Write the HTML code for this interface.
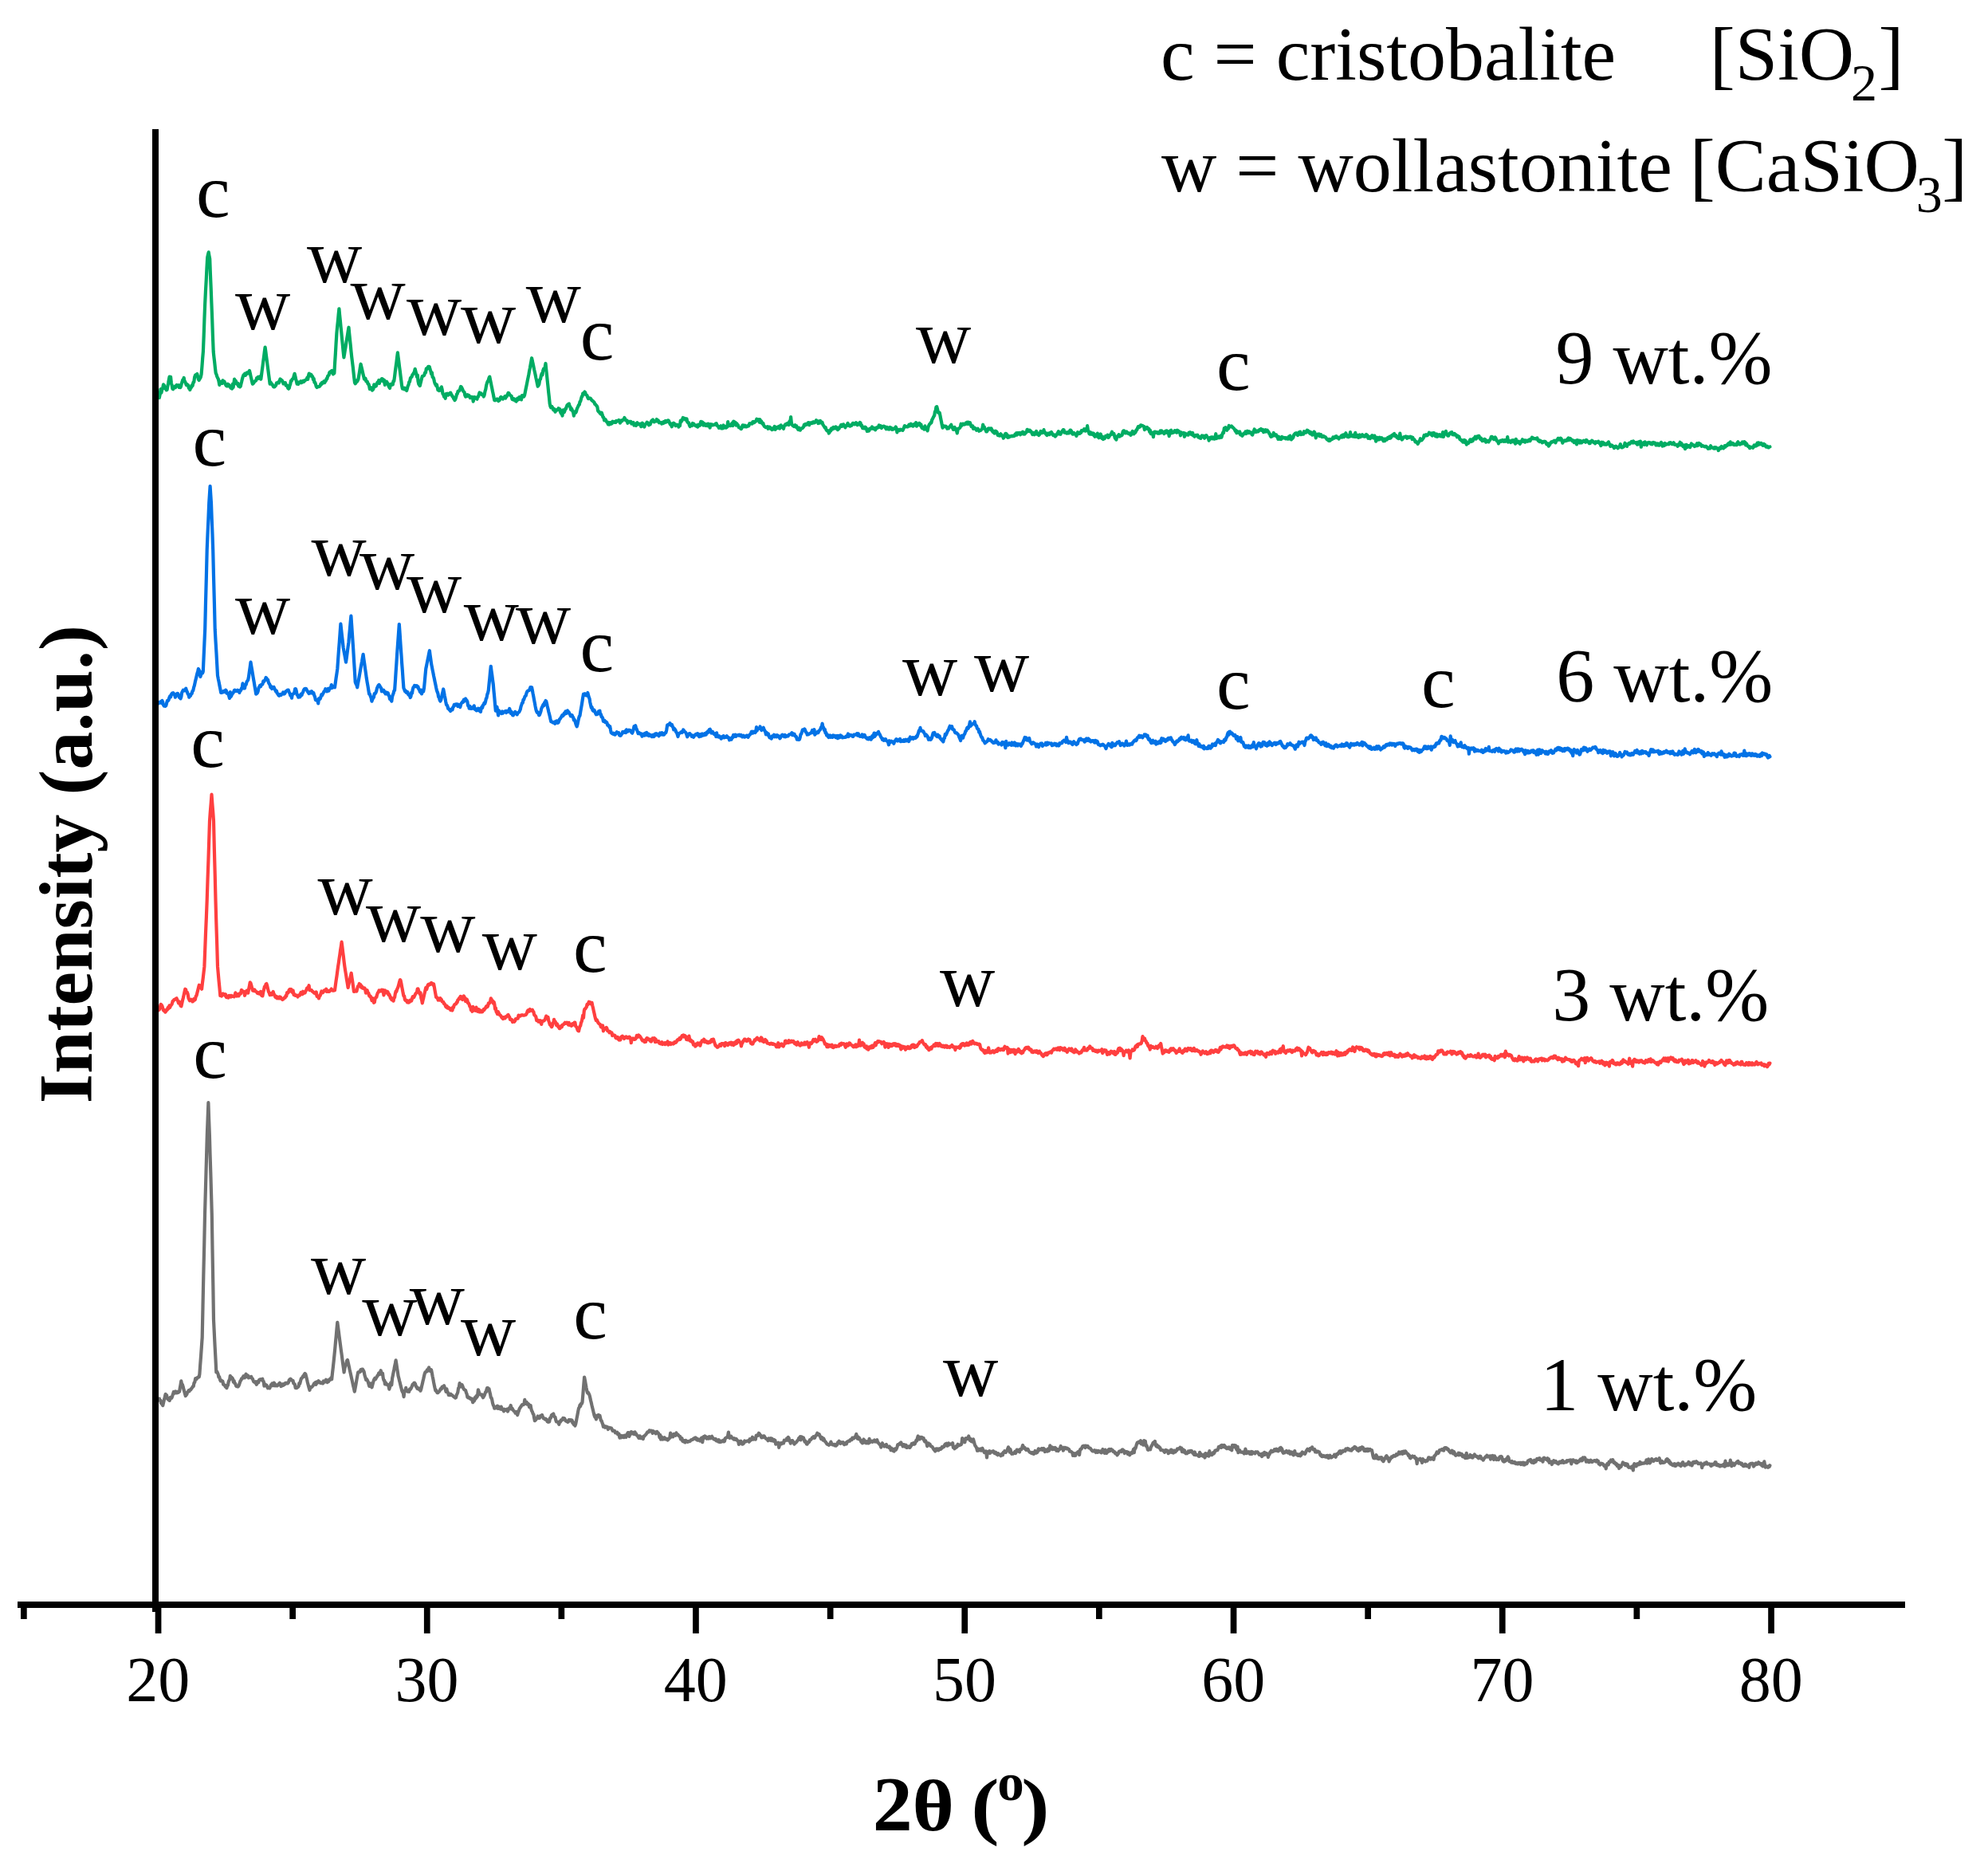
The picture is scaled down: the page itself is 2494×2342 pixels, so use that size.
<!DOCTYPE html>
<html><head><meta charset="utf-8"><title>XRD</title>
<style>html,body{margin:0;padding:0;background:#fff;}svg{display:block;}</style>
</head><body>
<svg width="2494" height="2342" viewBox="0 0 2494 2342">
<rect width="2494" height="2342" fill="#fff"/>
<path d="M199.9 1754.4 L200.6 1756.8 L201.4 1756.7 L202.1 1760.4 L202.8 1759.6 L203.6 1761.9 L204.3 1763.1 L205.1 1759.5 L205.9 1756.0 L206.8 1752.5 L207.6 1748.9 L208.3 1750.1 L209.1 1750.2 L209.8 1753.6 L210.5 1755.1 L211.3 1754.1 L212.0 1756.5 L212.8 1756.9 L213.7 1753.0 L214.5 1753.8 L215.3 1753.9 L216.1 1751.7 L216.9 1749.2 L217.8 1746.0 L218.6 1747.8 L219.4 1747.6 L220.2 1745.5 L221.0 1745.8 L221.8 1747.4 L222.7 1745.9 L223.5 1746.8 L224.3 1746.2 L225.1 1745.6 L225.8 1741.2 L226.6 1736.8 L227.3 1732.4 L228.1 1736.7 L228.9 1736.9 L229.7 1739.5 L230.4 1742.7 L231.2 1745.4 L232.0 1748.4 L232.8 1751.1 L233.6 1750.0 L234.4 1749.0 L235.2 1746.2 L235.9 1745.8 L236.7 1744.3 L237.5 1745.2 L238.3 1743.4 L239.2 1743.5 L240.1 1741.9 L240.9 1741.2 L241.8 1739.3 L242.7 1739.0 L243.5 1734.7 L244.3 1733.9 L245.2 1729.1 L246.0 1730.2 L246.7 1729.9 L247.5 1728.1 L248.2 1728.1 L248.9 1727.2 L249.7 1727.3 L250.4 1723.6 L251.2 1712.1 L252.1 1700.5 L252.9 1689.0 L253.7 1677.5 L254.5 1639.0 L255.3 1600.6 L256.2 1562.2 L257.0 1523.7 L257.7 1499.0 L258.4 1474.3 L259.1 1449.6 L259.8 1424.9 L260.6 1404.1 L261.4 1383.2 L262.1 1404.1 L262.9 1424.9 L263.6 1449.6 L264.4 1474.3 L265.1 1499.0 L265.8 1523.7 L266.5 1567.6 L267.3 1611.6 L268.0 1655.5 L268.8 1672.0 L269.6 1688.5 L270.5 1704.9 L271.3 1721.4 L272.1 1720.4 L272.9 1722.0 L273.7 1724.1 L274.4 1727.5 L275.2 1727.1 L276.0 1730.6 L276.8 1732.4 L277.6 1731.4 L278.5 1732.4 L279.3 1732.5 L280.2 1736.7 L281.0 1737.2 L281.9 1737.3 L282.7 1739.5 L283.6 1738.3 L284.4 1741.2 L285.1 1738.7 L285.9 1737.8 L286.6 1733.8 L287.3 1731.7 L288.1 1730.7 L288.8 1725.8 L289.6 1727.7 L290.4 1727.6 L291.2 1728.6 L292.0 1729.4 L292.8 1733.6 L293.6 1732.1 L294.4 1735.3 L295.2 1735.5 L296.0 1738.2 L296.8 1739.2 L297.6 1739.0 L298.4 1739.5 L299.2 1738.9 L300.0 1737.2 L300.7 1734.9 L301.5 1732.3 L302.3 1731.4 L303.1 1729.3 L303.9 1729.3 L304.7 1727.6 L305.5 1726.2 L306.2 1727.3 L307.0 1728.3 L307.8 1725.3 L308.6 1723.6 L309.4 1727.1 L310.2 1727.0 L311.1 1725.5 L311.9 1728.4 L312.7 1728.0 L313.6 1727.4 L314.4 1727.3 L315.2 1726.9 L316.0 1729.0 L316.9 1729.6 L317.7 1731.9 L318.5 1733.4 L319.3 1733.3 L320.1 1734.5 L321.0 1733.3 L321.8 1736.8 L322.6 1735.3 L323.4 1732.8 L324.3 1734.3 L325.1 1731.0 L325.9 1730.5 L326.8 1730.2 L327.6 1730.9 L328.4 1730.2 L329.2 1729.6 L329.9 1732.4 L330.7 1733.0 L331.4 1738.6 L332.2 1736.2 L333.0 1736.6 L333.7 1738.2 L334.5 1737.7 L335.2 1739.7 L336.0 1741.2 L336.8 1740.4 L337.5 1740.6 L338.3 1741.3 L339.1 1739.5 L339.9 1737.2 L340.6 1736.9 L341.4 1735.5 L342.2 1738.2 L342.9 1738.1 L343.7 1734.6 L344.5 1735.5 L345.3 1738.3 L346.1 1737.5 L346.9 1737.3 L347.7 1738.4 L348.5 1737.8 L349.3 1736.6 L350.1 1735.7 L350.9 1734.7 L351.7 1735.7 L352.5 1739.0 L353.3 1738.8 L354.1 1736.5 L354.9 1736.2 L355.6 1737.7 L356.4 1737.0 L357.2 1736.6 L358.0 1734.9 L358.8 1734.9 L359.6 1735.4 L360.4 1734.6 L361.1 1735.2 L361.9 1734.2 L362.7 1731.2 L363.5 1730.2 L364.3 1729.7 L365.1 1730.3 L365.9 1731.6 L366.7 1731.9 L367.5 1731.8 L368.3 1735.3 L369.1 1735.9 L369.9 1736.6 L370.7 1741.0 L371.5 1741.2 L372.3 1741.2 L373.1 1740.3 L373.9 1739.9 L374.7 1738.8 L375.4 1735.0 L376.2 1735.8 L377.0 1732.6 L377.8 1729.4 L378.6 1728.9 L379.4 1727.8 L380.2 1726.1 L380.9 1727.1 L381.7 1724.0 L382.5 1723.0 L383.3 1723.6 L384.2 1727.1 L385.1 1730.6 L385.9 1734.2 L386.8 1737.7 L387.7 1741.2 L388.5 1743.8 L389.3 1739.9 L390.1 1740.2 L390.9 1740.3 L391.7 1739.3 L392.5 1738.4 L393.3 1737.0 L394.1 1735.5 L394.9 1736.1 L395.7 1734.3 L396.5 1736.8 L397.3 1733.5 L398.1 1734.7 L398.8 1733.4 L399.6 1732.2 L400.4 1733.3 L401.2 1733.7 L401.9 1734.9 L402.7 1734.3 L403.5 1735.0 L404.3 1734.3 L405.1 1735.4 L405.8 1732.5 L406.6 1733.1 L407.4 1733.5 L408.2 1731.8 L409.0 1730.7 L409.8 1731.9 L410.6 1734.1 L411.4 1731.4 L412.2 1733.1 L413.0 1730.8 L413.8 1729.9 L414.6 1730.8 L415.4 1728.1 L416.2 1730.2 L417.0 1722.5 L417.9 1714.8 L418.7 1707.2 L419.5 1699.5 L420.3 1691.4 L421.0 1683.2 L421.8 1675.1 L422.5 1666.9 L423.3 1658.8 L424.1 1664.7 L424.9 1670.7 L425.6 1676.6 L426.4 1682.6 L427.2 1688.5 L427.9 1694.0 L428.7 1699.5 L429.4 1705.0 L430.1 1710.4 L430.9 1715.9 L431.6 1721.4 L432.5 1716.1 L433.4 1713.3 L434.2 1710.8 L435.1 1707.0 L436.0 1706.0 L436.9 1710.0 L437.8 1713.9 L438.6 1717.9 L439.5 1721.8 L440.4 1725.8 L441.1 1729.1 L441.9 1732.4 L442.6 1735.7 L443.3 1739.0 L444.1 1742.3 L444.8 1745.6 L445.7 1740.8 L446.6 1735.9 L447.4 1731.1 L448.3 1726.2 L449.2 1721.4 L450.0 1721.8 L450.9 1720.6 L451.7 1720.8 L452.5 1718.2 L453.3 1719.6 L454.1 1717.6 L455.0 1717.6 L455.8 1719.2 L456.6 1720.5 L457.5 1725.1 L458.3 1727.6 L459.2 1730.9 L460.0 1730.1 L460.9 1731.5 L461.7 1733.4 L462.6 1736.5 L463.4 1739.0 L464.2 1739.0 L464.9 1735.3 L465.7 1738.4 L466.5 1740.4 L467.2 1737.7 L468.0 1734.7 L468.8 1731.7 L469.6 1729.9 L470.3 1728.8 L471.1 1730.2 L471.9 1728.5 L472.8 1727.3 L473.6 1725.4 L474.4 1725.0 L475.2 1722.5 L476.1 1723.9 L476.9 1722.5 L477.7 1719.2 L478.5 1724.0 L479.2 1723.3 L480.0 1722.7 L480.7 1728.4 L481.5 1731.6 L482.2 1731.7 L483.0 1736.5 L483.8 1734.2 L484.5 1736.7 L485.3 1736.3 L486.0 1736.6 L486.8 1737.7 L487.5 1738.6 L488.3 1742.6 L489.1 1740.0 L489.8 1735.2 L490.6 1734.1 L491.3 1737.4 L492.1 1729.0 L492.9 1725.2 L493.6 1721.5 L494.4 1717.7 L495.1 1713.9 L495.9 1710.2 L496.6 1706.4 L497.4 1711.3 L498.1 1716.2 L498.9 1721.1 L499.6 1726.0 L500.4 1729.0 L501.1 1732.0 L501.9 1735.0 L502.6 1738.1 L503.4 1741.1 L504.1 1744.1 L504.9 1746.0 L505.8 1747.4 L506.6 1752.1 L507.5 1744.6 L508.3 1744.6 L509.2 1740.9 L510.0 1744.1 L510.9 1745.4 L511.7 1745.6 L512.5 1744.1 L513.2 1745.8 L514.0 1742.5 L514.7 1743.0 L515.5 1741.9 L516.2 1740.5 L517.0 1738.6 L517.7 1736.5 L518.5 1736.6 L519.3 1734.9 L520.1 1734.7 L521.0 1735.9 L521.8 1739.3 L522.6 1739.4 L523.4 1742.0 L524.2 1742.1 L525.0 1741.4 L525.9 1743.0 L526.7 1741.7 L527.5 1744.7 L528.3 1742.6 L529.0 1739.3 L529.8 1736.1 L530.5 1732.8 L531.3 1729.5 L532.0 1726.3 L532.8 1723.0 L533.6 1721.1 L534.3 1720.6 L535.1 1720.7 L535.8 1718.4 L536.6 1719.7 L537.3 1716.9 L538.1 1715.4 L538.9 1719.4 L539.6 1719.9 L540.4 1717.9 L541.1 1718.4 L541.9 1722.3 L542.6 1726.3 L543.4 1730.2 L544.1 1734.2 L544.9 1738.1 L545.6 1741.3 L546.4 1744.4 L547.1 1743.8 L547.9 1745.9 L548.6 1747.1 L549.4 1747.1 L550.1 1746.0 L550.9 1745.6 L551.6 1744.6 L552.4 1742.8 L553.1 1741.8 L553.9 1742.2 L554.6 1739.6 L555.4 1739.6 L556.2 1739.1 L557.1 1738.2 L557.9 1740.8 L558.7 1742.5 L559.5 1745.8 L560.4 1742.3 L561.2 1746.2 L562.0 1746.9 L562.8 1749.9 L563.7 1749.7 L564.5 1750.1 L565.3 1748.6 L566.2 1749.7 L567.0 1750.0 L567.8 1750.7 L568.7 1751.6 L569.5 1752.2 L570.3 1752.5 L571.2 1753.6 L572.0 1753.2 L572.8 1749.7 L573.5 1748.6 L574.3 1746.5 L575.1 1741.3 L575.8 1740.7 L576.6 1735.0 L577.4 1736.3 L578.1 1736.7 L578.9 1739.4 L579.6 1737.1 L580.4 1738.9 L581.1 1741.1 L581.9 1742.5 L582.6 1743.3 L583.4 1743.6 L584.1 1744.2 L584.9 1747.0 L585.6 1748.6 L586.4 1752.6 L587.1 1753.2 L587.9 1752.5 L588.6 1753.8 L589.4 1753.5 L590.2 1754.8 L590.9 1755.1 L591.7 1754.5 L592.4 1756.2 L593.2 1759.2 L594.0 1756.0 L594.9 1757.4 L595.7 1753.2 L596.5 1754.9 L597.4 1751.2 L598.2 1752.8 L599.0 1751.3 L599.9 1743.3 L600.7 1745.6 L601.5 1748.0 L602.2 1749.3 L603.0 1749.2 L603.7 1749.7 L604.5 1749.5 L605.2 1751.5 L606.0 1753.2 L606.8 1751.7 L607.5 1750.7 L608.2 1749.0 L609.0 1746.4 L609.8 1746.2 L610.5 1743.0 L611.2 1741.0 L612.0 1741.1 L612.8 1742.8 L613.5 1742.2 L614.3 1746.2 L615.0 1748.6 L615.8 1753.2 L616.5 1753.4 L617.3 1756.1 L618.0 1760.0 L618.8 1762.7 L619.5 1763.8 L620.3 1766.7 L621.1 1766.2 L621.8 1766.4 L622.6 1764.6 L623.3 1764.1 L624.1 1763.6 L624.9 1766.9 L625.6 1764.4 L626.4 1765.7 L627.1 1765.9 L627.9 1767.5 L628.7 1764.6 L629.5 1766.6 L630.4 1768.3 L631.2 1768.4 L632.0 1770.3 L632.8 1767.7 L633.6 1768.3 L634.4 1768.7 L635.3 1769.1 L636.1 1767.7 L636.9 1770.5 L637.7 1768.8 L638.4 1766.5 L639.2 1766.2 L639.9 1765.8 L640.7 1763.0 L641.6 1767.5 L642.4 1766.4 L643.2 1768.1 L644.1 1769.3 L645.0 1770.3 L645.8 1770.7 L646.6 1772.7 L647.5 1772.8 L648.3 1770.8 L649.2 1775.1 L650.0 1771.9 L650.8 1770.1 L651.7 1767.2 L652.5 1765.9 L653.3 1764.8 L654.2 1763.3 L655.0 1762.2 L655.8 1762.1 L656.6 1762.2 L657.4 1761.5 L658.3 1755.9 L659.1 1760.9 L659.9 1758.7 L660.7 1758.9 L661.5 1761.7 L662.3 1760.6 L663.2 1761.5 L664.0 1765.0 L664.8 1764.1 L665.6 1763.0 L666.4 1767.4 L667.1 1769.8 L667.9 1771.0 L668.6 1773.3 L669.4 1774.2 L670.1 1778.6 L670.9 1782.2 L671.6 1781.8 L672.4 1780.8 L673.1 1779.0 L673.9 1779.1 L674.6 1776.5 L675.4 1778.8 L676.2 1779.0 L676.9 1778.9 L677.7 1776.1 L678.4 1776.2 L679.2 1775.8 L680.0 1774.9 L680.9 1777.4 L681.7 1779.1 L682.5 1779.1 L683.4 1780.2 L684.2 1779.7 L685.0 1781.1 L685.9 1780.7 L686.7 1783.3 L687.5 1783.8 L688.4 1782.2 L689.2 1783.5 L690.1 1778.5 L690.9 1778.9 L691.8 1775.4 L692.6 1774.7 L693.5 1774.1 L694.3 1773.5 L695.0 1776.6 L695.8 1777.3 L696.5 1777.8 L697.3 1781.6 L698.0 1783.4 L698.8 1783.3 L699.6 1784.0 L700.5 1784.5 L701.3 1786.8 L702.1 1783.2 L703.0 1783.6 L703.8 1781.4 L704.6 1781.7 L705.5 1781.2 L706.3 1778.8 L707.1 1779.7 L708.0 1779.1 L708.8 1780.6 L709.6 1782.2 L710.4 1782.8 L711.3 1782.7 L712.1 1783.8 L712.9 1783.7 L713.7 1781.1 L714.6 1781.2 L715.4 1781.1 L716.2 1782.3 L716.9 1781.3 L717.7 1781.6 L718.4 1785.0 L719.2 1784.1 L719.9 1787.0 L720.7 1786.8 L721.4 1788.5 L722.2 1786.3 L723.0 1782.4 L723.7 1778.5 L724.5 1774.5 L725.2 1770.6 L726.0 1766.7 L726.8 1765.4 L727.5 1762.5 L728.2 1764.0 L729.0 1760.7 L729.8 1760.8 L730.5 1759.2 L731.4 1748.6 L732.2 1738.1 L733.1 1727.5 L734.0 1732.0 L734.8 1736.5 L735.6 1741.1 L736.5 1745.6 L737.2 1747.5 L738.0 1746.8 L738.8 1748.5 L739.5 1750.1 L740.3 1753.3 L741.0 1756.5 L741.8 1759.7 L742.5 1762.9 L743.3 1766.2 L744.1 1769.4 L744.8 1772.6 L745.6 1775.8 L746.4 1777.7 L747.1 1775.6 L747.9 1780.4 L748.6 1778.2 L749.4 1777.4 L750.1 1775.4 L750.9 1774.9 L751.6 1777.3 L752.4 1775.6 L753.1 1778.5 L753.9 1781.9 L754.6 1782.0 L755.4 1784.7 L756.1 1786.3 L756.9 1789.8 L757.6 1788.4 L758.4 1789.2 L759.1 1790.7 L759.9 1789.4 L760.7 1789.5 L761.4 1790.9 L762.2 1790.2 L762.9 1793.0 L763.7 1790.9 L764.5 1790.8 L765.3 1791.4 L766.2 1791.4 L767.0 1791.6 L767.8 1793.1 L768.6 1794.9 L769.4 1794.8 L770.2 1794.6 L771.1 1795.0 L771.9 1797.3 L772.7 1796.9 L773.5 1797.3 L774.3 1796.7 L775.0 1799.3 L775.8 1799.3 L776.6 1798.8 L777.4 1803.6 L778.2 1802.9 L779.0 1803.3 L779.7 1800.9 L780.5 1802.0 L781.3 1802.8 L782.1 1801.1 L782.9 1803.1 L783.7 1800.5 L784.5 1800.5 L785.3 1802.9 L786.1 1800.9 L787.0 1798.5 L787.8 1797.1 L788.6 1797.2 L789.4 1802.0 L790.2 1799.3 L791.0 1799.2 L791.8 1796.1 L792.6 1796.5 L793.4 1796.5 L794.2 1798.5 L795.0 1797.1 L795.8 1799.2 L796.5 1796.3 L797.3 1798.6 L798.1 1798.5 L798.9 1800.5 L799.7 1801.0 L800.5 1802.3 L801.3 1803.8 L802.1 1801.3 L802.8 1801.4 L803.6 1804.2 L804.4 1802.6 L805.2 1804.0 L806.0 1802.7 L806.8 1805.0 L807.6 1801.7 L808.4 1801.7 L809.1 1800.5 L809.9 1799.8 L810.7 1799.0 L811.5 1797.7 L812.3 1796.2 L813.1 1796.0 L813.9 1796.4 L814.7 1794.3 L815.5 1795.2 L816.3 1795.1 L817.1 1794.6 L817.9 1796.1 L818.7 1797.9 L819.5 1795.2 L820.3 1796.5 L821.1 1796.9 L821.9 1796.5 L822.7 1798.3 L823.5 1797.6 L824.3 1795.9 L825.1 1797.7 L825.9 1797.6 L826.7 1799.5 L827.5 1803.4 L828.2 1800.0 L829.0 1805.7 L829.8 1802.3 L830.6 1803.4 L831.4 1805.5 L832.2 1805.2 L833.0 1805.1 L833.8 1803.3 L834.6 1805.4 L835.4 1804.8 L836.2 1805.7 L837.0 1805.0 L837.8 1806.5 L838.6 1804.9 L839.5 1804.9 L840.3 1803.3 L841.1 1797.7 L841.9 1802.6 L842.7 1800.2 L843.5 1800.3 L844.3 1802.2 L845.1 1798.8 L846.0 1799.2 L846.8 1799.7 L847.6 1800.7 L848.4 1797.3 L849.2 1799.7 L850.0 1799.3 L850.8 1799.9 L851.6 1801.1 L852.4 1801.7 L853.1 1801.8 L853.9 1805.3 L854.7 1805.0 L855.5 1804.2 L856.3 1807.7 L857.1 1808.2 L857.9 1806.9 L858.6 1808.8 L859.4 1809.4 L860.2 1806.8 L861.0 1807.8 L861.8 1807.8 L862.6 1808.8 L863.4 1807.8 L864.2 1808.2 L865.0 1808.2 L865.9 1807.7 L866.7 1806.5 L867.5 1806.0 L868.3 1806.1 L869.1 1805.8 L869.9 1804.7 L870.7 1804.7 L871.5 1803.8 L872.4 1803.5 L873.2 1805.5 L874.0 1804.2 L874.8 1806.5 L875.6 1805.3 L876.4 1806.5 L877.2 1806.2 L878.0 1807.5 L878.8 1805.4 L879.6 1804.3 L880.4 1803.5 L881.2 1809.1 L882.0 1804.1 L882.8 1802.3 L883.6 1803.8 L884.4 1801.5 L885.2 1802.0 L886.0 1803.0 L886.8 1804.7 L887.5 1802.9 L888.3 1804.0 L889.1 1804.6 L889.9 1802.2 L890.7 1803.5 L891.5 1804.2 L892.3 1802.3 L893.1 1801.8 L893.8 1803.3 L894.6 1803.9 L895.4 1805.4 L896.2 1805.1 L897.0 1806.0 L897.8 1804.9 L898.6 1807.3 L899.4 1806.5 L900.1 1806.7 L900.9 1808.2 L901.7 1806.2 L902.5 1809.0 L903.3 1809.0 L904.1 1808.9 L904.9 1807.6 L905.7 1808.3 L906.5 1807.4 L907.4 1806.7 L908.2 1808.4 L909.0 1807.8 L909.8 1804.2 L910.6 1803.7 L911.4 1803.1 L912.2 1803.1 L913.0 1801.6 L913.9 1796.5 L914.7 1803.2 L915.5 1803.8 L916.3 1801.6 L917.1 1801.5 L917.9 1802.9 L918.7 1804.2 L919.6 1804.5 L920.4 1805.5 L921.2 1804.3 L922.0 1805.8 L922.8 1805.7 L923.6 1804.9 L924.5 1806.4 L925.3 1807.4 L926.1 1807.4 L926.9 1812.0 L927.7 1808.7 L928.5 1808.9 L929.4 1807.7 L930.2 1809.3 L931.0 1811.6 L931.8 1811.5 L932.6 1810.9 L933.4 1809.8 L934.2 1807.5 L935.0 1808.5 L935.8 1808.4 L936.6 1807.8 L937.4 1807.6 L938.2 1807.7 L939.0 1807.0 L939.8 1808.7 L940.6 1805.2 L941.5 1806.8 L942.3 1804.8 L943.1 1806.0 L943.9 1802.7 L944.7 1803.7 L945.5 1805.5 L946.3 1804.8 L947.1 1804.4 L947.9 1805.5 L948.7 1800.5 L949.5 1800.5 L950.3 1799.9 L951.1 1800.7 L951.9 1797.7 L952.8 1798.7 L953.6 1800.0 L954.4 1800.7 L955.3 1803.3 L956.1 1802.0 L956.9 1803.1 L957.8 1801.4 L958.6 1801.3 L959.4 1802.8 L960.3 1803.9 L961.1 1804.8 L961.9 1805.0 L962.7 1805.8 L963.5 1807.2 L964.3 1804.3 L965.1 1806.6 L965.9 1804.7 L966.7 1804.2 L967.5 1807.1 L968.3 1804.6 L969.1 1807.3 L970.0 1807.7 L970.8 1805.9 L971.6 1806.5 L972.4 1806.9 L973.2 1811.7 L974.0 1810.6 L974.8 1810.5 L975.6 1810.3 L976.4 1809.8 L977.2 1815.8 L978.0 1812.8 L978.8 1811.6 L979.6 1810.3 L980.5 1811.2 L981.3 1810.0 L982.1 1809.7 L983.0 1810.4 L983.8 1806.6 L984.6 1807.5 L985.5 1806.9 L986.3 1806.7 L987.1 1804.5 L988.0 1806.6 L988.8 1802.8 L989.6 1804.0 L990.3 1807.7 L991.1 1807.2 L991.8 1810.7 L992.6 1807.8 L993.4 1807.0 L994.1 1807.0 L994.9 1808.7 L995.6 1809.4 L996.4 1811.6 L997.2 1809.6 L998.1 1809.9 L998.9 1809.2 L999.7 1808.2 L1000.6 1806.8 L1001.4 1806.4 L1002.2 1803.9 L1003.1 1803.3 L1003.9 1802.1 L1004.7 1806.4 L1005.6 1802.4 L1006.4 1802.8 L1007.2 1803.9 L1008.0 1803.6 L1008.8 1805.9 L1009.5 1808.5 L1010.3 1807.6 L1011.1 1809.3 L1011.9 1811.4 L1012.7 1811.6 L1013.5 1809.1 L1014.3 1809.5 L1015.1 1808.9 L1015.9 1806.2 L1016.6 1806.3 L1017.4 1805.7 L1018.2 1804.7 L1019.0 1803.3 L1019.8 1803.6 L1020.6 1802.1 L1021.4 1803.8 L1022.1 1803.7 L1022.9 1801.6 L1023.7 1800.6 L1024.5 1799.8 L1025.3 1797.7 L1026.1 1799.8 L1026.9 1798.8 L1027.7 1799.0 L1028.5 1801.1 L1029.3 1802.9 L1030.1 1805.0 L1030.9 1803.0 L1031.7 1803.5 L1032.5 1806.5 L1033.3 1804.5 L1034.1 1806.5 L1034.9 1808.1 L1035.8 1808.7 L1036.6 1810.2 L1037.4 1811.5 L1038.3 1812.0 L1039.1 1811.9 L1039.9 1812.8 L1040.8 1811.5 L1041.6 1811.6 L1042.4 1808.6 L1043.2 1810.9 L1044.0 1811.4 L1044.8 1812.5 L1045.6 1812.3 L1046.4 1812.0 L1047.2 1813.4 L1048.0 1811.9 L1048.8 1813.5 L1049.5 1812.9 L1050.3 1812.1 L1051.1 1809.2 L1051.9 1809.0 L1052.7 1807.7 L1053.5 1809.8 L1054.3 1810.8 L1055.1 1809.2 L1055.9 1809.5 L1056.7 1810.3 L1057.5 1809.1 L1058.4 1810.1 L1059.2 1812.2 L1060.1 1810.5 L1060.9 1810.0 L1061.8 1811.4 L1062.6 1808.6 L1063.5 1808.8 L1064.3 1807.8 L1065.1 1807.3 L1066.0 1807.7 L1066.8 1806.0 L1067.6 1805.7 L1068.5 1806.1 L1069.3 1803.7 L1070.1 1803.7 L1071.0 1804.4 L1071.8 1803.7 L1072.6 1802.6 L1073.5 1801.1 L1074.3 1799.0 L1075.1 1802.0 L1075.8 1804.7 L1076.6 1802.5 L1077.3 1805.2 L1078.1 1803.8 L1078.9 1805.9 L1079.6 1806.6 L1080.4 1808.9 L1081.1 1808.1 L1081.9 1810.3 L1082.7 1809.0 L1083.5 1805.5 L1084.3 1809.5 L1085.1 1807.2 L1085.9 1809.5 L1086.7 1810.4 L1087.5 1810.1 L1088.3 1808.2 L1089.1 1810.5 L1089.8 1810.5 L1090.6 1804.8 L1091.4 1809.1 L1092.2 1808.6 L1093.0 1807.8 L1093.8 1807.7 L1094.6 1808.8 L1095.4 1807.7 L1096.2 1807.5 L1097.0 1806.5 L1097.8 1808.5 L1098.7 1807.7 L1099.5 1807.0 L1100.3 1806.2 L1101.2 1809.6 L1102.0 1809.9 L1102.8 1811.1 L1103.7 1812.0 L1104.5 1813.1 L1105.3 1815.5 L1106.2 1812.0 L1107.0 1810.3 L1107.8 1812.7 L1108.6 1812.9 L1109.5 1814.5 L1110.3 1813.5 L1111.1 1812.5 L1111.9 1811.9 L1112.7 1814.9 L1113.5 1814.5 L1114.4 1814.9 L1115.2 1815.9 L1116.0 1814.5 L1116.8 1816.3 L1117.6 1819.2 L1118.4 1816.6 L1119.3 1818.3 L1120.1 1819.7 L1120.9 1818.4 L1121.7 1820.6 L1122.5 1817.5 L1123.2 1817.7 L1124.0 1818.6 L1124.8 1817.1 L1125.5 1815.1 L1126.3 1812.1 L1127.1 1812.3 L1127.9 1811.9 L1128.7 1810.7 L1129.5 1810.4 L1130.3 1809.4 L1131.1 1812.2 L1131.9 1811.6 L1132.7 1814.3 L1133.5 1812.1 L1134.3 1812.0 L1135.0 1814.5 L1135.8 1813.9 L1136.6 1812.8 L1137.4 1816.0 L1138.2 1815.9 L1139.0 1815.0 L1139.8 1814.3 L1140.6 1814.4 L1141.4 1815.9 L1142.2 1814.8 L1143.0 1813.6 L1143.8 1810.9 L1144.6 1810.9 L1145.3 1811.7 L1146.1 1810.1 L1146.9 1811.7 L1147.7 1811.4 L1148.5 1809.1 L1149.3 1806.9 L1150.1 1807.5 L1150.9 1804.0 L1151.7 1801.4 L1152.4 1805.4 L1153.2 1803.3 L1154.0 1805.2 L1154.8 1802.8 L1155.6 1803.3 L1156.3 1802.9 L1157.1 1803.2 L1157.8 1804.9 L1158.6 1803.9 L1159.4 1807.0 L1160.1 1808.4 L1160.9 1807.1 L1161.6 1808.3 L1162.4 1810.3 L1163.2 1814.2 L1164.1 1812.3 L1164.9 1810.5 L1165.7 1811.6 L1166.6 1811.6 L1167.4 1813.9 L1168.2 1814.3 L1169.1 1814.6 L1169.9 1815.4 L1170.7 1816.9 L1171.6 1818.4 L1172.4 1819.1 L1173.2 1820.5 L1174.0 1817.5 L1174.8 1817.3 L1175.6 1819.1 L1176.4 1817.4 L1177.2 1819.3 L1178.0 1818.6 L1178.8 1817.2 L1179.6 1816.9 L1180.4 1817.8 L1181.2 1816.9 L1182.0 1814.8 L1182.8 1815.7 L1183.6 1814.9 L1184.4 1814.9 L1185.2 1812.5 L1186.0 1811.3 L1186.8 1811.6 L1187.6 1810.7 L1188.4 1813.7 L1189.2 1813.2 L1190.0 1810.3 L1190.8 1812.2 L1191.7 1811.4 L1192.5 1811.7 L1193.4 1811.3 L1194.2 1811.9 L1195.1 1810.1 L1195.9 1815.9 L1196.8 1814.7 L1197.6 1817.3 L1198.4 1815.4 L1199.2 1816.0 L1200.0 1813.8 L1200.8 1814.8 L1201.6 1811.7 L1202.4 1813.1 L1203.2 1813.2 L1204.0 1812.8 L1204.8 1812.4 L1205.6 1812.2 L1206.4 1811.1 L1207.2 1804.0 L1208.0 1807.9 L1208.8 1808.3 L1209.6 1807.4 L1210.4 1809.2 L1211.2 1804.3 L1212.0 1804.2 L1212.8 1804.3 L1213.6 1805.0 L1214.4 1804.1 L1215.2 1801.5 L1216.0 1804.1 L1216.9 1806.9 L1217.7 1804.9 L1218.5 1808.0 L1219.4 1806.7 L1220.2 1808.7 L1221.0 1805.4 L1221.9 1808.5 L1222.7 1811.8 L1223.5 1813.8 L1224.4 1814.7 L1225.2 1816.6 L1226.0 1819.8 L1226.8 1817.3 L1227.6 1819.5 L1228.4 1818.5 L1229.2 1818.1 L1230.0 1817.4 L1230.8 1819.7 L1231.6 1817.7 L1232.4 1816.7 L1233.2 1818.6 L1234.0 1819.9 L1234.8 1822.0 L1235.6 1821.1 L1236.4 1822.6 L1237.2 1820.4 L1238.0 1828.4 L1238.8 1821.8 L1239.6 1822.9 L1240.4 1820.7 L1241.2 1820.1 L1242.0 1822.9 L1242.8 1821.6 L1243.6 1820.8 L1244.4 1821.3 L1245.2 1820.9 L1246.0 1820.2 L1246.8 1821.7 L1247.6 1823.0 L1248.4 1821.5 L1249.2 1821.7 L1250.0 1824.2 L1250.7 1824.3 L1251.5 1825.2 L1252.3 1823.3 L1253.1 1824.2 L1253.9 1824.8 L1254.7 1824.9 L1255.5 1826.2 L1256.3 1824.9 L1257.1 1823.6 L1257.9 1825.4 L1258.7 1821.8 L1259.5 1822.3 L1260.3 1820.2 L1261.1 1821.9 L1261.8 1822.1 L1262.6 1820.0 L1263.4 1819.5 L1264.2 1817.6 L1265.0 1815.3 L1265.8 1817.0 L1266.7 1821.5 L1267.5 1818.0 L1268.3 1821.2 L1269.2 1823.8 L1270.0 1823.3 L1270.8 1823.6 L1271.6 1822.9 L1272.5 1822.7 L1273.3 1820.9 L1274.1 1823.0 L1274.9 1821.2 L1275.7 1818.7 L1276.5 1818.7 L1277.4 1819.7 L1278.2 1820.8 L1279.0 1821.4 L1279.8 1818.1 L1280.6 1817.6 L1281.4 1818.0 L1282.3 1815.7 L1283.1 1812.9 L1283.9 1815.8 L1284.7 1816.7 L1285.5 1816.0 L1286.3 1817.8 L1287.1 1818.8 L1288.0 1818.1 L1288.8 1817.6 L1289.6 1818.0 L1290.4 1820.1 L1291.2 1820.9 L1292.0 1821.8 L1292.8 1822.3 L1293.6 1822.8 L1294.5 1822.0 L1295.3 1823.3 L1296.1 1822.3 L1296.9 1823.9 L1297.7 1822.8 L1298.5 1820.0 L1299.4 1820.9 L1300.2 1822.5 L1301.1 1822.0 L1301.9 1820.8 L1302.8 1817.3 L1303.6 1817.8 L1304.5 1818.8 L1305.3 1818.3 L1306.1 1817.8 L1306.9 1817.0 L1307.7 1818.9 L1308.5 1818.5 L1309.3 1816.9 L1310.1 1818.5 L1310.9 1821.1 L1311.7 1818.4 L1312.5 1819.0 L1313.3 1820.1 L1314.1 1820.6 L1314.9 1817.4 L1315.7 1819.9 L1316.5 1819.1 L1317.3 1813.3 L1318.1 1816.6 L1318.9 1816.0 L1319.7 1815.4 L1320.5 1818.2 L1321.3 1815.9 L1322.1 1817.9 L1322.9 1817.8 L1323.7 1815.9 L1324.5 1816.7 L1325.3 1819.8 L1326.1 1817.8 L1326.8 1818.3 L1327.6 1820.0 L1328.4 1818.1 L1329.2 1818.2 L1330.0 1816.3 L1330.8 1814.0 L1331.6 1816.9 L1332.3 1817.0 L1333.1 1816.8 L1333.9 1819.6 L1334.7 1815.7 L1335.5 1816.5 L1336.3 1815.8 L1337.1 1816.3 L1337.9 1817.4 L1338.7 1816.6 L1339.6 1817.2 L1340.4 1817.9 L1341.2 1818.4 L1342.0 1820.7 L1342.8 1820.7 L1343.6 1820.8 L1344.4 1821.5 L1345.2 1822.1 L1346.1 1825.9 L1346.9 1824.1 L1347.7 1823.3 L1348.5 1826.0 L1349.3 1825.8 L1350.1 1823.3 L1350.9 1822.4 L1351.7 1822.1 L1352.5 1821.0 L1353.3 1821.2 L1354.1 1825.0 L1354.9 1818.8 L1355.8 1817.5 L1356.6 1817.6 L1357.4 1815.8 L1358.2 1814.3 L1359.0 1814.7 L1359.8 1813.6 L1360.6 1814.0 L1361.4 1816.0 L1362.2 1813.6 L1362.9 1815.0 L1363.7 1814.8 L1364.5 1813.9 L1365.3 1815.3 L1366.0 1816.2 L1366.8 1816.4 L1367.6 1816.5 L1368.4 1817.6 L1369.1 1818.5 L1369.9 1819.7 L1370.7 1820.3 L1371.5 1820.4 L1372.3 1820.3 L1373.1 1819.2 L1373.9 1820.7 L1374.7 1822.0 L1375.5 1819.7 L1376.3 1820.2 L1377.1 1821.8 L1377.9 1820.0 L1378.6 1821.1 L1379.4 1821.0 L1380.2 1820.5 L1381.0 1822.0 L1381.8 1822.4 L1382.6 1821.1 L1383.4 1818.0 L1384.2 1820.7 L1385.0 1821.2 L1385.8 1822.8 L1386.6 1818.6 L1387.5 1821.8 L1388.3 1822.9 L1389.1 1819.9 L1390.0 1821.2 L1390.8 1818.3 L1391.6 1817.9 L1392.5 1820.1 L1393.3 1818.4 L1394.1 1817.9 L1395.0 1819.1 L1395.8 1819.0 L1396.6 1821.1 L1397.5 1820.9 L1398.3 1821.4 L1399.1 1823.2 L1400.0 1822.6 L1400.8 1823.3 L1401.6 1825.4 L1402.3 1824.0 L1403.1 1823.4 L1403.8 1821.0 L1404.6 1820.4 L1405.4 1820.4 L1406.1 1819.9 L1406.9 1821.0 L1407.6 1818.7 L1408.4 1818.3 L1409.2 1819.4 L1410.0 1819.5 L1410.8 1823.0 L1411.6 1822.0 L1412.4 1821.3 L1413.2 1821.0 L1414.0 1821.0 L1414.8 1823.8 L1415.6 1821.8 L1416.4 1824.1 L1417.2 1825.3 L1418.0 1823.8 L1418.8 1823.5 L1419.6 1821.9 L1420.4 1823.1 L1421.2 1820.9 L1422.0 1818.0 L1422.8 1822.1 L1423.6 1816.4 L1424.4 1817.0 L1425.2 1814.6 L1426.0 1811.5 L1426.8 1809.7 L1427.7 1809.8 L1428.5 1808.7 L1429.3 1809.7 L1430.2 1809.8 L1431.0 1807.2 L1431.8 1811.4 L1432.7 1811.3 L1433.5 1810.8 L1434.3 1812.6 L1435.2 1807.0 L1436.0 1809.7 L1436.8 1807.6 L1437.6 1813.6 L1438.4 1813.1 L1439.2 1815.3 L1439.9 1818.6 L1440.7 1818.8 L1441.5 1818.0 L1442.3 1817.8 L1443.1 1818.3 L1444.0 1814.7 L1444.8 1813.8 L1445.6 1812.2 L1446.4 1810.2 L1447.3 1809.2 L1448.1 1809.0 L1448.9 1807.9 L1449.7 1812.5 L1450.5 1814.1 L1451.3 1812.4 L1452.2 1815.2 L1453.0 1814.0 L1453.8 1814.5 L1454.6 1816.6 L1455.4 1816.2 L1456.2 1819.0 L1457.0 1818.8 L1457.8 1819.1 L1458.6 1819.3 L1459.4 1819.4 L1460.2 1820.7 L1461.0 1821.8 L1461.8 1820.5 L1462.6 1818.9 L1463.4 1820.2 L1464.1 1819.5 L1464.9 1819.7 L1465.7 1823.2 L1466.5 1822.2 L1467.3 1822.2 L1468.1 1820.8 L1468.9 1818.7 L1469.7 1818.6 L1470.5 1822.0 L1471.3 1821.6 L1472.1 1822.4 L1473.0 1819.6 L1473.8 1819.6 L1474.6 1821.3 L1475.5 1819.5 L1476.3 1819.4 L1477.1 1817.4 L1478.0 1817.7 L1478.8 1817.0 L1479.6 1817.4 L1480.5 1815.7 L1481.3 1817.8 L1482.1 1816.4 L1482.9 1821.2 L1483.7 1820.4 L1484.5 1818.5 L1485.3 1821.6 L1486.1 1819.5 L1486.9 1822.4 L1487.7 1823.3 L1488.5 1822.1 L1489.2 1823.2 L1490.0 1822.3 L1490.8 1820.5 L1491.6 1821.9 L1492.4 1820.2 L1493.2 1819.9 L1494.0 1821.0 L1494.8 1819.9 L1495.6 1821.5 L1496.4 1822.8 L1497.2 1822.6 L1498.0 1824.8 L1498.8 1821.5 L1499.6 1825.1 L1500.3 1824.1 L1501.1 1825.1 L1501.9 1825.1 L1502.7 1825.5 L1503.5 1826.5 L1504.3 1826.9 L1505.1 1821.9 L1505.8 1826.2 L1506.6 1823.7 L1507.4 1825.4 L1508.2 1825.1 L1509.0 1826.6 L1509.8 1825.7 L1510.7 1824.5 L1511.5 1828.5 L1512.3 1823.1 L1513.2 1824.0 L1514.0 1826.0 L1514.8 1825.4 L1515.7 1823.1 L1516.5 1826.6 L1517.3 1820.2 L1518.1 1823.5 L1518.8 1824.3 L1519.6 1824.9 L1520.4 1825.1 L1521.2 1823.9 L1521.9 1822.3 L1522.7 1823.5 L1523.5 1822.5 L1524.3 1819.7 L1525.0 1820.0 L1525.8 1819.1 L1526.6 1819.0 L1527.4 1819.1 L1528.2 1817.4 L1528.9 1814.8 L1529.7 1815.7 L1530.5 1814.8 L1531.3 1813.6 L1532.0 1815.9 L1532.8 1812.8 L1533.6 1813.0 L1534.4 1813.5 L1535.1 1815.2 L1535.9 1813.0 L1536.7 1814.0 L1537.5 1816.0 L1538.3 1815.4 L1539.0 1817.2 L1539.8 1816.5 L1540.6 1815.7 L1541.4 1817.1 L1542.2 1815.5 L1543.0 1817.7 L1543.7 1818.0 L1544.5 1815.9 L1545.3 1819.3 L1546.1 1812.8 L1546.9 1813.9 L1547.6 1814.1 L1548.4 1812.9 L1549.2 1815.3 L1550.0 1813.3 L1550.9 1817.3 L1551.7 1818.8 L1552.6 1814.9 L1553.4 1822.2 L1554.3 1819.1 L1555.1 1819.1 L1556.0 1821.2 L1556.8 1821.6 L1557.6 1821.6 L1558.4 1821.8 L1559.2 1821.3 L1560.0 1822.1 L1560.8 1823.5 L1561.6 1822.6 L1562.4 1817.5 L1563.2 1820.4 L1564.0 1823.1 L1564.8 1821.2 L1565.6 1822.4 L1566.4 1821.1 L1567.2 1822.6 L1568.0 1823.9 L1568.8 1821.6 L1569.6 1821.0 L1570.4 1823.9 L1571.2 1821.2 L1572.0 1822.1 L1572.8 1822.4 L1573.6 1822.9 L1574.4 1823.3 L1575.2 1821.3 L1576.0 1821.8 L1576.8 1821.6 L1577.6 1821.3 L1578.3 1822.6 L1579.1 1823.8 L1579.9 1824.9 L1580.7 1823.9 L1581.5 1824.5 L1582.3 1825.8 L1583.1 1827.0 L1583.8 1823.5 L1584.6 1824.2 L1585.4 1825.2 L1586.2 1821.8 L1587.0 1824.8 L1587.8 1824.0 L1588.6 1823.0 L1589.4 1823.4 L1590.2 1825.1 L1591.0 1827.9 L1591.8 1824.4 L1592.6 1824.5 L1593.4 1821.5 L1594.2 1820.8 L1594.9 1819.7 L1595.7 1821.3 L1596.5 1820.1 L1597.3 1820.7 L1598.1 1820.1 L1598.9 1818.2 L1599.7 1819.3 L1600.5 1819.7 L1601.3 1817.7 L1602.1 1819.0 L1602.9 1820.2 L1603.7 1820.4 L1604.5 1818.0 L1605.3 1816.8 L1606.0 1819.2 L1606.8 1815.9 L1607.6 1816.7 L1608.4 1817.9 L1609.2 1821.6 L1610.0 1822.8 L1610.8 1821.3 L1611.6 1822.4 L1612.4 1821.1 L1613.2 1821.2 L1613.9 1820.0 L1614.7 1821.0 L1615.5 1822.3 L1616.3 1822.6 L1617.1 1820.3 L1617.9 1821.0 L1618.7 1823.8 L1619.5 1823.4 L1620.2 1821.4 L1621.0 1822.7 L1621.8 1824.5 L1622.6 1825.3 L1623.4 1824.6 L1624.2 1820.0 L1625.0 1824.4 L1625.8 1824.4 L1626.5 1824.0 L1627.3 1824.1 L1628.1 1825.7 L1628.9 1826.0 L1629.7 1825.8 L1630.5 1824.3 L1631.3 1826.2 L1632.2 1825.4 L1633.0 1822.7 L1633.8 1821.5 L1634.6 1823.4 L1635.4 1822.8 L1636.3 1822.5 L1637.1 1823.9 L1637.9 1822.3 L1638.7 1820.2 L1639.5 1819.1 L1640.4 1817.7 L1641.2 1818.9 L1642.0 1819.4 L1642.8 1820.0 L1643.6 1817.0 L1644.5 1817.7 L1645.3 1817.3 L1646.1 1815.3 L1646.9 1817.6 L1647.7 1818.5 L1648.5 1818.8 L1649.3 1818.1 L1650.1 1821.4 L1650.9 1820.1 L1651.8 1821.6 L1652.6 1820.7 L1653.4 1820.5 L1654.2 1821.4 L1655.0 1821.3 L1655.8 1823.8 L1656.6 1825.5 L1657.4 1824.8 L1658.2 1827.2 L1659.0 1827.2 L1659.8 1826.8 L1660.6 1826.0 L1661.4 1827.2 L1662.2 1827.2 L1663.0 1827.6 L1663.8 1826.1 L1664.6 1827.5 L1665.3 1825.8 L1666.1 1828.7 L1666.9 1828.9 L1667.7 1826.9 L1668.5 1825.8 L1669.3 1828.2 L1670.1 1828.4 L1670.9 1827.9 L1671.7 1827.2 L1672.5 1826.6 L1673.3 1826.6 L1674.1 1824.7 L1674.9 1826.9 L1675.7 1827.8 L1676.5 1824.3 L1677.3 1823.8 L1678.1 1824.4 L1678.9 1822.7 L1679.7 1821.9 L1680.4 1820.5 L1681.2 1820.2 L1682.0 1823.3 L1682.8 1822.2 L1683.6 1820.4 L1684.4 1821.2 L1685.2 1819.6 L1686.0 1819.9 L1686.8 1820.1 L1687.6 1820.3 L1688.4 1817.4 L1689.2 1818.5 L1690.0 1818.5 L1690.8 1817.0 L1691.5 1818.7 L1692.3 1817.7 L1693.1 1818.7 L1693.9 1819.4 L1694.7 1819.2 L1695.5 1819.6 L1696.3 1817.4 L1697.0 1818.1 L1697.8 1816.4 L1698.6 1816.3 L1699.4 1814.9 L1700.2 1816.5 L1701.0 1815.8 L1701.8 1817.4 L1702.6 1818.9 L1703.4 1819.0 L1704.2 1820.1 L1705.0 1816.9 L1705.8 1816.4 L1706.6 1818.8 L1707.4 1815.8 L1708.2 1817.1 L1709.0 1815.3 L1709.8 1815.8 L1710.7 1817.3 L1711.5 1820.0 L1712.3 1819.9 L1713.1 1820.1 L1713.9 1817.8 L1714.7 1818.6 L1715.5 1820.1 L1716.3 1817.7 L1717.1 1819.8 L1717.9 1819.2 L1718.7 1817.9 L1719.5 1818.7 L1720.3 1819.0 L1721.0 1819.3 L1721.8 1822.9 L1722.5 1826.7 L1723.3 1829.1 L1724.0 1827.3 L1724.8 1829.3 L1725.6 1827.5 L1726.5 1825.1 L1727.3 1826.8 L1728.1 1829.6 L1728.9 1828.2 L1729.7 1830.2 L1730.5 1828.3 L1731.4 1828.3 L1732.2 1829.3 L1733.0 1828.1 L1733.8 1831.4 L1734.6 1829.6 L1735.4 1833.2 L1736.3 1831.7 L1737.1 1829.3 L1737.9 1829.1 L1738.7 1827.1 L1739.5 1826.1 L1740.3 1829.5 L1741.1 1828.2 L1741.8 1829.1 L1742.6 1833.4 L1743.4 1831.0 L1744.2 1830.3 L1745.0 1829.0 L1745.8 1827.4 L1746.7 1828.0 L1747.5 1827.0 L1748.4 1825.9 L1749.2 1826.1 L1750.1 1826.7 L1750.9 1826.0 L1751.8 1824.3 L1752.6 1825.3 L1753.4 1824.6 L1754.2 1824.0 L1755.0 1821.5 L1755.8 1822.1 L1756.6 1823.6 L1757.3 1821.6 L1758.1 1822.6 L1758.9 1821.1 L1759.7 1823.8 L1760.5 1820.7 L1761.3 1820.7 L1762.1 1822.8 L1762.9 1820.3 L1763.7 1821.1 L1764.6 1822.4 L1765.4 1823.5 L1766.2 1823.8 L1767.0 1826.2 L1767.8 1825.3 L1768.7 1828.8 L1769.5 1829.3 L1770.3 1828.1 L1771.1 1827.0 L1771.9 1826.5 L1772.7 1827.5 L1773.6 1827.2 L1774.4 1827.0 L1775.2 1829.0 L1776.0 1829.9 L1776.8 1829.3 L1777.6 1836.1 L1778.4 1831.5 L1779.2 1830.7 L1780.0 1830.7 L1780.8 1830.7 L1781.7 1829.7 L1782.5 1832.0 L1783.3 1831.6 L1784.1 1834.9 L1784.9 1830.1 L1785.7 1832.1 L1786.5 1831.6 L1787.3 1832.8 L1788.1 1833.4 L1788.9 1832.3 L1789.7 1831.9 L1790.5 1832.5 L1791.3 1830.8 L1792.2 1828.3 L1793.0 1828.4 L1793.8 1829.3 L1794.6 1830.6 L1795.4 1829.8 L1796.2 1828.8 L1797.0 1830.1 L1797.8 1829.0 L1798.6 1830.8 L1799.4 1826.3 L1800.2 1825.9 L1801.0 1825.1 L1801.8 1823.6 L1802.6 1821.5 L1803.4 1822.5 L1804.2 1823.1 L1805.0 1821.9 L1805.8 1819.3 L1806.6 1819.0 L1807.4 1818.7 L1808.2 1818.7 L1808.9 1818.1 L1809.7 1819.2 L1810.5 1819.3 L1811.3 1819.6 L1812.0 1816.5 L1812.8 1816.0 L1813.6 1816.2 L1814.4 1816.2 L1815.1 1816.6 L1815.9 1818.3 L1816.7 1817.7 L1817.5 1819.2 L1818.3 1820.9 L1819.1 1820.9 L1819.8 1822.4 L1820.6 1820.8 L1821.4 1819.6 L1822.2 1820.5 L1823.0 1823.3 L1823.8 1820.9 L1824.7 1822.4 L1825.5 1825.0 L1826.3 1825.8 L1827.2 1825.2 L1828.0 1824.4 L1828.8 1824.9 L1829.7 1822.7 L1830.5 1825.3 L1831.3 1823.0 L1832.2 1824.7 L1833.0 1824.0 L1833.8 1823.8 L1834.7 1826.9 L1835.5 1827.4 L1836.4 1825.9 L1837.2 1826.7 L1838.1 1829.0 L1838.9 1827.0 L1839.7 1822.8 L1840.5 1829.0 L1841.2 1827.7 L1842.0 1826.7 L1842.8 1828.2 L1843.6 1827.8 L1844.4 1825.0 L1845.2 1826.8 L1846.0 1828.0 L1846.8 1826.1 L1847.5 1828.6 L1848.3 1826.8 L1849.1 1826.5 L1849.9 1824.5 L1850.7 1826.5 L1851.5 1826.8 L1852.4 1826.5 L1853.2 1827.3 L1854.0 1828.4 L1854.9 1829.3 L1855.7 1827.5 L1856.5 1826.5 L1857.4 1826.7 L1858.2 1829.6 L1859.0 1830.0 L1859.9 1829.8 L1860.7 1831.6 L1861.5 1829.6 L1862.3 1829.2 L1863.0 1828.3 L1863.8 1827.2 L1864.6 1827.3 L1865.4 1825.6 L1866.1 1827.6 L1866.9 1826.6 L1867.7 1826.8 L1868.5 1827.5 L1869.2 1826.5 L1870.0 1830.6 L1870.8 1826.5 L1871.6 1828.9 L1872.5 1826.0 L1873.3 1827.3 L1874.1 1831.0 L1875.0 1826.3 L1875.8 1828.1 L1876.6 1829.6 L1877.5 1831.1 L1878.3 1829.6 L1879.1 1829.9 L1880.0 1831.1 L1880.8 1829.0 L1881.6 1827.4 L1882.4 1827.6 L1883.1 1826.9 L1883.9 1827.3 L1884.7 1830.8 L1885.5 1832.7 L1886.2 1830.7 L1887.0 1833.6 L1887.8 1833.2 L1888.6 1831.4 L1889.3 1832.2 L1890.1 1829.6 L1890.9 1830.3 L1891.7 1827.3 L1892.6 1828.9 L1893.4 1833.2 L1894.3 1833.3 L1895.1 1833.8 L1896.0 1834.6 L1896.8 1832.9 L1897.7 1834.8 L1898.5 1834.1 L1899.3 1835.0 L1900.1 1834.0 L1900.9 1835.7 L1901.7 1836.0 L1902.4 1835.1 L1903.2 1836.0 L1904.0 1836.5 L1904.8 1835.0 L1905.6 1836.0 L1906.4 1834.9 L1907.2 1834.9 L1908.0 1837.1 L1908.8 1835.0 L1909.6 1835.2 L1910.3 1834.7 L1911.1 1837.3 L1911.9 1835.0 L1912.7 1837.6 L1913.5 1835.3 L1914.3 1836.5 L1915.2 1836.3 L1916.0 1835.0 L1916.9 1832.5 L1917.8 1832.1 L1918.6 1831.6 L1919.4 1832.0 L1920.2 1830.9 L1921.0 1833.9 L1921.8 1834.6 L1922.6 1832.7 L1923.4 1832.5 L1924.2 1835.0 L1925.0 1831.7 L1925.8 1832.7 L1926.6 1833.7 L1927.4 1831.5 L1928.2 1829.9 L1929.1 1830.8 L1929.9 1829.8 L1930.7 1830.8 L1931.5 1829.2 L1932.3 1831.6 L1933.1 1830.6 L1933.9 1831.6 L1934.7 1831.8 L1935.5 1833.6 L1936.3 1829.1 L1937.1 1828.7 L1937.9 1829.4 L1938.7 1830.3 L1939.5 1830.8 L1940.4 1829.7 L1941.2 1829.3 L1942.0 1832.6 L1942.9 1830.2 L1943.7 1834.8 L1944.5 1833.5 L1945.3 1834.3 L1946.1 1833.4 L1946.9 1837.0 L1947.7 1834.2 L1948.5 1834.1 L1949.3 1832.1 L1950.1 1834.5 L1950.9 1833.3 L1951.7 1833.0 L1952.5 1834.7 L1953.3 1835.4 L1954.1 1835.0 L1954.9 1836.4 L1955.7 1835.0 L1956.5 1833.6 L1957.3 1834.5 L1958.1 1834.8 L1958.9 1833.1 L1959.7 1834.2 L1960.5 1832.1 L1961.3 1834.8 L1962.1 1834.8 L1962.8 1834.4 L1963.6 1834.4 L1964.3 1833.4 L1965.1 1834.1 L1965.9 1832.1 L1966.6 1832.9 L1967.4 1832.1 L1968.1 1831.9 L1968.9 1831.6 L1969.7 1832.8 L1970.5 1831.5 L1971.3 1836.5 L1972.1 1831.7 L1972.9 1831.6 L1973.7 1831.3 L1974.6 1833.1 L1975.4 1832.4 L1976.2 1834.3 L1977.0 1832.3 L1977.8 1835.1 L1978.6 1835.0 L1979.4 1833.0 L1980.2 1833.7 L1981.0 1833.2 L1981.8 1831.9 L1982.6 1830.6 L1983.4 1830.1 L1984.2 1832.4 L1985.0 1831.9 L1985.8 1828.5 L1986.7 1829.5 L1987.5 1828.4 L1988.3 1828.6 L1989.1 1831.2 L1989.9 1833.7 L1990.7 1833.2 L1991.5 1831.6 L1992.3 1832.8 L1993.1 1834.2 L1993.8 1834.1 L1994.6 1832.0 L1995.4 1831.7 L1996.2 1832.1 L1996.9 1833.9 L1997.7 1834.0 L1998.5 1833.0 L1999.3 1832.8 L2000.0 1832.2 L2000.8 1832.1 L2001.6 1832.8 L2002.4 1833.6 L2003.3 1831.6 L2004.1 1833.0 L2004.9 1832.6 L2005.8 1836.5 L2006.6 1836.6 L2007.4 1837.5 L2008.3 1835.7 L2009.1 1836.3 L2009.9 1835.8 L2010.8 1836.5 L2011.6 1837.3 L2012.4 1838.9 L2013.2 1838.4 L2013.9 1838.5 L2014.7 1842.4 L2015.5 1838.0 L2016.3 1836.3 L2017.0 1837.0 L2017.8 1837.4 L2018.6 1833.7 L2019.4 1833.4 L2020.1 1834.0 L2020.9 1831.5 L2021.7 1833.3 L2022.5 1833.2 L2023.3 1831.2 L2024.1 1833.9 L2024.8 1835.1 L2025.6 1834.2 L2026.4 1835.9 L2027.2 1836.9 L2028.0 1836.3 L2028.8 1839.0 L2029.6 1838.2 L2030.4 1837.9 L2031.2 1842.0 L2031.9 1840.2 L2032.7 1839.1 L2033.5 1840.0 L2034.3 1837.8 L2035.1 1837.0 L2035.9 1834.4 L2036.7 1835.5 L2037.5 1836.7 L2038.3 1836.0 L2039.1 1838.2 L2039.9 1836.3 L2040.8 1838.1 L2041.6 1836.6 L2042.4 1839.8 L2043.2 1840.7 L2044.0 1840.1 L2044.8 1840.7 L2045.6 1840.4 L2046.4 1841.4 L2047.2 1840.9 L2048.0 1839.2 L2048.8 1844.5 L2049.5 1838.2 L2050.3 1836.2 L2051.1 1836.9 L2051.9 1838.0 L2052.7 1839.3 L2053.5 1836.5 L2054.3 1836.2 L2055.0 1837.0 L2055.8 1837.3 L2056.6 1836.1 L2057.4 1833.9 L2058.2 1836.6 L2059.0 1835.9 L2059.8 1835.4 L2060.6 1835.8 L2061.5 1835.6 L2062.3 1835.6 L2063.1 1834.9 L2063.9 1835.1 L2064.7 1835.0 L2065.5 1831.3 L2066.3 1835.6 L2067.2 1833.7 L2068.0 1830.4 L2068.8 1834.8 L2069.6 1835.4 L2070.4 1834.6 L2071.2 1832.6 L2072.1 1830.1 L2072.9 1831.2 L2073.7 1832.1 L2074.5 1832.8 L2075.3 1831.9 L2076.1 1830.9 L2076.9 1831.3 L2077.7 1830.1 L2078.5 1831.9 L2079.3 1832.0 L2080.1 1830.7 L2080.9 1831.2 L2081.7 1829.3 L2082.4 1831.7 L2083.2 1835.4 L2084.0 1835.1 L2084.8 1832.8 L2085.6 1833.9 L2086.4 1834.9 L2087.2 1834.5 L2088.0 1834.7 L2088.8 1833.8 L2089.6 1833.3 L2090.4 1831.0 L2091.2 1830.2 L2092.0 1830.3 L2092.8 1833.4 L2093.6 1831.8 L2094.4 1835.3 L2095.2 1834.1 L2096.0 1836.7 L2096.8 1836.0 L2097.5 1837.2 L2098.3 1838.0 L2099.1 1837.3 L2099.9 1838.3 L2100.7 1836.2 L2101.5 1839.0 L2102.3 1838.9 L2103.1 1836.6 L2103.9 1837.3 L2104.7 1837.3 L2105.5 1835.6 L2106.3 1837.2 L2107.1 1837.8 L2107.9 1836.7 L2108.7 1839.1 L2109.5 1836.5 L2110.3 1835.3 L2111.2 1834.1 L2112.0 1836.8 L2112.8 1838.2 L2113.6 1838.6 L2114.4 1836.8 L2115.2 1836.4 L2116.0 1837.4 L2116.8 1836.2 L2117.6 1836.0 L2118.4 1834.0 L2119.2 1835.6 L2120.0 1837.3 L2120.8 1835.4 L2121.7 1836.7 L2122.5 1838.4 L2123.3 1836.4 L2124.1 1834.1 L2124.9 1835.1 L2125.7 1833.7 L2126.5 1835.0 L2127.3 1834.1 L2128.1 1833.3 L2128.9 1834.0 L2129.7 1834.7 L2130.5 1836.2 L2131.3 1835.9 L2132.1 1835.6 L2132.9 1836.0 L2133.7 1835.5 L2134.5 1837.4 L2135.2 1841.1 L2136.0 1836.8 L2136.8 1837.8 L2137.6 1837.1 L2138.4 1835.4 L2139.2 1836.0 L2140.0 1836.3 L2140.8 1834.3 L2141.6 1835.9 L2142.4 1836.6 L2143.2 1836.3 L2144.0 1836.5 L2144.8 1836.4 L2145.6 1836.7 L2146.3 1838.8 L2147.1 1838.8 L2147.9 1836.7 L2148.7 1837.5 L2149.5 1837.5 L2150.3 1836.9 L2151.1 1835.3 L2151.8 1834.2 L2152.6 1834.4 L2153.4 1838.0 L2154.2 1837.9 L2155.0 1838.3 L2155.8 1837.2 L2156.6 1838.0 L2157.4 1839.4 L2158.2 1839.3 L2158.9 1838.0 L2159.7 1838.2 L2160.5 1838.7 L2161.3 1838.3 L2162.1 1837.0 L2162.9 1839.1 L2163.7 1839.6 L2164.5 1832.7 L2165.3 1838.6 L2166.1 1836.2 L2166.8 1836.2 L2167.6 1838.2 L2168.4 1838.2 L2169.2 1835.8 L2170.0 1837.3 L2170.8 1831.7 L2171.6 1835.5 L2172.4 1839.2 L2173.2 1836.3 L2174.0 1835.5 L2174.8 1837.4 L2175.6 1838.1 L2176.4 1836.9 L2177.2 1835.7 L2178.0 1834.9 L2178.8 1834.4 L2179.6 1833.3 L2180.4 1832.9 L2181.2 1835.7 L2182.0 1835.0 L2182.8 1834.8 L2183.6 1835.6 L2184.4 1837.0 L2185.2 1835.8 L2186.0 1837.8 L2186.9 1839.0 L2187.7 1839.2 L2188.5 1838.7 L2189.4 1836.7 L2190.2 1837.0 L2191.0 1839.0 L2191.9 1838.6 L2192.7 1838.3 L2193.5 1838.4 L2194.3 1840.8 L2195.1 1836.5 L2195.9 1836.4 L2196.7 1835.8 L2197.5 1836.3 L2198.3 1835.6 L2199.1 1835.9 L2199.9 1839.5 L2200.6 1838.7 L2201.4 1836.6 L2202.2 1837.5 L2203.0 1835.4 L2203.8 1835.5 L2204.6 1836.7 L2205.4 1836.0 L2206.2 1834.3 L2207.0 1835.2 L2207.8 1836.6 L2208.6 1836.2 L2209.4 1835.9 L2210.2 1838.4 L2211.0 1837.7 L2211.7 1839.3 L2212.5 1836.2 L2213.3 1833.3 L2214.1 1838.1 L2214.9 1840.6 L2215.7 1839.1 L2216.5 1839.8 L2217.2 1839.9 L2218.0 1840.7 L2218.8 1839.1 L2219.6 1840.0 L2220.4 1838.3" fill="none" stroke="#717171" stroke-width="4.2" stroke-linejoin="round" stroke-linecap="round"/>
<path d="M199.1 1267.2 L199.9 1266.3 L200.8 1263.4 L201.7 1259.8 L202.5 1260.6 L203.3 1261.7 L204.1 1264.4 L204.9 1267.2 L205.8 1268.2 L206.6 1267.4 L207.4 1269.7 L208.2 1268.5 L209.1 1266.5 L209.9 1266.8 L210.7 1263.9 L211.5 1265.0 L212.4 1261.4 L213.2 1263.9 L214.0 1261.6 L214.9 1260.7 L215.7 1259.5 L216.6 1256.0 L217.4 1255.6 L218.2 1254.2 L219.0 1254.2 L219.9 1253.5 L220.7 1252.7 L221.5 1252.3 L222.3 1253.9 L223.2 1255.8 L224.0 1258.3 L224.9 1256.4 L225.7 1258.5 L226.6 1261.8 L227.4 1262.3 L228.2 1258.7 L229.0 1255.1 L229.9 1251.5 L230.7 1247.9 L231.5 1244.3 L232.3 1240.7 L233.1 1241.2 L234.0 1245.6 L234.8 1244.8 L235.6 1246.8 L236.5 1252.2 L237.3 1254.0 L238.1 1255.3 L239.0 1254.7 L239.8 1253.8 L240.7 1255.3 L241.5 1256.4 L242.3 1255.9 L243.2 1253.2 L244.0 1254.6 L244.8 1254.2 L245.7 1249.8 L246.5 1249.0 L247.3 1245.7 L248.2 1242.3 L249.0 1239.0 L249.8 1235.7 L250.6 1236.4 L251.4 1236.6 L252.3 1239.0 L253.1 1240.7 L253.9 1233.6 L254.8 1226.6 L255.6 1219.5 L256.4 1212.4 L257.2 1191.7 L258.0 1170.9 L258.9 1150.2 L259.7 1129.4 L260.5 1104.5 L261.4 1079.6 L262.2 1054.7 L263.0 1029.8 L263.8 1018.7 L264.7 1007.7 L265.5 996.6 L266.3 1007.7 L267.2 1018.7 L268.0 1029.8 L268.8 1063.0 L269.7 1096.2 L270.5 1129.4 L271.3 1157.1 L272.2 1184.7 L273.0 1212.4 L273.8 1221.6 L274.6 1230.7 L275.5 1239.8 L276.3 1249.0 L277.1 1247.3 L278.0 1249.6 L278.8 1247.5 L279.6 1246.4 L280.5 1246.8 L281.3 1247.2 L282.2 1248.8 L283.0 1247.3 L283.8 1250.9 L284.6 1251.1 L285.5 1250.7 L286.3 1251.6 L287.1 1248.9 L288.0 1249.9 L288.8 1249.0 L289.6 1250.6 L290.4 1249.0 L291.3 1249.8 L292.1 1249.5 L292.9 1249.8 L293.8 1250.3 L294.6 1248.7 L295.4 1245.3 L296.2 1247.0 L297.1 1249.5 L297.9 1249.0 L298.7 1247.2 L299.6 1249.3 L300.4 1246.3 L301.2 1246.2 L302.0 1246.5 L302.9 1241.9 L303.7 1242.5 L304.5 1243.5 L305.4 1244.4 L306.2 1244.0 L307.0 1248.8 L307.9 1246.2 L308.7 1244.7 L309.5 1242.8 L310.4 1243.9 L311.2 1245.6 L312.0 1241.2 L312.9 1236.8 L313.7 1232.4 L314.5 1233.4 L315.3 1236.1 L316.2 1239.7 L317.0 1242.5 L317.8 1242.3 L318.6 1243.1 L319.5 1241.5 L320.3 1243.3 L321.1 1243.7 L322.0 1244.3 L322.8 1245.6 L323.6 1246.1 L324.5 1245.3 L325.3 1246.7 L326.1 1246.5 L326.9 1243.8 L327.8 1248.2 L328.6 1249.0 L329.4 1249.4 L330.3 1244.3 L331.1 1241.4 L331.9 1237.7 L332.7 1238.1 L333.6 1234.5 L334.4 1234.0 L335.2 1236.6 L336.1 1240.6 L336.9 1243.9 L337.8 1245.6 L338.6 1248.2 L339.4 1246.0 L340.2 1246.6 L341.1 1247.8 L341.9 1245.2 L342.7 1244.0 L343.5 1246.8 L344.4 1248.1 L345.2 1250.4 L346.0 1251.2 L346.9 1250.0 L347.7 1252.3 L348.5 1250.7 L349.4 1251.3 L350.2 1252.4 L351.0 1250.4 L351.9 1250.7 L352.7 1252.8 L353.5 1252.7 L354.3 1254.0 L355.2 1253.5 L356.0 1252.3 L356.8 1251.4 L357.7 1251.7 L358.5 1249.2 L359.3 1249.4 L360.1 1245.2 L361.0 1245.8 L361.8 1244.9 L362.6 1242.0 L363.5 1241.1 L364.3 1242.3 L365.1 1240.9 L366.0 1244.2 L366.8 1244.9 L367.6 1242.4 L368.5 1247.9 L369.3 1247.1 L370.2 1248.8 L371.0 1249.0 L371.8 1248.4 L372.7 1248.7 L373.5 1250.5 L374.3 1249.2 L375.1 1248.2 L376.0 1248.6 L376.8 1246.8 L377.6 1244.8 L378.5 1245.9 L379.3 1247.3 L380.1 1243.7 L380.9 1246.1 L381.8 1245.5 L382.6 1245.4 L383.4 1243.4 L384.2 1242.2 L385.1 1239.5 L385.9 1239.0 L386.7 1238.9 L387.6 1236.2 L388.4 1242.1 L389.2 1241.7 L390.1 1242.1 L390.9 1242.2 L391.8 1243.6 L392.6 1244.0 L393.4 1244.9 L394.2 1245.6 L395.1 1245.5 L395.9 1246.7 L396.7 1244.4 L397.6 1249.9 L398.4 1249.6 L399.2 1250.6 L400.0 1252.4 L400.9 1249.1 L401.7 1248.9 L402.5 1246.2 L403.4 1243.5 L404.2 1244.2 L405.0 1245.2 L405.9 1244.0 L406.7 1242.3 L407.5 1242.4 L408.4 1242.4 L409.2 1240.7 L410.0 1243.9 L410.8 1243.5 L411.7 1242.8 L412.5 1244.0 L413.3 1243.8 L414.2 1242.6 L415.0 1241.8 L415.8 1240.5 L416.7 1242.5 L417.5 1242.6 L418.3 1242.7 L419.2 1242.5 L420.0 1242.3 L420.8 1236.3 L421.6 1230.3 L422.5 1224.4 L423.3 1218.4 L424.1 1212.4 L424.9 1207.3 L425.6 1202.2 L426.4 1197.1 L427.1 1191.9 L427.9 1186.8 L428.6 1181.7 L429.4 1187.8 L430.1 1194.0 L430.9 1200.1 L431.6 1206.3 L432.4 1212.4 L433.2 1217.7 L434.1 1223.0 L434.9 1228.4 L435.8 1233.7 L436.6 1239.0 L437.4 1235.3 L438.2 1231.7 L439.1 1228.0 L439.9 1224.4 L440.7 1220.7 L441.5 1226.5 L442.4 1232.3 L443.2 1238.2 L444.0 1244.0 L444.8 1242.8 L445.7 1243.5 L446.5 1242.5 L447.4 1243.5 L448.2 1240.3 L449.0 1237.2 L449.9 1236.9 L450.7 1234.0 L451.5 1235.1 L452.3 1235.0 L453.1 1238.5 L454.0 1237.3 L454.8 1239.7 L455.6 1239.0 L456.4 1240.1 L457.3 1239.4 L458.1 1240.8 L459.0 1245.7 L459.8 1242.3 L460.6 1242.1 L461.5 1245.6 L462.3 1245.6 L463.1 1248.9 L464.0 1250.1 L464.8 1249.7 L465.6 1252.2 L466.5 1255.0 L467.3 1252.1 L468.1 1254.6 L469.0 1257.8 L469.8 1257.3 L470.6 1252.7 L471.5 1251.1 L472.3 1251.0 L473.1 1247.6 L473.9 1245.4 L474.8 1244.5 L475.6 1242.3 L476.4 1243.3 L477.2 1242.6 L478.1 1243.3 L478.9 1241.6 L479.7 1242.0 L480.6 1241.9 L481.4 1248.3 L482.2 1245.6 L483.0 1242.3 L483.7 1244.5 L484.5 1244.5 L485.2 1245.5 L486.0 1243.8 L486.7 1244.8 L487.5 1247.9 L488.3 1247.2 L489.0 1249.0 L489.8 1252.0 L490.5 1251.2 L491.3 1254.1 L492.0 1254.6 L492.8 1253.9 L493.6 1255.6 L494.3 1251.9 L495.1 1251.3 L495.8 1246.8 L496.6 1243.4 L497.4 1243.8 L498.1 1241.1 L498.9 1239.3 L499.6 1237.7 L500.4 1234.5 L501.1 1231.9 L501.9 1229.1 L502.6 1229.8 L503.4 1233.7 L504.1 1237.6 L504.9 1241.6 L505.6 1245.5 L506.4 1249.4 L507.2 1249.6 L507.9 1254.0 L508.7 1255.0 L509.4 1254.5 L510.2 1255.2 L510.9 1257.3 L511.7 1255.4 L512.5 1257.7 L513.2 1257.3 L514.0 1256.7 L514.7 1254.6 L515.5 1254.7 L516.2 1255.4 L517.0 1252.6 L517.7 1250.3 L518.5 1250.0 L519.2 1251.2 L520.0 1249.4 L520.7 1247.9 L521.5 1246.3 L522.2 1245.5 L523.0 1244.8 L523.7 1240.5 L524.5 1240.3 L525.3 1243.4 L526.0 1245.4 L526.8 1247.0 L527.5 1245.2 L528.3 1252.0 L529.0 1254.2 L529.8 1258.4 L530.5 1255.1 L531.3 1251.9 L532.0 1248.6 L532.8 1245.3 L533.5 1242.1 L534.3 1238.8 L535.1 1241.3 L535.8 1239.1 L536.6 1236.0 L537.3 1235.0 L538.1 1235.8 L538.9 1234.4 L539.6 1234.9 L540.4 1234.1 L541.1 1232.9 L541.9 1234.2 L542.6 1233.9 L543.4 1235.7 L544.1 1234.3 L544.9 1238.5 L545.6 1242.6 L546.4 1246.8 L547.1 1250.9 L548.0 1251.6 L548.8 1251.7 L549.6 1254.5 L550.5 1253.4 L551.4 1254.6 L552.2 1252.1 L553.0 1253.0 L553.9 1253.9 L554.7 1256.4 L555.4 1256.8 L556.2 1256.8 L556.9 1259.1 L557.7 1259.1 L558.5 1260.7 L559.2 1262.7 L560.0 1263.6 L560.7 1261.9 L561.5 1264.5 L562.2 1264.1 L563.0 1263.9 L563.8 1265.4 L564.5 1265.2 L565.2 1267.0 L566.0 1266.6 L566.8 1264.7 L567.5 1267.5 L568.2 1263.4 L569.0 1263.8 L569.8 1260.8 L570.5 1260.0 L571.3 1259.5 L572.0 1259.5 L572.8 1257.4 L573.6 1257.4 L574.3 1254.5 L575.1 1253.9 L576.0 1252.2 L576.8 1252.8 L577.6 1249.9 L578.5 1250.0 L579.4 1253.1 L580.2 1253.9 L581.0 1251.5 L581.9 1249.4 L582.6 1250.8 L583.4 1252.1 L584.1 1256.2 L584.9 1254.3 L585.6 1253.5 L586.4 1255.2 L587.1 1258.4 L587.9 1258.3 L588.6 1259.8 L589.4 1262.6 L590.2 1262.9 L590.9 1267.1 L591.7 1266.0 L592.5 1268.8 L593.3 1262.9 L594.2 1267.7 L595.0 1266.8 L595.8 1265.6 L596.6 1267.8 L597.4 1263.5 L598.2 1266.8 L599.1 1268.7 L599.9 1266.0 L600.7 1266.0 L601.5 1269.4 L602.2 1268.1 L603.0 1267.6 L603.8 1269.4 L604.5 1269.4 L605.3 1269.2 L606.0 1267.3 L606.8 1266.0 L607.5 1266.8 L608.3 1265.2 L609.0 1264.6 L609.8 1262.7 L610.5 1262.0 L611.3 1263.0 L612.0 1262.2 L612.8 1258.4 L613.5 1258.9 L614.3 1258.0 L615.0 1256.9 L615.8 1252.4 L616.6 1253.7 L617.3 1255.3 L618.1 1255.3 L618.8 1258.7 L619.6 1256.9 L620.4 1259.9 L621.1 1265.7 L621.9 1264.5 L622.6 1269.2 L623.4 1270.5 L624.1 1272.0 L624.9 1269.1 L625.6 1270.5 L626.4 1272.3 L627.1 1273.5 L627.9 1273.6 L628.6 1274.6 L629.4 1276.5 L630.2 1275.9 L631.0 1278.1 L631.9 1276.2 L632.7 1277.4 L633.5 1277.5 L634.3 1275.3 L635.1 1275.7 L635.9 1274.7 L636.8 1273.5 L637.6 1272.9 L638.4 1275.0 L639.2 1275.8 L639.9 1278.9 L640.7 1278.5 L641.5 1279.6 L642.2 1279.1 L643.0 1282.0 L643.7 1281.0 L644.5 1281.1 L645.2 1281.8 L646.0 1280.8 L646.8 1278.1 L647.5 1278.1 L648.2 1278.1 L649.0 1277.3 L649.8 1277.5 L650.5 1273.5 L651.3 1274.0 L652.1 1274.7 L652.9 1274.6 L653.8 1273.4 L654.6 1273.4 L655.4 1273.2 L656.2 1273.7 L657.0 1273.7 L657.8 1273.6 L658.7 1273.0 L659.5 1273.1 L660.3 1272.2 L661.1 1270.5 L661.9 1268.0 L662.6 1267.3 L663.4 1268.2 L664.1 1268.6 L664.9 1265.9 L665.6 1267.7 L666.4 1267.7 L667.1 1267.5 L667.9 1266.7 L668.6 1269.0 L669.4 1269.0 L670.1 1272.9 L670.9 1273.8 L671.7 1274.4 L672.4 1275.8 L673.2 1280.2 L673.9 1279.7 L674.7 1279.6 L675.5 1281.6 L676.2 1281.7 L677.0 1281.9 L677.7 1280.1 L678.5 1281.1 L679.2 1285.0 L680.0 1280.9 L680.7 1281.1 L681.5 1280.7 L682.2 1280.6 L683.0 1279.9 L683.7 1279.2 L684.5 1276.7 L685.2 1274.6 L686.0 1275.6 L686.7 1275.8 L687.5 1275.8 L688.2 1280.2 L689.0 1282.4 L689.8 1285.3 L690.5 1284.7 L691.3 1287.1 L692.0 1288.3 L692.8 1287.0 L693.5 1283.2 L694.3 1283.0 L695.0 1278.8 L695.8 1282.6 L696.5 1281.3 L697.3 1283.3 L698.0 1286.0 L698.8 1284.1 L699.5 1285.7 L700.3 1288.1 L701.0 1288.2 L701.8 1290.1 L702.5 1290.1 L703.3 1287.5 L704.0 1288.2 L704.8 1288.3 L705.5 1285.6 L706.3 1285.6 L707.1 1285.0 L708.0 1284.0 L708.8 1282.8 L709.6 1283.8 L710.4 1283.2 L711.3 1282.6 L712.1 1283.6 L712.9 1285.5 L713.7 1282.8 L714.6 1285.8 L715.4 1285.6 L716.1 1285.1 L716.9 1286.9 L717.6 1284.3 L718.4 1285.9 L719.1 1283.8 L719.9 1284.9 L720.6 1282.7 L721.4 1282.6 L722.2 1287.4 L722.9 1287.9 L723.7 1289.1 L724.4 1291.5 L725.2 1293.1 L726.0 1293.4 L726.7 1290.5 L727.5 1287.4 L728.2 1286.9 L729.0 1282.7 L729.7 1281.5 L730.5 1278.1 L731.2 1273.7 L732.0 1276.7 L732.8 1268.1 L733.5 1265.7 L734.2 1265.7 L735.0 1264.3 L735.8 1263.2 L736.5 1260.0 L737.2 1260.5 L738.0 1259.4 L738.8 1256.7 L739.5 1256.9 L740.3 1257.2 L741.0 1259.0 L741.8 1259.7 L742.5 1257.8 L743.3 1261.5 L744.1 1264.8 L744.8 1268.1 L745.6 1271.5 L746.3 1274.8 L747.1 1278.1 L747.9 1280.2 L748.8 1279.2 L749.6 1281.2 L750.4 1282.9 L751.3 1284.0 L752.1 1284.5 L752.9 1285.0 L753.8 1288.2 L754.6 1288.6 L755.4 1287.8 L756.1 1286.4 L756.9 1293.3 L757.6 1290.2 L758.4 1291.0 L759.2 1290.9 L759.9 1289.6 L760.7 1288.9 L761.4 1290.1 L762.2 1293.1 L763.0 1293.3 L763.7 1293.5 L764.5 1295.3 L765.2 1294.0 L766.0 1295.5 L766.7 1295.4 L767.5 1295.4 L768.2 1299.2 L769.0 1298.3 L769.9 1298.4 L770.7 1298.5 L771.6 1299.0 L772.4 1301.9 L773.3 1302.4 L774.1 1302.1 L775.0 1301.1 L775.8 1303.7 L776.6 1304.6 L777.5 1303.1 L778.3 1304.5 L779.2 1300.7 L780.0 1300.2 L780.8 1299.6 L781.6 1301.3 L782.4 1301.7 L783.1 1303.0 L783.9 1301.1 L784.7 1300.9 L785.5 1300.5 L786.3 1301.7 L787.1 1302.0 L787.9 1302.1 L788.7 1301.0 L789.5 1300.6 L790.2 1301.3 L791.0 1302.2 L791.8 1308.2 L792.6 1303.3 L793.4 1303.4 L794.2 1302.6 L794.9 1303.8 L795.7 1304.0 L796.5 1303.9 L797.3 1303.3 L798.0 1301.7 L798.8 1299.0 L799.6 1301.1 L800.4 1300.7 L801.1 1298.4 L801.9 1299.4 L802.7 1299.7 L803.5 1301.2 L804.4 1302.3 L805.2 1304.1 L806.0 1305.5 L806.9 1305.0 L807.7 1304.8 L808.5 1307.0 L809.3 1305.1 L810.1 1306.9 L810.9 1303.0 L811.6 1302.1 L812.4 1302.5 L813.2 1303.9 L814.0 1304.2 L814.8 1303.8 L815.6 1305.7 L816.4 1304.1 L817.1 1306.6 L817.9 1304.4 L818.7 1302.3 L819.5 1302.3 L820.3 1303.3 L821.1 1302.3 L821.9 1307.2 L822.6 1303.6 L823.4 1306.9 L824.2 1306.5 L825.0 1306.0 L825.7 1306.0 L826.5 1306.3 L827.3 1308.8 L828.1 1309.0 L828.8 1309.3 L829.6 1308.5 L830.4 1307.3 L831.2 1310.0 L832.0 1308.5 L832.8 1308.8 L833.6 1308.2 L834.4 1310.1 L835.2 1308.2 L836.0 1309.2 L836.8 1308.4 L837.6 1306.5 L838.3 1310.6 L839.1 1308.4 L839.9 1308.1 L840.7 1308.0 L841.5 1310.1 L842.3 1309.0 L843.1 1308.6 L843.9 1308.6 L844.7 1309.5 L845.5 1309.0 L846.3 1307.1 L847.1 1307.3 L847.8 1307.8 L848.6 1306.9 L849.4 1305.0 L850.2 1304.2 L851.0 1304.4 L851.8 1304.4 L852.5 1302.1 L853.3 1303.8 L854.1 1302.7 L854.9 1300.8 L855.7 1299.2 L856.4 1299.5 L857.2 1298.6 L858.0 1300.7 L858.8 1298.9 L859.6 1299.5 L860.4 1300.3 L861.2 1304.0 L862.0 1304.1 L862.8 1304.4 L863.6 1302.7 L864.4 1299.6 L865.2 1303.9 L865.9 1305.9 L866.7 1304.6 L867.5 1306.2 L868.3 1307.4 L869.1 1306.5 L869.9 1310.7 L870.7 1309.5 L871.5 1310.1 L872.3 1312.6 L873.1 1311.6 L873.9 1309.3 L874.6 1310.8 L875.4 1308.4 L876.1 1308.8 L876.9 1309.1 L877.7 1308.4 L878.4 1311.7 L879.2 1308.5 L879.9 1307.4 L880.7 1305.3 L881.5 1306.2 L882.3 1305.7 L883.1 1303.7 L883.9 1307.1 L884.7 1305.4 L885.5 1306.0 L886.3 1307.1 L887.1 1308.0 L887.9 1306.7 L888.6 1308.3 L889.4 1308.0 L890.2 1306.6 L891.0 1307.5 L891.8 1306.9 L892.6 1304.2 L893.4 1306.3 L894.2 1303.8 L895.0 1303.6 L895.8 1306.5 L896.6 1308.5 L897.5 1311.6 L898.3 1311.6 L899.1 1313.0 L899.9 1313.8 L900.6 1313.6 L901.4 1312.7 L902.2 1312.2 L903.0 1310.4 L903.8 1309.9 L904.5 1311.8 L905.3 1309.2 L906.1 1309.2 L906.9 1309.1 L907.7 1309.5 L908.5 1308.9 L909.2 1312.2 L910.0 1308.1 L910.8 1308.3 L911.6 1310.0 L912.4 1310.5 L913.1 1311.0 L913.9 1308.9 L914.7 1308.5 L915.5 1309.5 L916.2 1308.0 L917.0 1307.7 L917.8 1310.5 L918.6 1308.1 L919.3 1310.2 L920.1 1311.1 L920.9 1310.3 L921.7 1307.6 L922.6 1309.6 L923.4 1306.5 L924.2 1308.8 L925.1 1305.1 L925.9 1306.5 L926.7 1304.8 L927.5 1307.2 L928.3 1307.2 L929.1 1307.9 L929.9 1312.4 L930.7 1309.2 L931.5 1308.2 L932.3 1305.8 L933.1 1305.2 L933.9 1303.6 L934.7 1303.6 L935.5 1305.5 L936.4 1305.9 L937.2 1306.0 L938.0 1304.2 L938.8 1303.5 L939.6 1304.3 L940.4 1304.1 L941.2 1306.2 L942.0 1308.6 L942.8 1309.1 L943.6 1309.6 L944.4 1309.5 L945.2 1307.1 L946.0 1306.5 L946.8 1304.3 L947.6 1305.1 L948.4 1303.5 L949.2 1302.4 L950.0 1301.8 L950.9 1302.8 L951.7 1304.2 L952.5 1303.5 L953.3 1305.6 L954.1 1305.1 L954.9 1301.5 L955.7 1302.3 L956.6 1306.1 L957.4 1305.8 L958.2 1307.1 L959.1 1306.7 L959.9 1303.9 L960.7 1305.1 L961.6 1305.4 L962.4 1308.6 L963.2 1308.5 L964.1 1309.1 L964.9 1309.0 L965.7 1309.8 L966.5 1309.4 L967.4 1308.6 L968.2 1309.4 L969.0 1309.9 L969.8 1309.3 L970.6 1310.1 L971.4 1309.9 L972.3 1310.2 L973.1 1311.4 L973.9 1313.1 L974.7 1313.3 L975.5 1313.1 L976.3 1308.2 L977.2 1313.5 L978.0 1310.5 L978.8 1311.6 L979.6 1309.7 L980.4 1309.5 L981.1 1311.7 L981.9 1311.7 L982.7 1312.5 L983.5 1310.4 L984.3 1309.1 L985.0 1306.0 L985.8 1305.6 L986.6 1308.4 L987.4 1307.2 L988.2 1307.3 L989.0 1308.0 L989.7 1305.2 L990.5 1306.6 L991.3 1307.3 L992.1 1306.2 L992.9 1305.6 L993.7 1306.9 L994.4 1306.3 L995.2 1306.0 L996.0 1306.9 L996.8 1309.1 L997.6 1307.7 L998.4 1309.8 L999.2 1310.7 L1000.0 1309.7 L1000.8 1307.2 L1001.5 1310.3 L1002.3 1310.6 L1003.1 1309.8 L1003.9 1311.6 L1004.7 1310.6 L1005.5 1308.5 L1006.3 1310.3 L1007.0 1310.4 L1007.8 1310.3 L1008.6 1309.3 L1009.4 1307.6 L1010.2 1310.3 L1011.0 1307.8 L1011.8 1307.7 L1012.6 1307.1 L1013.4 1309.7 L1014.1 1310.7 L1014.9 1313.8 L1015.7 1309.9 L1016.5 1308.3 L1017.3 1308.8 L1018.1 1309.1 L1018.9 1307.6 L1019.7 1305.6 L1020.5 1303.9 L1021.3 1305.8 L1022.1 1304.7 L1022.9 1303.8 L1023.7 1306.1 L1024.4 1306.9 L1025.2 1306.3 L1026.0 1305.8 L1026.8 1304.4 L1027.6 1300.0 L1028.4 1302.5 L1029.2 1303.9 L1030.0 1304.2 L1030.8 1301.2 L1031.6 1302.3 L1032.4 1303.3 L1033.3 1305.3 L1034.1 1307.1 L1034.9 1309.6 L1035.8 1309.2 L1036.6 1310.3 L1037.4 1313.1 L1038.2 1310.2 L1039.0 1313.3 L1039.8 1311.9 L1040.5 1311.1 L1041.3 1312.5 L1042.1 1312.6 L1042.9 1311.1 L1043.7 1310.6 L1044.5 1313.8 L1045.3 1314.1 L1046.0 1313.5 L1046.8 1313.2 L1047.6 1311.6 L1048.4 1312.0 L1049.2 1312.8 L1050.0 1312.1 L1050.9 1312.5 L1051.7 1312.4 L1052.5 1312.3 L1053.4 1309.8 L1054.2 1309.5 L1055.0 1310.9 L1055.9 1308.7 L1056.7 1309.3 L1057.5 1309.6 L1058.4 1309.1 L1059.2 1309.8 L1060.0 1311.7 L1060.8 1313.8 L1061.6 1311.2 L1062.3 1309.4 L1063.1 1311.8 L1063.9 1311.6 L1064.7 1310.3 L1065.5 1308.4 L1066.3 1308.5 L1067.1 1310.4 L1067.9 1310.8 L1068.7 1311.1 L1069.4 1311.7 L1070.2 1313.0 L1071.0 1313.3 L1071.8 1311.6 L1072.6 1311.8 L1073.4 1310.4 L1074.1 1313.3 L1074.9 1310.8 L1075.7 1310.5 L1076.5 1312.2 L1077.2 1311.0 L1078.0 1304.6 L1078.8 1311.4 L1079.6 1311.6 L1080.3 1311.4 L1081.1 1310.0 L1081.9 1307.8 L1082.7 1310.5 L1083.6 1309.2 L1084.4 1313.2 L1085.2 1313.8 L1086.1 1314.4 L1086.9 1312.3 L1087.7 1315.7 L1088.6 1315.6 L1089.4 1316.6 L1090.2 1313.3 L1091.0 1314.9 L1091.7 1314.1 L1092.5 1312.7 L1093.3 1314.3 L1094.1 1311.7 L1094.8 1314.0 L1095.6 1313.7 L1096.4 1311.1 L1097.2 1310.3 L1097.9 1308.1 L1098.7 1311.3 L1099.5 1307.8 L1100.3 1308.1 L1101.2 1306.2 L1102.0 1307.2 L1102.8 1306.1 L1103.7 1306.9 L1104.5 1306.9 L1105.3 1307.1 L1106.2 1309.2 L1107.0 1308.3 L1107.8 1308.2 L1108.7 1306.9 L1109.5 1308.7 L1110.4 1313.6 L1111.2 1311.0 L1112.1 1309.1 L1112.9 1310.4 L1113.8 1309.6 L1114.6 1314.0 L1115.4 1312.0 L1116.2 1309.7 L1116.9 1312.2 L1117.7 1310.1 L1118.5 1312.2 L1119.3 1311.7 L1120.1 1309.8 L1120.8 1311.0 L1121.6 1309.3 L1122.4 1310.7 L1123.2 1309.3 L1124.0 1311.8 L1124.8 1309.9 L1125.5 1312.0 L1126.3 1311.7 L1127.1 1310.3 L1127.9 1312.3 L1128.7 1311.0 L1129.5 1312.6 L1130.3 1316.4 L1131.1 1312.3 L1131.9 1312.8 L1132.8 1314.7 L1133.6 1312.9 L1134.4 1313.3 L1135.2 1313.3 L1136.0 1316.8 L1136.8 1313.7 L1137.6 1315.2 L1138.4 1314.7 L1139.2 1312.9 L1140.0 1315.0 L1140.8 1314.1 L1141.6 1315.1 L1142.5 1314.7 L1143.3 1311.8 L1144.1 1311.1 L1144.9 1313.1 L1145.7 1310.6 L1146.5 1310.8 L1147.3 1314.0 L1148.1 1311.6 L1148.9 1313.1 L1149.7 1313.0 L1150.5 1312.2 L1151.3 1310.6 L1152.1 1309.7 L1152.9 1309.0 L1153.7 1307.2 L1154.5 1307.1 L1155.3 1306.7 L1156.1 1306.5 L1156.9 1305.1 L1157.8 1307.7 L1158.6 1308.7 L1159.4 1310.1 L1160.3 1311.0 L1161.1 1310.2 L1161.9 1313.5 L1162.8 1312.4 L1163.6 1315.2 L1164.4 1314.4 L1165.3 1317.2 L1166.1 1316.6 L1166.9 1314.3 L1167.7 1314.1 L1168.5 1315.6 L1169.2 1313.2 L1170.0 1312.5 L1170.8 1312.5 L1171.6 1310.7 L1172.4 1312.0 L1173.2 1312.1 L1174.0 1309.0 L1174.8 1311.5 L1175.5 1309.1 L1176.3 1309.0 L1177.1 1311.9 L1177.9 1310.3 L1178.7 1309.0 L1179.5 1311.6 L1180.3 1310.7 L1181.1 1312.6 L1181.8 1312.1 L1182.6 1313.0 L1183.4 1311.6 L1184.2 1312.0 L1185.0 1313.6 L1185.8 1312.3 L1186.6 1311.6 L1187.4 1312.0 L1188.2 1313.8 L1188.9 1312.5 L1189.7 1313.7 L1190.5 1313.5 L1191.3 1314.0 L1192.1 1312.8 L1192.9 1312.2 L1193.7 1312.3 L1194.4 1311.0 L1195.2 1313.4 L1196.0 1312.9 L1196.8 1313.2 L1197.6 1314.0 L1198.4 1317.1 L1199.2 1313.5 L1200.0 1314.2 L1200.8 1313.6 L1201.5 1313.9 L1202.3 1313.9 L1203.1 1313.1 L1203.9 1314.8 L1204.7 1314.4 L1205.5 1310.5 L1206.3 1309.7 L1207.0 1311.3 L1207.8 1309.0 L1208.6 1309.0 L1209.4 1310.0 L1210.2 1311.6 L1211.0 1311.0 L1211.9 1309.2 L1212.7 1308.4 L1213.5 1310.9 L1214.4 1308.9 L1215.2 1310.9 L1216.0 1309.2 L1216.9 1307.4 L1217.7 1307.0 L1218.5 1309.6 L1219.4 1308.8 L1220.2 1305.8 L1221.0 1307.4 L1221.9 1308.2 L1222.7 1309.4 L1223.5 1308.7 L1224.4 1308.8 L1225.2 1308.8 L1226.0 1309.9 L1226.9 1309.6 L1227.7 1310.3 L1228.5 1309.6 L1229.3 1310.5 L1230.0 1314.4 L1230.8 1316.1 L1231.6 1316.3 L1232.4 1317.4 L1233.1 1317.0 L1233.9 1318.1 L1234.7 1320.1 L1235.5 1320.9 L1236.2 1317.9 L1237.0 1318.4 L1237.8 1320.4 L1238.6 1320.0 L1239.4 1319.1 L1240.1 1314.3 L1240.9 1318.5 L1241.7 1320.6 L1242.5 1319.7 L1243.2 1320.4 L1244.0 1319.5 L1244.8 1318.5 L1245.6 1318.2 L1246.3 1318.3 L1247.1 1320.4 L1247.9 1319.1 L1248.7 1319.3 L1249.5 1317.4 L1250.3 1317.2 L1251.1 1318.8 L1251.9 1315.4 L1252.7 1315.1 L1253.5 1316.1 L1254.3 1317.1 L1255.1 1317.3 L1255.8 1316.4 L1256.6 1315.8 L1257.4 1315.8 L1258.2 1317.1 L1259.0 1317.2 L1259.8 1314.2 L1260.6 1312.8 L1261.4 1313.7 L1262.2 1314.7 L1263.0 1315.3 L1263.8 1314.0 L1264.6 1321.6 L1265.4 1318.3 L1266.3 1316.3 L1267.1 1319.5 L1267.9 1320.1 L1268.7 1319.3 L1269.5 1317.0 L1270.3 1318.1 L1271.1 1319.6 L1272.0 1316.7 L1272.8 1317.2 L1273.6 1322.1 L1274.4 1317.6 L1275.2 1319.6 L1276.0 1319.7 L1276.8 1317.7 L1277.7 1315.9 L1278.5 1317.1 L1279.3 1319.2 L1280.1 1320.3 L1280.9 1319.0 L1281.7 1321.3 L1282.5 1319.8 L1283.3 1320.2 L1284.1 1317.8 L1284.9 1317.4 L1285.7 1315.7 L1286.5 1314.5 L1287.3 1314.0 L1288.1 1315.1 L1288.9 1314.8 L1289.7 1313.6 L1290.5 1314.1 L1291.3 1316.6 L1292.1 1317.0 L1292.8 1316.4 L1293.6 1316.6 L1294.4 1319.6 L1295.2 1318.3 L1296.0 1320.1 L1296.8 1319.8 L1297.6 1318.8 L1298.4 1318.3 L1299.2 1318.8 L1300.0 1319.9 L1300.8 1318.3 L1301.6 1318.8 L1302.4 1321.0 L1303.2 1319.0 L1304.0 1318.7 L1304.8 1320.9 L1305.6 1320.6 L1306.4 1321.8 L1307.2 1323.6 L1308.0 1324.1 L1308.8 1325.1 L1309.6 1324.2 L1310.4 1322.2 L1311.2 1321.6 L1312.0 1321.2 L1312.8 1323.3 L1313.6 1323.2 L1314.4 1320.9 L1315.1 1321.5 L1315.9 1320.2 L1316.7 1320.0 L1317.5 1319.5 L1318.2 1320.4 L1319.0 1320.7 L1319.8 1318.3 L1320.6 1317.5 L1321.3 1316.8 L1322.1 1315.6 L1322.9 1316.5 L1323.7 1316.1 L1324.5 1315.5 L1325.3 1315.3 L1326.1 1316.8 L1326.9 1316.3 L1327.7 1314.5 L1328.5 1316.8 L1329.3 1317.2 L1330.1 1314.1 L1330.9 1314.5 L1331.7 1314.5 L1332.5 1315.3 L1333.3 1316.6 L1334.1 1317.3 L1334.9 1317.1 L1335.7 1314.7 L1336.5 1318.0 L1337.3 1317.6 L1338.1 1317.2 L1338.9 1319.8 L1339.7 1316.6 L1340.5 1316.5 L1341.3 1315.4 L1342.1 1317.0 L1342.9 1316.2 L1343.7 1317.8 L1344.4 1315.4 L1345.2 1318.4 L1346.0 1319.3 L1346.8 1318.5 L1347.6 1320.2 L1348.4 1318.5 L1349.2 1316.5 L1349.9 1319.4 L1350.7 1318.0 L1351.5 1319.7 L1352.3 1319.6 L1353.1 1320.3 L1353.9 1321.5 L1354.7 1320.9 L1355.4 1319.9 L1356.2 1320.4 L1357.0 1319.3 L1357.8 1317.4 L1358.6 1317.5 L1359.3 1315.7 L1360.1 1314.0 L1360.9 1317.5 L1361.7 1317.2 L1362.5 1317.4 L1363.3 1317.7 L1364.0 1317.2 L1364.8 1314.9 L1365.6 1315.3 L1366.4 1315.1 L1367.2 1312.4 L1368.0 1313.8 L1368.8 1314.6 L1369.6 1314.5 L1370.4 1315.2 L1371.2 1317.9 L1372.0 1317.8 L1372.8 1317.3 L1373.5 1317.4 L1374.3 1318.9 L1375.1 1319.0 L1375.9 1317.8 L1376.7 1319.6 L1377.5 1319.5 L1378.3 1317.7 L1379.1 1317.8 L1379.9 1318.3 L1380.7 1317.8 L1381.5 1317.7 L1382.4 1316.2 L1383.2 1321.1 L1384.1 1319.4 L1384.9 1318.6 L1385.8 1317.1 L1386.6 1318.0 L1387.5 1317.7 L1388.3 1320.3 L1389.1 1322.9 L1389.9 1321.2 L1390.7 1320.2 L1391.5 1322.4 L1392.3 1322.1 L1393.1 1319.7 L1393.9 1318.6 L1394.8 1319.9 L1395.6 1319.4 L1396.4 1321.1 L1397.2 1321.5 L1398.0 1318.9 L1398.8 1322.9 L1399.6 1322.8 L1400.4 1320.4 L1401.1 1321.0 L1401.9 1320.6 L1402.6 1316.9 L1403.4 1315.3 L1404.2 1317.2 L1405.0 1314.7 L1405.8 1318.0 L1406.6 1315.9 L1407.3 1316.8 L1408.1 1317.5 L1408.9 1319.3 L1409.7 1324.2 L1410.5 1319.3 L1411.3 1319.2 L1412.1 1319.3 L1412.9 1317.6 L1413.7 1319.4 L1414.5 1318.1 L1415.2 1319.7 L1416.0 1317.5 L1416.8 1321.6 L1417.6 1327.5 L1418.4 1320.3 L1419.2 1318.7 L1420.0 1318.3 L1420.7 1316.4 L1421.5 1317.9 L1422.3 1317.5 L1423.1 1316.8 L1423.8 1314.7 L1424.6 1312.3 L1425.4 1313.5 L1426.2 1310.8 L1426.9 1313.0 L1427.7 1309.8 L1428.5 1310.2 L1429.3 1309.4 L1430.2 1309.3 L1431.0 1309.3 L1431.8 1308.6 L1432.7 1305.3 L1433.5 1300.0 L1434.3 1304.6 L1435.2 1302.3 L1436.0 1302.7 L1436.8 1305.5 L1437.7 1306.1 L1438.5 1308.5 L1439.4 1308.6 L1440.2 1311.6 L1441.1 1312.8 L1441.9 1313.7 L1442.8 1316.5 L1443.6 1311.9 L1444.4 1314.1 L1445.3 1313.8 L1446.1 1312.9 L1446.9 1314.0 L1447.8 1314.4 L1448.6 1314.6 L1449.4 1314.2 L1450.3 1312.8 L1451.1 1314.0 L1451.9 1315.0 L1452.8 1314.3 L1453.7 1311.7 L1454.5 1311.7 L1455.3 1310.6 L1456.2 1309.0 L1457.0 1313.2 L1457.9 1317.4 L1458.7 1321.6 L1459.5 1320.8 L1460.3 1320.3 L1461.0 1319.4 L1461.8 1317.3 L1462.6 1318.6 L1463.4 1317.8 L1464.1 1319.1 L1464.9 1318.8 L1465.7 1319.4 L1466.5 1319.8 L1467.2 1317.2 L1468.0 1318.5 L1468.8 1315.3 L1469.6 1315.4 L1470.4 1317.1 L1471.1 1316.0 L1471.9 1315.3 L1472.7 1316.3 L1473.5 1317.9 L1474.3 1317.6 L1475.0 1319.4 L1475.8 1320.9 L1476.6 1319.7 L1477.4 1318.7 L1478.2 1317.8 L1479.0 1318.9 L1479.7 1315.3 L1480.5 1318.5 L1481.3 1319.0 L1482.1 1318.8 L1482.9 1320.7 L1483.6 1320.8 L1484.4 1317.9 L1485.2 1319.2 L1486.0 1318.3 L1486.7 1315.6 L1487.5 1316.9 L1488.3 1316.5 L1489.1 1318.4 L1489.8 1316.4 L1490.6 1315.0 L1491.4 1315.3 L1492.2 1315.7 L1493.0 1316.8 L1493.8 1315.1 L1494.6 1316.1 L1495.4 1318.2 L1496.2 1317.5 L1497.0 1318.0 L1497.8 1314.9 L1498.6 1317.7 L1499.3 1318.3 L1500.1 1317.0 L1500.9 1317.2 L1501.7 1317.2 L1502.5 1318.5 L1503.3 1318.1 L1504.1 1318.7 L1504.9 1319.9 L1505.7 1319.6 L1506.5 1322.8 L1507.3 1321.6 L1508.1 1320.0 L1508.9 1318.4 L1509.7 1319.9 L1510.5 1319.9 L1511.3 1321.2 L1512.1 1320.7 L1512.9 1319.2 L1513.7 1319.7 L1514.4 1322.1 L1515.2 1321.9 L1516.0 1321.6 L1516.8 1321.5 L1517.6 1319.2 L1518.4 1321.2 L1519.2 1317.5 L1520.0 1317.5 L1520.8 1318.0 L1521.6 1319.0 L1522.4 1320.1 L1523.3 1318.2 L1524.1 1318.3 L1524.9 1317.0 L1525.8 1318.7 L1526.6 1317.5 L1527.4 1319.5 L1528.3 1319.9 L1529.1 1319.1 L1529.9 1317.1 L1530.8 1313.8 L1531.6 1316.5 L1532.4 1313.9 L1533.1 1313.1 L1533.9 1312.5 L1534.6 1313.5 L1535.4 1312.9 L1536.2 1313.0 L1536.9 1313.5 L1537.7 1313.6 L1538.4 1312.8 L1539.2 1311.5 L1540.0 1313.9 L1540.9 1311.9 L1541.7 1312.0 L1542.5 1315.1 L1543.4 1314.0 L1544.2 1312.0 L1545.0 1312.0 L1545.9 1312.9 L1546.7 1311.5 L1547.5 1311.4 L1548.3 1311.4 L1549.0 1312.7 L1549.8 1314.4 L1550.6 1315.1 L1551.4 1315.6 L1552.1 1315.2 L1552.9 1317.2 L1553.7 1317.1 L1554.5 1318.2 L1555.2 1320.9 L1556.0 1322.9 L1556.8 1320.3 L1557.6 1322.6 L1558.4 1321.4 L1559.2 1321.3 L1560.0 1322.3 L1560.8 1321.3 L1561.6 1322.2 L1562.4 1320.4 L1563.2 1320.5 L1564.0 1322.9 L1564.8 1320.3 L1565.6 1320.6 L1566.4 1319.4 L1567.2 1319.7 L1568.0 1320.1 L1568.8 1318.8 L1569.6 1321.8 L1570.4 1319.3 L1571.2 1321.5 L1572.0 1322.7 L1572.8 1321.6 L1573.6 1323.1 L1574.4 1320.3 L1575.2 1318.6 L1576.0 1320.3 L1576.8 1319.7 L1577.6 1318.8 L1578.4 1321.5 L1579.2 1320.5 L1580.0 1320.2 L1580.8 1322.5 L1581.6 1321.2 L1582.4 1319.5 L1583.2 1320.1 L1584.0 1321.9 L1584.9 1322.4 L1585.7 1323.4 L1586.5 1322.4 L1587.3 1324.3 L1588.1 1325.9 L1588.9 1321.9 L1589.7 1320.9 L1590.5 1321.8 L1591.3 1321.4 L1592.1 1322.5 L1592.9 1322.1 L1593.7 1319.7 L1594.5 1321.6 L1595.3 1322.0 L1596.1 1318.6 L1596.9 1317.8 L1597.7 1319.6 L1598.5 1319.4 L1599.3 1318.7 L1600.2 1321.8 L1601.0 1320.1 L1601.8 1320.0 L1602.6 1319.4 L1603.4 1320.8 L1604.2 1318.5 L1605.0 1318.4 L1605.8 1316.4 L1606.6 1320.3 L1607.4 1315.3 L1608.2 1316.6 L1609.0 1315.7 L1609.8 1312.2 L1610.6 1318.7 L1611.4 1319.6 L1612.3 1319.1 L1613.1 1321.0 L1613.9 1318.0 L1614.7 1318.1 L1615.5 1317.5 L1616.3 1318.5 L1617.1 1317.8 L1617.9 1317.1 L1618.7 1317.0 L1619.5 1318.9 L1620.2 1317.6 L1621.0 1320.1 L1621.8 1317.7 L1622.6 1317.9 L1623.4 1318.3 L1624.2 1318.6 L1625.0 1317.7 L1625.8 1315.7 L1626.5 1315.4 L1627.3 1314.5 L1628.1 1317.3 L1628.9 1316.6 L1629.7 1315.3 L1630.5 1316.2 L1631.4 1318.0 L1632.2 1317.5 L1633.1 1324.4 L1633.9 1319.1 L1634.8 1321.6 L1635.6 1321.4 L1636.5 1321.6 L1637.3 1321.6 L1638.1 1323.2 L1639.0 1321.4 L1639.8 1320.3 L1640.6 1317.2 L1641.5 1313.7 L1642.3 1315.8 L1643.1 1314.7 L1643.9 1316.9 L1644.6 1317.7 L1645.4 1319.4 L1646.2 1320.3 L1647.0 1319.6 L1647.7 1317.9 L1648.5 1319.2 L1649.3 1318.7 L1650.1 1319.3 L1650.8 1320.8 L1651.6 1323.3 L1652.4 1321.6 L1653.2 1322.8 L1654.0 1324.4 L1654.8 1324.1 L1655.6 1322.4 L1656.4 1321.9 L1657.2 1321.4 L1658.0 1320.0 L1658.8 1320.6 L1659.6 1323.2 L1660.4 1320.0 L1661.2 1320.5 L1662.0 1322.9 L1662.9 1322.0 L1663.7 1323.1 L1664.5 1320.8 L1665.3 1322.9 L1666.1 1321.7 L1666.9 1320.1 L1667.7 1320.3 L1668.5 1320.9 L1669.3 1321.3 L1670.1 1319.7 L1670.9 1321.3 L1671.7 1322.1 L1672.5 1320.3 L1673.3 1321.7 L1674.1 1320.8 L1674.9 1322.5 L1675.7 1321.9 L1676.5 1318.2 L1677.3 1320.9 L1678.1 1324.5 L1678.9 1320.0 L1679.7 1324.2 L1680.4 1324.1 L1681.2 1322.9 L1682.0 1320.8 L1682.8 1323.5 L1683.6 1321.4 L1684.4 1323.3 L1685.2 1323.1 L1686.0 1321.4 L1686.8 1320.5 L1687.6 1322.8 L1688.4 1319.8 L1689.2 1321.0 L1690.0 1320.7 L1690.8 1317.8 L1691.6 1318.4 L1692.4 1316.9 L1693.2 1316.2 L1694.0 1316.4 L1694.8 1317.3 L1695.5 1317.9 L1696.3 1317.5 L1697.1 1313.5 L1697.9 1317.9 L1698.7 1317.5 L1699.5 1319.0 L1700.3 1314.8 L1701.1 1314.2 L1701.9 1313.2 L1702.7 1314.0 L1703.5 1314.4 L1704.3 1315.1 L1705.1 1313.8 L1705.9 1316.6 L1706.6 1313.9 L1707.4 1315.5 L1708.2 1314.3 L1709.0 1315.0 L1709.8 1317.4 L1710.6 1318.2 L1711.4 1318.3 L1712.2 1318.1 L1713.0 1316.6 L1713.8 1316.5 L1714.5 1317.5 L1715.3 1317.1 L1716.1 1319.1 L1716.9 1317.6 L1717.7 1319.0 L1718.5 1320.9 L1719.3 1321.8 L1720.1 1321.7 L1720.8 1322.9 L1721.6 1323.4 L1722.4 1323.6 L1723.2 1322.0 L1724.0 1321.9 L1724.8 1322.4 L1725.6 1325.2 L1726.4 1325.4 L1727.2 1322.5 L1727.9 1324.4 L1728.7 1323.2 L1729.5 1323.0 L1730.3 1324.1 L1731.1 1323.5 L1731.9 1324.2 L1732.7 1324.8 L1733.5 1325.1 L1734.3 1324.7 L1735.1 1323.2 L1735.9 1321.5 L1736.7 1321.2 L1737.5 1322.7 L1738.2 1321.5 L1739.0 1322.4 L1739.8 1320.9 L1740.6 1321.9 L1741.4 1323.1 L1742.2 1320.4 L1743.0 1320.4 L1743.8 1324.4 L1744.6 1322.1 L1745.4 1320.3 L1746.2 1322.7 L1747.0 1324.0 L1747.8 1323.3 L1748.6 1323.9 L1749.4 1322.8 L1750.2 1325.8 L1751.0 1324.5 L1751.8 1325.5 L1752.6 1324.0 L1753.4 1325.4 L1754.2 1325.9 L1755.0 1323.5 L1755.8 1322.8 L1756.5 1321.8 L1757.3 1322.7 L1758.1 1324.5 L1758.9 1325.5 L1759.7 1323.8 L1760.5 1323.5 L1761.3 1324.9 L1762.0 1323.6 L1762.8 1324.6 L1763.6 1322.4 L1764.4 1322.5 L1765.2 1324.0 L1766.0 1321.2 L1766.8 1322.7 L1767.6 1323.6 L1768.4 1323.5 L1769.3 1325.0 L1770.1 1325.3 L1770.9 1324.8 L1771.7 1327.3 L1772.5 1326.3 L1773.3 1325.9 L1774.1 1323.2 L1774.9 1326.2 L1775.8 1324.3 L1776.6 1325.1 L1777.4 1325.6 L1778.2 1325.7 L1779.0 1327.3 L1779.8 1327.1 L1780.6 1326.5 L1781.5 1327.4 L1782.3 1328.0 L1783.1 1327.5 L1783.9 1325.4 L1784.7 1327.0 L1785.5 1325.9 L1786.4 1325.5 L1787.2 1324.6 L1788.0 1327.9 L1788.8 1326.7 L1789.6 1328.3 L1790.4 1325.4 L1791.3 1327.9 L1792.1 1328.0 L1792.9 1325.8 L1793.7 1325.1 L1794.5 1324.9 L1795.3 1327.7 L1796.2 1328.2 L1797.0 1329.0 L1797.8 1325.8 L1798.6 1326.9 L1799.4 1326.7 L1800.2 1325.0 L1801.0 1323.9 L1801.8 1322.8 L1802.6 1322.9 L1803.4 1322.3 L1804.2 1318.4 L1805.0 1320.1 L1805.8 1318.6 L1806.6 1319.5 L1807.4 1317.7 L1808.2 1317.6 L1809.0 1317.7 L1809.8 1319.0 L1810.5 1319.8 L1811.3 1322.4 L1812.1 1322.3 L1812.9 1321.5 L1813.7 1322.4 L1814.5 1322.4 L1815.2 1320.0 L1816.0 1319.5 L1816.8 1320.1 L1817.6 1320.0 L1818.3 1320.1 L1819.1 1320.1 L1819.9 1318.6 L1820.7 1320.1 L1821.4 1322.4 L1822.2 1321.2 L1823.0 1319.0 L1823.8 1321.1 L1824.7 1319.3 L1825.5 1320.4 L1826.3 1320.5 L1827.2 1322.5 L1828.0 1321.3 L1828.8 1322.1 L1829.7 1320.0 L1830.5 1320.5 L1831.3 1319.7 L1832.2 1319.2 L1833.0 1321.5 L1833.8 1320.3 L1834.6 1321.8 L1835.4 1324.6 L1836.2 1324.2 L1836.9 1326.7 L1837.7 1325.2 L1838.5 1327.7 L1839.3 1326.5 L1840.1 1325.5 L1840.9 1325.0 L1841.7 1323.7 L1842.6 1324.4 L1843.4 1324.8 L1844.2 1324.9 L1845.0 1323.1 L1845.8 1323.9 L1846.6 1324.5 L1847.4 1325.1 L1848.3 1325.5 L1849.1 1325.4 L1849.9 1325.2 L1850.7 1324.0 L1851.5 1325.0 L1852.3 1326.5 L1853.0 1325.4 L1853.8 1325.8 L1854.6 1321.5 L1855.4 1326.1 L1856.2 1326.4 L1857.0 1326.8 L1857.7 1325.2 L1858.5 1325.6 L1859.3 1323.5 L1860.1 1324.2 L1860.9 1322.8 L1861.6 1324.0 L1862.4 1324.7 L1863.2 1322.8 L1864.0 1326.4 L1864.9 1325.7 L1865.7 1324.5 L1866.6 1324.1 L1867.4 1325.1 L1868.3 1323.6 L1869.1 1326.6 L1870.0 1325.1 L1870.8 1328.3 L1871.6 1328.8 L1872.4 1328.1 L1873.2 1328.3 L1874.0 1329.2 L1874.8 1330.2 L1875.6 1324.9 L1876.4 1327.6 L1877.2 1326.8 L1878.0 1326.9 L1878.8 1327.3 L1879.6 1324.8 L1880.4 1326.2 L1881.3 1325.2 L1882.1 1324.4 L1882.9 1322.9 L1883.8 1322.8 L1884.6 1324.6 L1885.4 1324.0 L1886.3 1324.5 L1887.1 1322.0 L1887.9 1326.3 L1888.8 1318.6 L1889.6 1324.0 L1890.4 1321.8 L1891.2 1322.6 L1892.0 1323.0 L1892.9 1324.5 L1893.7 1322.9 L1894.5 1323.9 L1895.3 1323.6 L1896.1 1324.3 L1896.9 1326.8 L1897.7 1328.0 L1898.6 1329.9 L1899.4 1329.6 L1900.2 1330.2 L1901.0 1328.3 L1901.8 1329.8 L1902.6 1329.9 L1903.4 1330.6 L1904.2 1330.1 L1904.9 1327.2 L1905.7 1325.3 L1906.5 1328.9 L1907.3 1329.3 L1908.1 1327.4 L1908.9 1326.6 L1909.7 1326.6 L1910.5 1329.5 L1911.3 1331.3 L1912.1 1327.7 L1912.8 1326.7 L1913.6 1328.2 L1914.4 1329.2 L1915.2 1327.6 L1916.0 1326.5 L1916.8 1327.9 L1917.6 1327.6 L1918.3 1329.1 L1919.1 1328.8 L1919.9 1327.7 L1920.7 1331.4 L1921.4 1331.8 L1922.2 1330.5 L1923.0 1331.1 L1923.8 1331.0 L1924.5 1331.6 L1925.3 1331.1 L1926.1 1329.0 L1926.9 1328.4 L1927.7 1329.3 L1928.5 1330.4 L1929.3 1331.4 L1930.1 1328.6 L1930.9 1329.3 L1931.7 1328.4 L1932.5 1328.0 L1933.3 1327.8 L1934.0 1327.7 L1934.8 1330.3 L1935.6 1328.1 L1936.4 1329.5 L1937.2 1328.4 L1938.0 1330.5 L1938.8 1329.2 L1939.6 1329.4 L1940.4 1330.1 L1941.2 1330.3 L1942.0 1329.7 L1942.9 1329.0 L1943.7 1327.5 L1944.6 1327.6 L1945.4 1326.4 L1946.3 1326.7 L1947.1 1325.9 L1948.0 1327.5 L1948.8 1327.3 L1949.6 1324.6 L1950.4 1325.7 L1951.2 1324.7 L1952.0 1326.3 L1952.8 1327.9 L1953.6 1328.0 L1954.4 1329.3 L1955.2 1326.7 L1956.0 1327.5 L1956.8 1327.7 L1957.6 1329.1 L1958.4 1328.4 L1959.2 1328.2 L1960.0 1331.7 L1960.8 1331.5 L1961.6 1328.9 L1962.4 1330.8 L1963.2 1328.6 L1964.0 1326.7 L1964.8 1328.7 L1965.6 1328.1 L1966.4 1329.0 L1967.2 1329.1 L1968.0 1329.0 L1968.8 1329.1 L1969.6 1330.1 L1970.4 1329.6 L1971.2 1331.8 L1972.1 1332.0 L1972.9 1330.4 L1973.7 1329.9 L1974.5 1329.8 L1975.3 1331.3 L1976.1 1332.0 L1976.9 1334.4 L1977.7 1332.8 L1978.5 1335.2 L1979.3 1333.9 L1980.1 1337.2 L1980.8 1331.0 L1981.6 1329.9 L1982.4 1329.8 L1983.2 1329.0 L1984.0 1327.8 L1984.8 1328.5 L1985.6 1329.5 L1986.4 1329.8 L1987.2 1327.7 L1988.0 1327.1 L1988.8 1333.2 L1989.6 1328.4 L1990.4 1327.1 L1991.2 1326.8 L1992.0 1328.2 L1992.8 1330.7 L1993.6 1329.5 L1994.4 1328.2 L1995.2 1328.0 L1996.0 1327.2 L1996.8 1328.0 L1997.6 1329.8 L1998.4 1331.1 L1999.2 1331.0 L2000.0 1332.2 L2000.8 1330.9 L2001.6 1331.6 L2002.4 1332.7 L2003.2 1332.0 L2003.9 1332.3 L2004.7 1331.8 L2005.5 1331.9 L2006.3 1331.5 L2007.1 1333.9 L2007.8 1331.9 L2008.6 1331.9 L2009.4 1330.8 L2010.2 1333.4 L2011.0 1334.6 L2011.8 1332.4 L2012.5 1332.9 L2013.3 1336.4 L2014.1 1333.3 L2014.9 1332.7 L2015.7 1335.1 L2016.5 1333.2 L2017.3 1334.3 L2018.1 1335.3 L2018.9 1337.6 L2019.7 1331.9 L2020.5 1331.6 L2021.3 1332.0 L2022.0 1332.8 L2022.8 1329.9 L2023.6 1331.2 L2024.4 1334.2 L2025.2 1333.5 L2026.0 1334.2 L2026.8 1335.4 L2027.6 1333.7 L2028.4 1335.2 L2029.2 1333.3 L2030.0 1333.6 L2030.8 1333.8 L2031.6 1335.4 L2032.4 1333.8 L2033.1 1334.7 L2033.9 1331.8 L2034.7 1333.8 L2035.5 1332.5 L2036.3 1329.3 L2037.1 1331.8 L2037.9 1331.9 L2038.7 1331.0 L2039.4 1331.9 L2040.2 1332.6 L2041.0 1333.2 L2041.8 1332.7 L2042.6 1334.8 L2043.4 1331.8 L2044.2 1327.7 L2045.0 1332.4 L2045.7 1333.7 L2046.5 1333.1 L2047.3 1333.0 L2048.1 1337.7 L2048.9 1330.4 L2049.7 1331.0 L2050.5 1328.8 L2051.2 1329.2 L2052.0 1331.9 L2052.8 1332.2 L2053.6 1330.5 L2054.4 1331.6 L2055.2 1330.6 L2056.0 1332.6 L2056.8 1332.0 L2057.6 1330.5 L2058.4 1331.3 L2059.3 1330.3 L2060.1 1331.8 L2060.9 1332.7 L2061.7 1331.9 L2062.5 1332.8 L2063.3 1333.5 L2064.1 1332.1 L2064.9 1330.1 L2065.7 1331.9 L2066.5 1332.3 L2067.4 1330.6 L2068.2 1329.3 L2069.0 1331.6 L2069.8 1331.0 L2070.6 1328.3 L2071.4 1332.1 L2072.2 1330.1 L2073.0 1330.0 L2073.8 1330.2 L2074.6 1331.9 L2075.5 1332.0 L2076.3 1332.9 L2077.1 1333.4 L2077.9 1333.4 L2078.7 1335.0 L2079.5 1332.8 L2080.3 1335.7 L2081.1 1333.1 L2081.9 1332.4 L2082.7 1331.4 L2083.5 1333.1 L2084.3 1331.0 L2085.1 1331.0 L2085.9 1329.4 L2086.7 1328.9 L2087.4 1327.4 L2088.2 1330.5 L2089.0 1328.8 L2089.8 1327.5 L2090.6 1330.9 L2091.4 1330.6 L2092.2 1327.4 L2093.0 1331.6 L2093.8 1327.5 L2094.6 1329.0 L2095.4 1328.3 L2096.2 1326.5 L2097.0 1328.6 L2097.8 1328.4 L2098.6 1327.1 L2099.4 1329.9 L2100.2 1330.6 L2101.0 1331.5 L2101.8 1329.4 L2102.6 1330.2 L2103.4 1332.2 L2104.2 1332.1 L2105.1 1332.3 L2105.9 1331.9 L2106.7 1329.7 L2107.5 1330.0 L2108.3 1329.6 L2109.1 1330.1 L2109.9 1328.6 L2110.7 1331.4 L2111.5 1332.7 L2112.3 1335.0 L2113.1 1334.4 L2113.9 1330.3 L2114.7 1333.3 L2115.5 1332.1 L2116.3 1330.7 L2117.1 1331.8 L2117.9 1329.6 L2118.7 1334.5 L2119.4 1334.1 L2120.2 1332.6 L2121.0 1333.6 L2121.8 1331.4 L2122.6 1330.2 L2123.4 1330.1 L2124.2 1333.0 L2125.0 1331.8 L2125.8 1332.0 L2126.6 1331.2 L2127.4 1330.2 L2128.2 1332.5 L2128.9 1332.9 L2129.7 1333.5 L2130.5 1331.8 L2131.3 1333.5 L2132.1 1334.1 L2132.9 1334.0 L2133.7 1335.1 L2134.5 1336.3 L2135.3 1335.2 L2136.1 1331.0 L2136.9 1333.2 L2137.7 1332.7 L2138.4 1337.6 L2139.2 1333.5 L2140.0 1334.6 L2140.8 1332.4 L2141.6 1333.0 L2142.4 1332.8 L2143.2 1332.0 L2144.0 1330.0 L2144.8 1331.2 L2145.7 1332.1 L2146.5 1332.7 L2147.3 1332.9 L2148.1 1331.0 L2148.9 1331.0 L2149.7 1333.7 L2150.5 1332.4 L2151.3 1336.0 L2152.2 1334.9 L2153.0 1333.0 L2153.8 1334.6 L2154.6 1334.3 L2155.4 1333.6 L2156.2 1332.8 L2157.0 1333.0 L2157.8 1331.4 L2158.7 1331.7 L2159.5 1329.9 L2160.3 1331.7 L2161.1 1332.0 L2161.9 1332.4 L2162.7 1334.5 L2163.5 1335.4 L2164.3 1336.3 L2165.2 1333.6 L2166.0 1330.5 L2166.8 1331.7 L2167.6 1333.3 L2168.4 1330.1 L2169.2 1332.8 L2170.0 1330.0 L2170.8 1332.7 L2171.6 1332.2 L2172.4 1334.0 L2173.2 1334.1 L2174.1 1334.3 L2174.9 1335.8 L2175.7 1335.5 L2176.5 1334.0 L2177.3 1335.2 L2178.1 1332.7 L2178.9 1333.1 L2179.7 1332.2 L2180.5 1334.3 L2181.3 1334.7 L2182.1 1334.6 L2182.9 1333.6 L2183.7 1335.5 L2184.5 1331.9 L2185.4 1331.9 L2186.2 1335.0 L2187.0 1334.6 L2187.8 1335.7 L2188.6 1335.3 L2189.4 1336.1 L2190.2 1334.8 L2191.0 1333.1 L2191.8 1333.7 L2192.6 1333.4 L2193.3 1335.8 L2194.1 1333.0 L2194.9 1335.5 L2195.7 1333.4 L2196.5 1333.7 L2197.3 1335.7 L2198.1 1333.3 L2198.9 1335.6 L2199.7 1335.2 L2200.4 1334.7 L2201.2 1335.5 L2202.0 1335.1 L2202.8 1332.8 L2203.6 1332.1 L2204.5 1333.4 L2205.3 1335.3 L2206.1 1334.4 L2207.0 1333.9 L2207.8 1334.1 L2208.6 1334.6 L2209.5 1333.5 L2210.3 1335.9 L2211.1 1336.1 L2212.0 1335.9 L2212.8 1335.3 L2213.6 1337.4 L2214.5 1335.7 L2215.3 1336.3 L2216.2 1336.9 L2217.0 1338.3 L2217.9 1337.0 L2218.7 1333.9 L2219.6 1335.2 L2220.4 1333.6" fill="none" stroke="#FF3F3F" stroke-width="4.2" stroke-linejoin="round" stroke-linecap="round"/>
<path d="M199.1 882.2 L199.9 881.4 L200.8 880.4 L201.6 880.5 L202.5 882.0 L203.3 878.9 L204.1 880.3 L204.9 884.1 L205.8 885.5 L206.6 884.7 L207.4 885.8 L208.3 885.1 L209.1 881.9 L209.9 879.0 L210.8 879.2 L211.6 878.0 L212.4 875.1 L213.3 873.1 L214.1 874.2 L214.9 871.2 L215.8 869.8 L216.6 870.6 L217.4 869.2 L218.2 870.5 L219.1 871.0 L219.9 874.7 L220.7 872.8 L221.6 870.5 L222.4 869.8 L223.2 870.0 L224.0 872.2 L224.9 874.8 L225.7 875.2 L226.5 876.4 L227.3 874.3 L228.2 868.7 L229.0 867.3 L229.8 865.6 L230.6 866.0 L231.5 866.4 L232.3 864.9 L233.2 863.6 L234.0 866.4 L234.8 867.8 L235.7 870.7 L236.5 871.2 L237.3 874.7 L238.1 872.9 L239.0 872.8 L239.8 870.5 L240.6 870.1 L241.4 867.1 L242.3 866.2 L243.1 862.3 L243.9 859.9 L244.8 855.6 L245.6 852.3 L246.4 849.0 L247.2 845.6 L248.1 842.3 L248.9 839.0 L249.7 840.5 L250.6 843.3 L251.4 849.0 L252.2 846.0 L253.1 843.0 L254.0 844.4 L254.8 842.4 L255.6 824.7 L256.4 806.9 L257.2 789.2 L258.0 756.0 L258.9 722.8 L259.7 689.6 L260.5 670.2 L261.4 650.9 L262.2 631.5 L262.9 620.7 L263.6 609.9 L264.3 620.7 L265.0 631.5 L265.7 650.9 L266.5 670.2 L267.2 689.6 L268.0 722.8 L268.9 756.0 L269.7 789.2 L270.5 803.7 L271.4 818.2 L272.2 832.8 L273.0 847.3 L273.8 851.6 L274.7 855.9 L275.5 860.3 L276.4 864.6 L277.2 868.9 L278.0 869.0 L278.9 868.2 L279.7 868.4 L280.5 866.9 L281.3 867.5 L282.2 868.1 L283.0 865.6 L283.8 866.3 L284.6 869.7 L285.5 869.4 L286.3 870.3 L287.1 872.7 L288.0 875.9 L288.8 868.0 L289.6 873.9 L290.4 872.6 L291.3 870.3 L292.1 869.7 L292.9 868.6 L293.8 866.1 L294.6 865.6 L295.4 866.9 L296.3 867.0 L297.1 866.6 L297.9 865.8 L298.7 867.0 L299.6 866.3 L300.4 868.9 L301.2 866.3 L302.1 866.2 L302.9 863.6 L303.7 862.8 L304.5 857.3 L305.4 863.4 L306.2 862.3 L307.0 863.4 L307.9 858.5 L308.7 858.7 L309.5 855.4 L310.3 854.2 L311.2 853.0 L312.0 849.0 L312.8 842.9 L313.7 836.8 L314.5 830.7 L315.3 835.7 L316.2 840.7 L317.0 845.7 L317.8 850.7 L318.7 855.7 L319.5 860.6 L320.4 865.6 L321.2 870.6 L322.0 870.2 L322.9 869.1 L323.7 867.2 L324.5 862.9 L325.3 861.5 L326.1 859.9 L327.0 861.3 L327.8 859.0 L328.6 858.7 L329.4 858.4 L330.3 854.4 L331.1 855.1 L331.9 853.9 L332.8 852.5 L333.6 849.9 L334.4 850.7 L335.2 852.7 L336.1 852.7 L336.9 856.2 L337.7 857.6 L338.6 859.1 L339.4 862.3 L340.2 861.1 L341.1 864.0 L341.9 863.1 L342.7 862.1 L343.6 861.9 L344.4 864.0 L345.2 865.5 L346.1 867.5 L346.9 866.6 L347.7 869.6 L348.6 870.4 L349.4 872.3 L350.2 872.8 L351.0 872.3 L351.9 870.9 L352.7 871.9 L353.5 870.7 L354.4 870.1 L355.2 868.5 L356.0 870.6 L356.8 870.3 L357.7 869.2 L358.5 867.3 L359.3 866.8 L360.2 866.1 L361.0 865.6 L361.8 865.6 L362.7 868.4 L363.5 869.6 L364.3 872.3 L365.2 871.0 L366.0 875.6 L366.8 870.8 L367.7 870.4 L368.5 870.0 L369.3 868.7 L370.2 864.0 L371.0 864.0 L371.8 866.9 L372.6 871.7 L373.5 871.9 L374.3 874.7 L375.1 872.7 L376.0 874.3 L376.8 873.6 L377.6 870.6 L378.5 872.0 L379.3 869.5 L380.1 868.5 L380.9 865.8 L381.8 864.4 L382.6 864.0 L383.4 863.8 L384.2 864.0 L385.1 866.0 L385.9 867.5 L386.7 868.7 L387.6 870.0 L388.4 868.0 L389.2 868.1 L390.0 869.2 L390.9 867.1 L391.7 868.2 L392.5 869.7 L393.4 869.2 L394.2 872.3 L395.0 873.9 L395.9 878.0 L396.7 878.5 L397.6 878.3 L398.4 878.0 L399.2 882.4 L400.0 876.2 L400.9 875.9 L401.7 876.6 L402.5 874.3 L403.3 871.2 L404.2 872.2 L405.0 870.4 L405.8 868.9 L406.6 867.2 L407.5 866.6 L408.3 864.2 L409.1 865.5 L410.0 867.4 L410.8 865.5 L411.6 863.9 L412.5 866.5 L413.3 863.7 L414.1 862.8 L415.0 863.3 L415.8 859.0 L416.6 862.9 L417.5 861.4 L418.3 861.0 L419.2 862.1 L420.0 862.3 L420.8 856.5 L421.6 850.6 L422.5 844.8 L423.3 839.0 L424.1 827.7 L424.9 816.4 L425.8 805.2 L426.6 793.9 L427.4 782.6 L428.2 790.1 L429.0 797.5 L429.9 805.0 L430.7 812.5 L431.5 817.0 L432.4 821.6 L433.2 826.2 L434.0 830.7 L434.9 824.5 L435.7 818.2 L436.5 812.0 L437.4 805.8 L438.1 797.5 L438.9 789.2 L439.6 780.9 L440.4 772.6 L441.1 783.0 L441.8 793.4 L442.5 803.7 L443.2 814.1 L444.0 827.9 L444.9 841.8 L445.7 855.6 L446.5 857.7 L447.4 859.2 L448.2 862.3 L449.0 857.7 L449.9 853.1 L450.7 848.6 L451.5 844.0 L452.3 839.4 L453.1 834.7 L454.0 830.1 L454.8 825.4 L455.6 820.8 L456.4 826.8 L457.3 832.8 L458.1 838.7 L459.0 844.7 L459.8 850.7 L460.6 855.7 L461.5 860.7 L462.3 865.6 L463.1 870.6 L463.9 870.6 L464.8 873.5 L465.6 875.3 L466.4 879.7 L467.2 877.4 L468.1 875.8 L468.9 874.8 L469.7 870.1 L470.6 870.3 L471.4 868.9 L472.2 866.9 L473.0 863.2 L473.9 861.3 L474.7 859.8 L475.5 859.0 L476.4 860.3 L477.2 862.0 L478.1 862.9 L478.9 867.3 L479.7 865.4 L480.5 866.9 L481.3 865.8 L482.1 868.4 L482.8 867.6 L483.6 870.3 L484.4 870.3 L485.2 868.6 L486.0 869.0 L486.8 869.4 L487.5 872.3 L488.3 873.1 L489.0 876.8 L489.8 876.9 L490.5 878.0 L491.3 879.6 L492.1 874.0 L492.8 871.7 L493.6 869.7 L494.3 866.6 L495.1 866.0 L495.9 854.7 L496.6 843.4 L497.4 832.0 L498.1 820.7 L499.0 808.1 L499.9 795.6 L500.8 783.0 L501.7 795.6 L502.5 808.1 L503.4 820.7 L504.1 831.3 L504.9 841.9 L505.6 852.4 L506.4 863.0 L507.2 864.8 L508.1 867.3 L508.9 866.5 L509.7 868.9 L510.6 867.7 L511.4 868.3 L512.2 871.1 L513.0 871.8 L513.9 871.3 L514.7 875.0 L515.5 873.5 L516.2 868.5 L517.0 869.6 L517.7 865.2 L518.5 862.3 L519.2 861.8 L520.0 860.0 L520.8 861.1 L521.5 860.1 L522.3 861.2 L523.0 860.2 L523.8 862.0 L524.5 861.5 L525.3 864.5 L526.0 864.9 L526.8 867.6 L527.5 868.5 L528.3 865.6 L529.0 870.5 L529.8 866.9 L530.5 866.7 L531.2 867.3 L532.0 863.0 L532.8 854.9 L533.5 846.9 L534.3 838.8 L535.1 835.0 L535.8 831.3 L536.6 827.5 L537.4 823.7 L538.1 820.0 L538.9 816.2 L539.6 821.7 L540.4 827.3 L541.1 832.8 L541.9 836.6 L542.6 840.3 L543.4 844.1 L544.1 847.9 L544.9 851.5 L545.6 855.1 L546.4 858.8 L547.1 862.4 L547.9 866.0 L548.6 867.9 L549.4 869.9 L550.1 874.1 L550.9 875.0 L551.6 878.0 L552.4 879.6 L553.2 878.0 L553.9 875.1 L554.7 871.3 L555.4 868.1 L556.2 864.5 L557.0 868.4 L557.7 872.3 L558.5 876.2 L559.2 880.1 L560.0 884.0 L560.8 884.7 L561.5 886.2 L562.2 888.9 L563.0 889.2 L563.8 890.5 L564.5 890.9 L565.2 892.0 L566.0 890.0 L566.8 889.2 L567.5 890.4 L568.2 887.6 L569.0 886.5 L569.8 883.8 L570.5 884.0 L571.3 884.6 L572.0 883.4 L572.8 883.4 L573.5 883.3 L574.3 886.0 L575.1 883.8 L575.8 885.1 L576.6 885.6 L577.3 887.0 L578.1 884.0 L578.9 881.9 L579.6 881.4 L580.4 880.1 L581.1 880.7 L581.9 877.6 L582.6 879.5 L583.4 877.6 L584.1 876.5 L584.9 878.1 L585.6 878.7 L586.4 880.4 L587.1 885.3 L587.9 885.1 L588.6 888.6 L589.4 885.8 L590.1 888.2 L590.9 888.9 L591.6 888.8 L592.4 887.3 L593.2 887.3 L593.9 888.6 L594.7 885.3 L595.4 888.1 L596.2 890.1 L597.0 889.3 L597.7 891.4 L598.5 891.1 L599.2 891.1 L600.0 888.7 L600.7 889.0 L601.5 890.4 L602.2 892.4 L603.0 892.8 L603.7 888.3 L604.5 886.7 L605.2 887.9 L606.0 884.4 L606.8 884.0 L607.5 881.7 L608.3 882.6 L609.0 880.4 L609.8 876.5 L610.5 875.5 L611.3 871.0 L612.0 869.5 L612.8 866.0 L613.5 858.5 L614.3 850.9 L615.0 843.3 L615.8 835.8 L616.5 841.4 L617.3 847.1 L618.0 852.8 L618.8 858.4 L619.5 866.7 L620.3 875.0 L621.0 883.3 L621.8 891.6 L622.6 889.7 L623.5 886.7 L624.3 893.0 L625.1 897.5 L625.9 891.4 L626.8 893.3 L627.6 894.1 L628.4 894.7 L629.2 895.1 L630.1 892.5 L630.9 894.7 L631.7 893.4 L632.6 892.5 L633.4 892.6 L634.2 891.9 L635.0 894.0 L635.9 891.9 L636.7 891.7 L637.5 893.0 L638.3 891.4 L639.2 888.9 L640.0 891.6 L640.8 894.8 L641.5 892.8 L642.2 893.8 L643.0 897.0 L643.8 897.3 L644.5 896.2 L645.3 895.5 L646.2 892.8 L647.0 893.5 L647.8 894.5 L648.7 896.3 L649.5 894.5 L650.3 893.9 L651.2 893.2 L652.0 891.6 L652.8 889.8 L653.5 886.4 L654.2 884.4 L655.0 881.9 L655.8 881.7 L656.5 877.7 L657.2 877.6 L658.0 875.0 L658.8 873.2 L659.7 872.8 L660.5 869.5 L661.3 867.4 L662.1 866.8 L663.0 866.1 L663.8 866.1 L664.6 864.4 L665.4 862.1 L666.3 863.5 L667.1 862.2 L667.9 866.2 L668.6 870.2 L669.4 874.2 L670.1 878.1 L670.9 882.1 L671.6 886.1 L672.4 890.1 L673.2 892.5 L673.9 893.9 L674.7 893.4 L675.4 894.9 L676.2 897.2 L676.9 896.7 L677.7 894.7 L678.5 892.3 L679.2 888.9 L680.0 887.3 L680.7 885.6 L681.5 883.9 L682.2 885.3 L683.0 881.5 L683.7 881.7 L684.5 879.0 L685.2 879.6 L686.0 882.8 L686.7 886.0 L687.5 889.2 L688.2 892.4 L689.0 895.6 L689.8 898.8 L690.5 902.0 L691.3 905.2 L692.1 905.2 L692.9 905.9 L693.8 906.5 L694.6 906.7 L695.4 905.7 L696.2 907.8 L697.0 905.2 L697.8 904.5 L698.7 904.3 L699.5 906.8 L700.3 906.7 L701.1 904.9 L702.0 902.1 L702.8 901.5 L703.6 900.3 L704.4 898.9 L705.3 897.2 L706.1 898.1 L706.9 897.2 L707.7 894.6 L708.6 895.7 L709.4 892.4 L710.2 893.4 L711.0 894.7 L711.9 891.4 L712.7 893.3 L713.5 893.2 L714.3 894.9 L715.1 896.2 L715.9 898.3 L716.8 897.1 L717.6 897.1 L718.4 899.2 L719.2 900.0 L719.9 903.4 L720.7 902.8 L721.4 904.5 L722.2 907.6 L722.9 909.6 L723.7 911.3 L724.5 908.6 L725.2 905.1 L726.0 901.4 L726.7 898.8 L727.5 897.7 L728.2 893.2 L729.0 888.6 L729.8 884.1 L730.5 879.6 L731.2 875.0 L732.0 870.5 L732.8 870.6 L733.5 870.2 L734.3 872.1 L735.0 872.3 L735.8 871.4 L736.5 872.5 L737.3 869.0 L738.1 872.1 L738.8 874.6 L739.6 876.6 L740.3 881.1 L741.1 884.7 L741.8 887.8 L742.6 887.1 L743.5 890.9 L744.3 891.8 L745.2 890.4 L746.1 891.9 L746.9 894.3 L747.8 896.2 L748.6 895.1 L749.3 895.9 L750.1 894.5 L750.9 892.5 L751.6 892.8 L752.4 891.6 L753.1 896.1 L753.9 896.0 L754.6 899.4 L755.4 899.4 L756.1 900.7 L756.9 904.9 L757.6 904.9 L758.4 903.8 L759.2 906.0 L759.9 905.1 L760.7 905.7 L761.4 906.6 L762.2 909.7 L763.0 909.3 L763.7 910.2 L764.5 912.1 L765.2 911.2 L766.0 915.6 L766.7 919.0 L767.5 919.7 L768.2 920.3 L769.0 920.8 L769.8 919.7 L770.6 921.3 L771.4 921.7 L772.2 920.9 L773.0 919.4 L773.8 918.3 L774.6 919.4 L775.4 919.7 L776.2 919.3 L777.1 922.3 L777.9 922.8 L778.7 922.7 L779.5 921.1 L780.3 920.7 L781.1 918.2 L781.9 918.3 L782.7 917.9 L783.5 918.8 L784.3 917.1 L785.1 919.0 L785.9 915.3 L786.7 916.3 L787.5 917.6 L788.3 916.7 L789.1 915.7 L789.9 916.5 L790.7 916.1 L791.5 917.4 L792.3 918.8 L793.1 919.7 L793.9 917.8 L794.7 915.2 L795.5 911.1 L796.4 911.0 L797.2 910.2 L798.0 913.3 L798.9 915.2 L799.7 917.4 L800.6 920.2 L801.4 919.0 L802.2 919.4 L803.0 920.6 L803.9 920.4 L804.7 920.3 L805.5 923.7 L806.3 922.6 L807.1 921.4 L807.9 920.6 L808.8 922.6 L809.6 919.5 L810.4 919.6 L811.2 918.9 L812.0 922.4 L812.8 920.4 L813.7 920.5 L814.5 923.0 L815.3 921.6 L816.1 921.9 L816.9 922.8 L817.7 924.2 L818.5 924.0 L819.3 921.8 L820.1 924.1 L820.9 923.4 L821.7 920.7 L822.5 921.5 L823.3 920.2 L824.1 921.9 L824.9 920.7 L825.7 921.3 L826.5 923.3 L827.3 920.8 L828.1 919.5 L828.9 921.6 L829.7 921.1 L830.5 919.2 L831.3 921.5 L832.1 920.2 L832.9 921.6 L833.7 920.6 L834.6 919.1 L835.4 919.1 L836.2 915.9 L837.1 909.8 L837.9 909.0 L838.7 909.3 L839.6 908.9 L840.4 907.2 L841.2 908.6 L842.1 910.0 L842.9 909.0 L843.7 911.4 L844.4 912.3 L845.2 915.4 L845.9 913.9 L846.7 914.9 L847.5 916.0 L848.2 918.3 L849.0 919.0 L849.7 921.2 L850.5 924.0 L851.3 921.0 L852.2 920.2 L853.0 919.3 L853.8 918.9 L854.7 918.1 L855.5 918.9 L856.3 918.0 L857.2 915.4 L858.0 916.5 L858.8 918.0 L859.7 918.2 L860.5 919.2 L861.3 921.1 L862.2 924.3 L863.0 922.8 L863.8 921.4 L864.6 920.3 L865.4 920.1 L866.1 921.3 L866.9 921.6 L867.7 923.9 L868.5 922.4 L869.3 923.9 L870.1 924.8 L870.9 923.2 L871.7 922.1 L872.5 921.5 L873.2 920.8 L874.0 920.7 L874.8 922.1 L875.6 920.3 L876.4 921.2 L877.2 924.2 L877.9 922.2 L878.7 921.1 L879.5 923.5 L880.3 923.1 L881.0 920.5 L881.8 921.0 L882.6 922.4 L883.4 921.6 L884.1 920.3 L884.9 921.9 L885.7 921.6 L886.5 918.6 L887.4 919.5 L888.2 917.1 L889.0 918.2 L889.9 915.2 L890.7 914.8 L891.5 916.3 L892.4 919.5 L893.2 918.9 L894.1 918.0 L894.9 920.1 L895.8 920.8 L896.6 921.5 L897.5 920.3 L898.3 924.0 L899.1 919.4 L899.9 924.1 L900.7 923.8 L901.5 924.5 L902.3 923.2 L903.1 924.0 L903.9 924.5 L904.7 926.7 L905.5 925.0 L906.3 923.9 L907.1 925.2 L907.9 923.2 L908.7 925.4 L909.5 924.5 L910.3 924.8 L911.1 924.5 L911.9 923.2 L912.7 925.2 L913.5 924.8 L914.3 925.6 L915.1 928.3 L915.9 926.6 L916.7 926.3 L917.6 927.5 L918.4 925.0 L919.2 925.1 L920.1 921.9 L920.9 922.8 L921.7 923.9 L922.6 921.8 L923.4 923.7 L924.2 922.4 L925.1 922.2 L925.9 922.3 L926.7 922.6 L927.5 921.6 L928.2 922.4 L929.0 923.0 L929.8 921.9 L930.6 923.7 L931.3 924.3 L932.1 923.9 L932.9 922.8 L933.7 924.5 L934.4 924.7 L935.2 923.8 L936.0 924.0 L936.8 922.5 L937.7 922.7 L938.5 924.9 L939.3 923.3 L940.2 922.0 L941.0 921.2 L941.8 920.6 L942.7 918.0 L943.5 917.6 L944.3 919.7 L945.2 918.6 L946.0 917.8 L946.8 918.7 L947.5 919.0 L948.3 917.7 L949.0 912.1 L949.8 916.5 L950.6 913.9 L951.3 913.9 L952.1 913.8 L952.8 913.9 L953.6 911.5 L954.4 913.7 L955.3 916.0 L956.1 914.4 L956.9 913.6 L957.8 912.8 L958.6 915.3 L959.4 916.8 L960.1 917.8 L960.9 921.3 L961.6 918.8 L962.4 921.2 L963.2 922.0 L963.9 920.5 L964.7 923.4 L965.4 925.3 L966.2 925.3 L967.0 925.9 L967.8 926.5 L968.6 923.3 L969.4 923.5 L970.2 923.1 L971.0 921.7 L971.8 924.3 L972.6 922.5 L973.4 924.1 L974.2 924.4 L975.0 922.2 L975.8 923.5 L976.7 923.1 L977.5 924.1 L978.3 926.3 L979.1 925.5 L979.9 923.6 L980.7 922.3 L981.5 921.7 L982.3 923.1 L983.1 923.1 L983.9 924.1 L984.7 922.0 L985.5 924.3 L986.3 922.8 L987.1 923.7 L987.9 923.2 L988.7 923.4 L989.5 921.8 L990.2 921.4 L991.0 921.2 L991.8 921.0 L992.6 920.3 L993.4 919.2 L994.2 922.2 L995.0 920.2 L995.8 921.1 L996.6 920.8 L997.4 923.3 L998.2 923.7 L999.0 924.1 L999.8 927.6 L1000.6 926.6 L1001.4 927.8 L1002.2 928.0 L1003.0 927.5 L1003.8 924.7 L1004.5 921.2 L1005.3 920.6 L1006.1 918.0 L1006.9 915.3 L1007.7 915.3 L1008.5 916.0 L1009.4 914.5 L1010.2 916.2 L1011.0 918.5 L1011.9 919.0 L1012.7 921.6 L1013.5 921.2 L1014.3 921.3 L1015.1 920.8 L1015.9 920.0 L1016.7 919.8 L1017.5 919.5 L1018.3 918.0 L1019.1 915.9 L1019.9 919.0 L1020.7 917.2 L1021.5 915.3 L1022.3 921.7 L1023.2 918.5 L1024.0 920.0 L1024.8 919.5 L1025.7 918.0 L1026.5 919.0 L1027.3 917.1 L1028.2 916.0 L1029.0 915.4 L1029.9 912.6 L1030.8 912.0 L1031.6 907.7 L1032.4 911.9 L1033.2 912.7 L1034.0 916.1 L1034.8 914.9 L1035.5 919.5 L1036.3 919.0 L1037.1 922.4 L1037.9 921.6 L1038.7 923.6 L1039.5 925.0 L1040.4 923.1 L1041.2 922.5 L1042.0 924.8 L1042.8 923.9 L1043.6 923.3 L1044.4 924.8 L1045.3 922.4 L1046.1 922.7 L1046.9 924.0 L1047.7 923.1 L1048.5 925.1 L1049.3 924.2 L1050.2 922.9 L1051.0 926.2 L1051.8 923.0 L1052.6 923.6 L1053.4 925.1 L1054.2 922.3 L1055.1 923.7 L1055.9 923.4 L1056.7 925.3 L1057.5 924.7 L1058.3 925.1 L1059.1 924.8 L1059.9 925.0 L1060.7 924.7 L1061.5 923.6 L1062.3 924.2 L1063.1 923.3 L1063.9 920.5 L1064.7 924.0 L1065.5 922.0 L1066.3 921.8 L1067.2 922.3 L1068.0 922.2 L1068.8 923.0 L1069.6 924.0 L1070.4 923.9 L1071.2 921.6 L1072.0 921.6 L1072.8 921.7 L1073.6 921.2 L1074.4 921.6 L1075.2 920.1 L1076.0 922.6 L1076.8 920.3 L1077.6 922.4 L1078.4 923.5 L1079.2 923.9 L1080.0 923.3 L1080.8 923.9 L1081.6 921.5 L1082.4 924.5 L1083.2 922.0 L1084.0 924.0 L1084.7 921.9 L1085.5 924.1 L1086.3 925.6 L1087.1 925.5 L1087.9 926.9 L1088.7 925.8 L1089.5 927.3 L1090.3 926.9 L1091.1 925.1 L1091.9 926.6 L1092.7 927.6 L1093.5 925.9 L1094.2 923.1 L1095.0 925.3 L1095.8 922.6 L1096.6 919.6 L1097.3 924.0 L1098.1 922.5 L1098.9 921.8 L1099.7 919.8 L1100.4 920.6 L1101.2 920.5 L1102.0 917.8 L1102.8 920.2 L1103.7 921.2 L1104.5 923.1 L1105.3 924.8 L1106.2 926.0 L1107.0 927.8 L1107.8 926.7 L1108.6 928.8 L1109.4 928.0 L1110.2 928.6 L1111.0 927.1 L1111.8 928.8 L1112.6 929.5 L1113.4 930.2 L1114.2 931.2 L1114.9 934.3 L1115.7 929.2 L1116.5 931.8 L1117.3 930.9 L1118.1 929.6 L1118.9 930.5 L1119.7 930.3 L1120.5 930.5 L1121.3 932.8 L1122.1 930.4 L1122.9 929.5 L1123.7 928.2 L1124.5 927.1 L1125.2 928.1 L1126.0 929.5 L1126.8 927.8 L1127.6 927.8 L1128.4 929.0 L1129.2 927.0 L1130.0 930.2 L1130.8 930.0 L1131.5 929.1 L1132.3 929.1 L1133.1 929.8 L1133.9 928.2 L1134.7 929.9 L1135.5 928.7 L1136.3 927.7 L1137.1 929.4 L1137.8 928.4 L1138.6 928.7 L1139.4 927.5 L1140.2 930.0 L1141.0 927.5 L1141.8 924.5 L1142.6 927.0 L1143.4 925.6 L1144.1 925.5 L1144.9 925.2 L1145.7 926.9 L1146.5 925.3 L1147.3 925.3 L1148.1 925.9 L1148.9 925.7 L1149.7 923.6 L1150.5 924.0 L1151.3 921.5 L1152.1 919.4 L1152.9 916.3 L1153.7 916.8 L1154.5 912.9 L1155.3 916.6 L1156.1 916.5 L1156.9 917.1 L1157.7 916.9 L1158.5 917.6 L1159.3 919.5 L1160.1 920.5 L1160.9 923.1 L1161.7 921.5 L1162.5 922.7 L1163.3 923.3 L1164.1 924.9 L1164.9 927.8 L1165.7 926.6 L1166.6 926.1 L1167.4 927.9 L1168.2 927.2 L1169.1 925.3 L1169.9 922.1 L1170.7 919.3 L1171.6 919.9 L1172.4 919.0 L1173.2 921.7 L1174.0 921.9 L1174.7 923.2 L1175.5 923.9 L1176.3 921.6 L1177.1 922.5 L1177.8 924.5 L1178.6 923.2 L1179.4 925.8 L1180.2 926.9 L1180.9 927.7 L1181.7 928.7 L1182.5 929.1 L1183.3 930.5 L1184.2 926.1 L1185.0 925.8 L1185.8 920.9 L1186.7 922.0 L1187.5 920.4 L1188.3 918.3 L1189.2 916.3 L1190.0 915.5 L1190.8 912.8 L1191.7 910.8 L1192.5 912.8 L1193.3 913.4 L1194.2 911.1 L1195.0 914.7 L1195.9 915.0 L1196.8 915.4 L1197.6 917.8 L1198.4 919.2 L1199.3 919.5 L1200.1 919.3 L1200.9 920.3 L1201.8 921.1 L1202.6 922.3 L1203.4 924.9 L1204.3 926.7 L1205.1 929.1 L1205.9 924.7 L1206.7 922.9 L1207.4 924.7 L1208.2 925.6 L1209.0 922.1 L1209.8 921.4 L1210.5 920.0 L1211.3 917.1 L1212.1 916.8 L1212.9 913.8 L1213.6 912.6 L1214.4 913.9 L1215.2 912.8 L1216.0 909.8 L1216.9 905.4 L1217.7 910.8 L1218.5 909.6 L1219.4 908.7 L1220.2 908.6 L1221.0 907.5 L1221.9 907.5 L1222.7 905.2 L1223.5 908.8 L1224.3 910.0 L1225.1 910.6 L1225.8 913.6 L1226.6 914.3 L1227.4 914.7 L1228.2 918.6 L1229.0 917.8 L1229.8 921.0 L1230.7 923.5 L1231.5 924.9 L1232.3 925.4 L1233.2 928.8 L1234.0 929.1 L1234.8 930.3 L1235.6 932.2 L1236.5 931.5 L1237.3 930.6 L1238.1 930.4 L1238.9 929.2 L1239.7 927.3 L1240.5 928.5 L1241.4 928.6 L1242.2 928.0 L1243.0 928.8 L1243.8 929.3 L1244.6 930.7 L1245.4 930.6 L1246.3 932.0 L1247.1 931.9 L1247.9 931.6 L1248.7 930.5 L1249.5 928.3 L1250.3 931.5 L1251.1 931.2 L1251.9 931.0 L1252.7 933.6 L1253.5 933.3 L1254.3 932.9 L1255.1 932.7 L1255.8 933.0 L1256.6 934.5 L1257.4 931.0 L1258.2 933.0 L1259.0 931.3 L1259.8 931.9 L1260.6 934.4 L1261.4 938.2 L1262.2 929.9 L1263.0 934.1 L1263.8 934.0 L1264.6 934.7 L1265.4 934.2 L1266.3 932.3 L1267.1 932.7 L1267.9 933.7 L1268.7 934.7 L1269.5 931.5 L1270.3 934.5 L1271.1 933.9 L1272.0 934.6 L1272.8 931.5 L1273.6 932.4 L1274.4 935.4 L1275.2 933.1 L1276.0 933.1 L1276.8 935.4 L1277.7 933.5 L1278.5 933.3 L1279.3 934.3 L1280.1 934.1 L1280.9 935.9 L1281.7 932.8 L1282.5 933.3 L1283.3 931.3 L1284.0 929.2 L1284.8 927.6 L1285.6 925.0 L1286.4 927.8 L1287.2 925.3 L1288.0 926.2 L1288.8 928.7 L1289.6 927.0 L1290.4 927.2 L1291.2 926.0 L1292.0 929.8 L1292.8 930.9 L1293.6 932.1 L1294.4 933.3 L1295.2 932.8 L1296.0 931.3 L1296.8 931.6 L1297.6 932.5 L1298.4 933.0 L1299.2 933.4 L1300.0 936.4 L1300.8 933.6 L1301.6 933.7 L1302.4 935.8 L1303.1 937.1 L1303.9 934.6 L1304.7 934.1 L1305.5 932.6 L1306.3 933.4 L1307.1 932.5 L1307.9 935.9 L1308.7 934.2 L1309.5 934.3 L1310.3 934.1 L1311.1 934.3 L1311.9 931.9 L1312.7 934.6 L1313.5 931.6 L1314.3 933.9 L1315.1 932.0 L1315.9 932.2 L1316.7 932.3 L1317.5 932.7 L1318.2 933.1 L1319.0 932.4 L1319.8 935.2 L1320.6 933.5 L1321.4 934.7 L1322.2 934.3 L1323.0 932.8 L1323.8 934.1 L1324.6 932.9 L1325.4 935.3 L1326.2 935.0 L1327.0 933.7 L1327.7 935.4 L1328.5 935.3 L1329.3 932.2 L1330.1 932.6 L1330.8 932.6 L1331.6 931.7 L1332.4 932.0 L1333.2 929.8 L1333.9 929.9 L1334.7 928.7 L1335.5 929.0 L1336.3 929.3 L1337.2 931.1 L1338.0 924.8 L1338.8 929.2 L1339.7 929.4 L1340.5 932.1 L1341.3 931.8 L1342.2 930.7 L1343.0 930.7 L1343.8 932.2 L1344.7 933.3 L1345.5 934.1 L1346.3 931.2 L1347.1 930.2 L1347.9 931.4 L1348.7 932.4 L1349.5 933.0 L1350.3 934.0 L1351.1 932.3 L1351.9 932.9 L1352.7 930.2 L1353.5 928.2 L1354.3 926.9 L1355.1 926.6 L1355.9 926.7 L1356.7 928.2 L1357.5 928.2 L1358.3 928.0 L1359.1 928.0 L1359.9 929.2 L1360.7 930.6 L1361.5 927.7 L1362.3 929.3 L1363.1 926.5 L1363.9 929.0 L1364.7 929.0 L1365.4 926.5 L1366.2 929.0 L1367.0 928.1 L1367.8 930.0 L1368.5 930.5 L1369.3 929.8 L1370.1 929.2 L1370.9 929.1 L1371.6 929.2 L1372.4 930.8 L1373.2 931.6 L1374.0 928.8 L1374.8 929.4 L1375.6 931.7 L1376.4 929.6 L1377.2 931.6 L1378.0 934.0 L1378.8 933.8 L1379.6 934.5 L1380.4 935.3 L1381.1 934.4 L1381.9 934.6 L1382.7 934.6 L1383.5 933.6 L1384.3 934.2 L1385.1 935.2 L1385.9 935.6 L1386.7 937.3 L1387.5 939.0 L1388.3 936.6 L1389.1 935.4 L1389.9 934.2 L1390.6 933.0 L1391.4 933.4 L1392.2 934.1 L1393.0 935.8 L1393.8 933.9 L1394.5 937.2 L1395.3 931.9 L1396.1 935.7 L1396.9 935.3 L1397.7 933.7 L1398.5 933.6 L1399.2 935.0 L1400.0 933.2 L1400.8 932.8 L1401.6 931.3 L1402.4 931.9 L1403.2 931.7 L1404.0 930.2 L1404.8 932.2 L1405.6 935.0 L1406.5 934.4 L1407.3 932.7 L1408.1 932.5 L1408.9 933.8 L1409.7 934.4 L1410.5 935.6 L1411.3 932.8 L1412.1 933.3 L1412.9 929.6 L1413.7 932.9 L1414.5 934.9 L1415.3 934.4 L1416.2 933.4 L1417.0 934.5 L1417.8 933.3 L1418.6 933.0 L1419.4 933.6 L1420.2 933.7 L1421.0 931.6 L1421.8 930.8 L1422.7 929.4 L1423.5 929.2 L1424.3 928.1 L1425.2 929.1 L1426.0 927.9 L1426.8 925.4 L1427.7 925.1 L1428.5 924.0 L1429.3 922.7 L1430.1 924.9 L1430.9 923.3 L1431.7 923.1 L1432.5 924.2 L1433.3 925.3 L1434.1 923.6 L1434.9 923.5 L1435.7 921.4 L1436.5 922.6 L1437.3 921.5 L1438.1 923.4 L1438.8 924.2 L1439.6 922.7 L1440.3 926.3 L1441.1 927.8 L1441.9 926.7 L1442.8 928.6 L1443.6 930.8 L1444.4 932.1 L1445.3 929.2 L1446.1 928.8 L1446.9 931.7 L1447.8 931.6 L1448.6 930.2 L1449.4 929.8 L1450.3 933.6 L1451.1 932.8 L1451.9 930.8 L1452.7 932.6 L1453.4 931.3 L1454.2 931.2 L1455.0 929.6 L1455.8 932.1 L1456.5 931.6 L1457.3 926.0 L1458.1 928.7 L1458.9 927.6 L1459.6 926.8 L1460.4 928.9 L1461.2 927.8 L1462.0 930.1 L1462.9 927.9 L1463.7 928.7 L1464.6 928.5 L1465.4 926.0 L1466.3 925.8 L1467.1 926.1 L1468.0 927.3 L1468.8 925.3 L1469.6 927.4 L1470.5 928.6 L1471.3 930.4 L1472.1 931.0 L1473.0 931.7 L1473.8 934.1 L1474.6 932.8 L1475.5 930.5 L1476.3 929.6 L1477.1 930.5 L1478.0 929.2 L1478.8 929.1 L1479.6 926.8 L1480.5 927.8 L1481.3 925.3 L1482.1 924.8 L1482.8 926.5 L1483.6 926.3 L1484.3 925.7 L1485.1 924.9 L1485.9 927.6 L1486.6 926.4 L1487.4 928.3 L1488.1 925.3 L1488.9 925.3 L1489.7 927.0 L1490.6 922.4 L1491.4 929.0 L1492.2 929.7 L1493.1 929.0 L1493.9 929.9 L1494.7 928.6 L1495.6 931.2 L1496.4 929.5 L1497.2 929.1 L1498.1 930.9 L1498.9 932.8 L1499.7 933.2 L1500.5 930.7 L1501.3 928.2 L1502.1 932.0 L1502.9 933.3 L1503.7 935.8 L1504.5 933.2 L1505.3 936.2 L1506.1 936.5 L1506.8 935.6 L1507.6 936.6 L1508.4 936.5 L1509.2 938.2 L1510.0 935.7 L1510.8 939.3 L1511.6 937.7 L1512.4 938.2 L1513.2 938.3 L1514.0 939.1 L1514.8 937.7 L1515.6 938.8 L1516.3 935.9 L1517.1 937.1 L1517.9 936.0 L1518.7 938.7 L1519.4 937.0 L1520.2 937.0 L1521.0 933.5 L1521.8 933.9 L1522.5 935.0 L1523.3 933.7 L1524.1 932.8 L1524.9 935.0 L1525.7 931.7 L1526.5 931.5 L1527.2 929.7 L1528.0 927.9 L1528.8 929.7 L1529.6 929.4 L1530.4 932.0 L1531.2 932.3 L1532.0 930.3 L1532.8 930.6 L1533.5 930.5 L1534.3 929.9 L1535.1 931.0 L1535.9 927.9 L1536.7 929.0 L1537.5 928.4 L1538.3 925.1 L1539.1 924.8 L1539.8 921.4 L1540.6 919.1 L1541.4 921.9 L1542.2 917.9 L1543.0 917.7 L1543.8 919.9 L1544.6 920.4 L1545.4 919.6 L1546.2 920.4 L1547.0 921.8 L1547.7 922.9 L1548.5 922.5 L1549.3 921.9 L1550.1 923.5 L1550.9 926.8 L1551.7 924.0 L1552.5 924.0 L1553.3 929.4 L1554.0 928.2 L1554.8 927.4 L1555.6 927.6 L1556.4 924.9 L1557.1 930.7 L1557.9 931.1 L1558.7 930.6 L1559.5 931.5 L1560.2 933.8 L1561.0 936.4 L1561.8 936.6 L1562.6 937.6 L1563.4 935.5 L1564.2 937.2 L1565.0 936.0 L1565.7 937.6 L1566.5 935.4 L1567.3 938.1 L1568.1 936.9 L1568.9 938.0 L1569.7 935.9 L1570.5 937.0 L1571.2 934.4 L1572.0 936.8 L1572.8 931.2 L1573.6 935.1 L1574.4 935.3 L1575.2 937.3 L1576.0 939.3 L1576.8 936.4 L1577.6 935.7 L1578.3 933.2 L1579.1 932.2 L1579.9 934.1 L1580.7 932.7 L1581.5 936.6 L1582.3 934.2 L1583.1 935.9 L1583.8 934.0 L1584.6 930.8 L1585.4 931.1 L1586.2 931.0 L1587.0 932.8 L1587.8 934.9 L1588.6 934.4 L1589.4 935.7 L1590.2 932.2 L1591.0 932.2 L1591.8 934.6 L1592.6 930.4 L1593.4 931.5 L1594.2 932.0 L1595.0 933.6 L1595.8 935.1 L1596.6 933.3 L1597.4 933.3 L1598.2 932.3 L1599.0 931.7 L1599.8 933.8 L1600.6 934.0 L1601.4 931.9 L1602.2 933.0 L1603.0 932.0 L1603.8 932.4 L1604.6 932.3 L1605.4 930.3 L1606.3 930.0 L1607.1 931.6 L1607.9 933.4 L1608.8 935.6 L1609.6 935.5 L1610.4 937.5 L1611.3 938.3 L1612.1 936.6 L1612.9 937.9 L1613.7 936.3 L1614.5 936.0 L1615.3 933.2 L1616.1 934.4 L1616.9 933.9 L1617.7 933.5 L1618.5 932.3 L1619.3 933.4 L1620.0 934.5 L1620.8 934.4 L1621.6 935.0 L1622.4 935.8 L1623.2 935.6 L1624.0 937.7 L1624.8 939.7 L1625.6 935.9 L1626.4 934.6 L1627.2 934.1 L1628.0 936.6 L1628.8 934.2 L1629.5 930.7 L1630.3 933.0 L1631.1 931.4 L1631.9 931.7 L1632.6 931.5 L1633.4 930.7 L1634.2 931.7 L1635.0 930.6 L1635.7 932.2 L1636.5 935.0 L1637.3 930.3 L1638.1 928.9 L1639.0 925.7 L1639.8 925.7 L1640.6 925.8 L1641.5 926.5 L1642.3 925.0 L1643.1 925.0 L1644.0 922.6 L1644.8 922.3 L1645.6 923.0 L1646.3 925.2 L1647.1 924.6 L1647.8 928.0 L1648.6 926.5 L1649.4 926.2 L1650.1 927.6 L1650.9 925.4 L1651.6 928.8 L1652.4 929.0 L1653.2 928.6 L1654.1 930.6 L1654.9 931.6 L1655.7 931.5 L1656.6 932.3 L1657.4 933.9 L1658.2 931.5 L1659.1 931.7 L1659.9 930.7 L1660.7 933.3 L1661.6 933.1 L1662.4 935.3 L1663.2 932.1 L1664.0 933.5 L1664.8 936.1 L1665.7 934.6 L1666.5 933.7 L1667.3 934.6 L1668.1 936.7 L1668.9 937.2 L1669.7 935.6 L1670.5 938.1 L1671.3 938.0 L1672.2 938.1 L1673.0 938.5 L1673.8 936.2 L1674.6 936.4 L1675.4 934.5 L1676.2 934.4 L1677.0 934.9 L1677.8 936.8 L1678.7 935.6 L1679.5 935.9 L1680.3 935.5 L1681.1 935.0 L1681.9 934.6 L1682.7 936.1 L1683.5 933.5 L1684.3 934.0 L1685.2 935.9 L1686.0 935.9 L1686.8 933.8 L1687.6 935.3 L1688.4 934.0 L1689.2 932.2 L1690.0 932.4 L1690.8 935.2 L1691.6 934.5 L1692.4 936.5 L1693.2 937.5 L1694.0 935.2 L1694.8 932.7 L1695.6 933.0 L1696.4 934.6 L1697.2 933.8 L1698.1 933.3 L1698.9 934.7 L1699.7 933.4 L1700.5 933.6 L1701.3 934.0 L1702.1 932.3 L1702.9 932.0 L1703.7 933.3 L1704.5 933.3 L1705.3 934.6 L1706.1 933.7 L1706.9 932.6 L1707.7 934.1 L1708.5 930.8 L1709.3 935.4 L1710.1 931.3 L1710.9 933.8 L1711.7 931.9 L1712.6 933.2 L1713.4 933.6 L1714.2 935.3 L1715.0 936.0 L1715.8 935.9 L1716.6 937.6 L1717.4 936.5 L1718.2 938.8 L1719.0 936.5 L1719.8 937.1 L1720.7 939.9 L1721.5 939.5 L1722.3 938.9 L1723.1 939.3 L1723.9 937.8 L1724.7 939.8 L1725.5 939.7 L1726.3 938.8 L1727.1 936.2 L1727.9 939.4 L1728.8 937.8 L1729.6 936.2 L1730.4 937.1 L1731.2 938.6 L1732.0 940.5 L1732.8 939.1 L1733.6 939.2 L1734.4 938.6 L1735.2 937.2 L1736.0 936.1 L1736.8 937.6 L1737.6 936.8 L1738.4 934.7 L1739.2 934.0 L1740.0 935.1 L1740.7 934.1 L1741.5 933.4 L1742.3 934.4 L1743.1 934.6 L1743.9 932.4 L1744.7 933.0 L1745.5 932.6 L1746.3 934.7 L1747.1 933.1 L1747.9 932.8 L1748.7 933.6 L1749.5 933.2 L1750.3 935.9 L1751.1 934.1 L1751.9 934.0 L1752.8 932.8 L1753.6 933.4 L1754.4 932.4 L1755.2 932.1 L1756.0 932.6 L1756.8 932.2 L1757.6 933.3 L1758.4 933.4 L1759.1 932.3 L1759.9 932.4 L1760.6 933.0 L1761.4 937.4 L1762.2 938.5 L1762.9 935.7 L1763.7 937.8 L1764.4 936.5 L1765.2 937.8 L1766.0 938.8 L1766.9 936.9 L1767.7 938.3 L1768.5 937.4 L1769.4 937.6 L1770.2 938.3 L1771.0 939.8 L1771.9 941.3 L1772.7 940.3 L1773.5 939.9 L1774.3 941.3 L1775.1 941.2 L1775.8 939.8 L1776.6 939.6 L1777.4 939.7 L1778.2 942.1 L1779.0 942.8 L1779.8 940.7 L1780.6 943.8 L1781.4 941.0 L1782.2 943.1 L1783.0 942.7 L1783.8 940.8 L1784.7 940.8 L1785.5 939.8 L1786.3 938.4 L1787.1 936.3 L1787.9 938.5 L1788.7 936.5 L1789.5 939.2 L1790.3 937.8 L1791.1 939.0 L1791.9 936.5 L1792.6 938.3 L1793.4 938.4 L1794.2 937.1 L1795.0 936.5 L1795.7 940.7 L1796.5 938.6 L1797.3 936.6 L1798.1 936.9 L1798.8 937.2 L1799.6 935.7 L1800.4 936.5 L1801.2 933.8 L1802.0 932.4 L1802.8 933.1 L1803.6 932.0 L1804.4 931.4 L1805.2 932.4 L1806.0 929.6 L1806.8 928.2 L1807.6 928.5 L1808.4 923.9 L1809.2 925.2 L1810.0 924.6 L1810.8 925.1 L1811.6 926.3 L1812.3 925.0 L1813.1 925.7 L1813.9 926.7 L1814.7 926.9 L1815.5 929.0 L1816.3 929.5 L1817.2 929.7 L1818.0 930.9 L1818.8 934.9 L1819.7 923.3 L1820.5 927.7 L1821.3 927.7 L1822.2 928.0 L1823.0 931.1 L1823.8 930.6 L1824.7 929.5 L1825.5 929.0 L1826.3 932.1 L1827.2 932.7 L1828.0 934.0 L1828.8 936.5 L1829.6 936.3 L1830.4 934.0 L1831.2 935.2 L1831.9 935.8 L1832.7 931.4 L1833.5 935.6 L1834.3 937.1 L1835.1 935.9 L1835.9 936.6 L1836.7 937.8 L1837.4 935.1 L1838.2 936.3 L1839.0 936.8 L1839.8 938.3 L1840.6 939.0 L1841.4 938.6 L1842.2 938.0 L1842.9 945.7 L1843.7 939.7 L1844.5 938.9 L1845.3 939.6 L1846.0 938.5 L1846.8 939.6 L1847.6 938.8 L1848.4 938.1 L1849.1 938.7 L1849.9 942.7 L1850.7 939.8 L1851.5 941.9 L1852.4 941.8 L1853.2 940.9 L1854.0 940.8 L1854.9 941.8 L1855.7 941.9 L1856.5 941.8 L1857.4 942.0 L1858.2 942.8 L1859.0 940.7 L1859.8 942.4 L1860.6 943.9 L1861.4 942.7 L1862.2 941.2 L1863.0 942.5 L1863.8 939.0 L1864.6 940.4 L1865.4 941.4 L1866.2 941.0 L1867.0 940.3 L1867.8 936.9 L1868.6 942.0 L1869.4 941.7 L1870.2 942.1 L1871.0 942.3 L1871.8 942.8 L1872.6 941.2 L1873.4 941.0 L1874.2 940.6 L1875.0 942.9 L1875.8 939.8 L1876.6 940.4 L1877.4 939.0 L1878.2 940.3 L1879.0 940.3 L1879.7 942.4 L1880.5 938.6 L1881.3 940.6 L1882.1 940.3 L1882.9 942.8 L1883.7 943.6 L1884.5 941.7 L1885.2 942.6 L1886.0 942.2 L1886.8 941.9 L1887.6 942.7 L1888.4 942.8 L1889.2 944.5 L1890.0 942.6 L1890.8 942.8 L1891.6 944.0 L1892.3 943.7 L1893.1 943.2 L1893.9 942.7 L1894.7 942.0 L1895.5 940.4 L1896.3 940.7 L1897.1 941.1 L1897.8 941.5 L1898.6 942.7 L1899.4 943.7 L1900.2 943.4 L1901.0 940.3 L1901.8 939.4 L1902.6 940.6 L1903.4 942.5 L1904.2 939.4 L1905.0 940.6 L1905.8 942.3 L1906.6 940.0 L1907.4 941.2 L1908.2 940.2 L1909.0 939.7 L1909.8 940.7 L1910.6 941.0 L1911.5 943.6 L1912.3 943.1 L1913.1 946.1 L1913.9 941.2 L1914.7 941.9 L1915.5 942.8 L1916.3 944.4 L1917.1 942.0 L1917.9 944.3 L1918.7 944.2 L1919.5 944.0 L1920.3 943.3 L1921.1 941.6 L1921.9 941.6 L1922.7 942.5 L1923.5 941.3 L1924.3 944.1 L1925.1 942.2 L1925.9 943.5 L1926.7 944.5 L1927.5 946.8 L1928.3 944.3 L1929.1 940.7 L1929.9 946.6 L1930.7 940.3 L1931.6 940.6 L1932.4 941.6 L1933.2 944.9 L1934.0 943.9 L1934.8 941.2 L1935.6 942.8 L1936.4 942.6 L1937.2 942.9 L1938.0 944.0 L1938.8 945.3 L1939.6 942.7 L1940.4 945.5 L1941.2 944.1 L1942.0 945.9 L1942.8 943.1 L1943.6 942.3 L1944.4 942.5 L1945.2 943.5 L1946.0 941.2 L1946.8 942.7 L1947.6 944.9 L1948.4 943.4 L1949.1 944.3 L1949.9 942.3 L1950.7 941.3 L1951.5 939.7 L1952.3 941.4 L1953.1 940.4 L1953.9 938.0 L1954.7 937.9 L1955.5 937.8 L1956.3 940.3 L1957.1 938.3 L1957.9 940.9 L1958.7 939.0 L1959.5 940.8 L1960.3 942.1 L1961.1 939.8 L1961.9 939.4 L1962.7 942.0 L1963.5 939.0 L1964.3 940.7 L1965.1 940.3 L1965.9 938.7 L1966.8 938.5 L1967.6 940.6 L1968.4 939.2 L1969.2 941.3 L1970.0 942.4 L1970.8 940.9 L1971.6 944.7 L1972.4 942.4 L1973.2 948.2 L1974.0 942.9 L1974.8 940.0 L1975.6 942.7 L1976.4 941.6 L1977.2 941.5 L1978.1 944.6 L1978.9 940.8 L1979.7 944.5 L1980.6 944.5 L1981.4 946.6 L1982.2 946.1 L1983.0 943.4 L1983.8 940.1 L1984.6 939.9 L1985.3 939.6 L1986.1 941.4 L1986.9 937.6 L1987.7 937.8 L1988.5 940.7 L1989.2 938.2 L1990.0 939.1 L1990.7 940.7 L1991.5 942.8 L1992.3 941.4 L1993.2 941.4 L1994.0 939.5 L1994.8 940.8 L1995.7 940.8 L1996.5 939.7 L1997.3 939.0 L1998.2 937.7 L1999.0 937.8 L1999.8 937.5 L2000.6 938.3 L2001.3 936.9 L2002.1 937.8 L2002.9 939.9 L2003.7 940.9 L2004.4 940.8 L2005.2 944.2 L2006.0 942.3 L2006.8 941.6 L2007.5 940.9 L2008.3 942.3 L2009.1 944.1 L2009.9 943.2 L2010.7 945.0 L2011.4 940.7 L2012.2 943.2 L2013.0 943.7 L2013.8 941.5 L2014.5 942.2 L2015.3 942.7 L2016.1 944.8 L2016.9 943.9 L2017.6 942.8 L2018.4 943.8 L2019.2 942.3 L2020.0 942.5 L2020.9 948.3 L2021.7 945.4 L2022.5 945.5 L2023.4 943.2 L2024.2 946.6 L2025.0 948.3 L2025.8 947.4 L2026.6 945.0 L2027.4 946.0 L2028.2 948.4 L2029.0 948.9 L2029.8 948.6 L2030.6 947.5 L2031.4 946.8 L2032.2 943.9 L2033.0 947.1 L2033.8 946.4 L2034.6 949.4 L2035.4 947.8 L2036.2 947.7 L2037.0 946.9 L2037.8 945.3 L2038.6 943.0 L2039.4 944.4 L2040.2 944.2 L2041.0 943.5 L2041.8 945.8 L2042.6 946.7 L2043.4 946.0 L2044.2 945.5 L2045.0 947.3 L2045.7 947.0 L2046.5 947.1 L2047.3 945.0 L2048.1 945.3 L2048.9 946.6 L2049.7 944.2 L2050.5 944.0 L2051.2 942.0 L2052.0 942.2 L2052.8 944.2 L2053.6 940.9 L2054.4 942.8 L2055.2 944.7 L2056.0 944.5 L2056.8 945.7 L2057.6 943.0 L2058.3 944.2 L2059.1 945.3 L2059.9 941.9 L2060.7 942.2 L2061.5 944.7 L2062.3 943.4 L2063.1 943.0 L2063.8 943.0 L2064.6 943.0 L2065.4 945.1 L2066.2 944.3 L2067.0 945.3 L2067.8 946.3 L2068.7 947.9 L2069.5 944.4 L2070.3 943.0 L2071.2 940.1 L2072.0 941.2 L2072.8 943.2 L2073.7 940.4 L2074.5 943.3 L2075.3 942.3 L2076.2 943.0 L2077.0 942.3 L2077.8 942.7 L2078.6 942.8 L2079.4 942.3 L2080.2 941.8 L2081.0 944.8 L2081.8 946.0 L2082.6 942.9 L2083.4 945.6 L2084.2 943.9 L2084.9 945.4 L2085.7 944.3 L2086.5 943.6 L2087.3 944.6 L2088.1 942.9 L2088.9 943.8 L2089.7 943.3 L2090.5 941.7 L2091.3 943.7 L2092.1 944.1 L2092.9 943.2 L2093.7 943.4 L2094.5 943.3 L2095.3 945.4 L2096.1 942.8 L2096.9 944.8 L2097.7 943.4 L2098.5 942.5 L2099.3 945.4 L2100.0 944.8 L2100.8 946.7 L2101.6 946.3 L2102.4 945.9 L2103.2 946.4 L2104.0 945.8 L2104.8 946.9 L2105.6 945.9 L2106.4 942.5 L2107.2 945.3 L2108.0 943.5 L2108.8 944.9 L2109.6 946.7 L2110.4 945.8 L2111.2 942.0 L2112.0 945.8 L2112.8 944.4 L2113.7 939.3 L2114.5 941.8 L2115.3 943.5 L2116.1 943.3 L2116.9 944.6 L2117.7 944.1 L2118.5 944.8 L2119.3 944.6 L2120.1 946.2 L2120.9 944.8 L2121.7 944.0 L2122.5 942.1 L2123.3 942.2 L2124.2 944.3 L2125.0 943.6 L2125.8 939.8 L2126.6 943.3 L2127.4 944.2 L2128.2 942.3 L2129.0 940.9 L2129.8 942.8 L2130.6 940.0 L2131.4 940.8 L2132.2 942.2 L2133.0 943.2 L2133.8 942.1 L2134.6 942.0 L2135.4 945.4 L2136.2 945.1 L2137.0 943.4 L2137.8 948.9 L2138.6 947.6 L2139.4 946.0 L2140.2 946.3 L2141.0 947.2 L2141.8 946.8 L2142.6 944.1 L2143.4 945.1 L2144.2 946.7 L2145.0 945.9 L2145.8 947.0 L2146.6 947.8 L2147.4 946.6 L2148.2 945.2 L2149.0 946.0 L2149.8 946.4 L2150.6 945.2 L2151.4 946.2 L2152.2 947.2 L2153.1 946.5 L2153.9 949.2 L2154.7 946.5 L2155.5 946.1 L2156.3 944.6 L2157.1 945.4 L2157.9 945.1 L2158.7 946.6 L2159.5 942.4 L2160.3 944.3 L2161.1 946.9 L2161.9 945.9 L2162.8 946.0 L2163.6 949.8 L2164.4 948.4 L2165.2 949.6 L2166.0 947.2 L2166.8 949.4 L2167.6 948.3 L2168.4 947.4 L2169.2 945.6 L2170.0 948.1 L2170.8 946.7 L2171.6 948.2 L2172.4 948.6 L2173.2 948.3 L2174.0 947.8 L2174.8 947.9 L2175.5 944.5 L2176.3 944.6 L2177.1 944.9 L2177.9 948.4 L2178.7 948.8 L2179.5 947.6 L2180.3 948.2 L2181.1 947.9 L2181.9 949.0 L2182.7 946.6 L2183.5 947.3 L2184.3 946.8 L2185.1 945.9 L2185.9 946.6 L2186.7 947.8 L2187.5 947.5 L2188.3 941.6 L2189.2 947.9 L2190.0 944.9 L2190.8 948.2 L2191.6 947.9 L2192.4 945.5 L2193.2 945.5 L2194.0 947.0 L2194.8 945.2 L2195.6 945.6 L2196.4 947.7 L2197.2 947.9 L2198.0 945.4 L2198.8 945.6 L2199.7 947.5 L2200.5 947.3 L2201.3 947.8 L2202.1 946.0 L2202.9 946.3 L2203.7 946.5 L2204.5 948.7 L2205.3 947.8 L2206.1 948.4 L2206.9 947.3 L2207.7 948.8 L2208.5 946.6 L2209.3 945.7 L2210.1 948.1 L2210.9 944.5 L2211.8 946.4 L2212.6 945.4 L2213.4 945.4 L2214.2 946.4 L2215.0 946.0 L2215.8 947.3 L2216.6 946.6 L2217.4 949.5 L2218.1 950.5 L2218.9 950.0 L2219.6 947.8 L2220.4 949.1" fill="none" stroke="#0272E6" stroke-width="4.2" stroke-linejoin="round" stroke-linecap="round"/>
<path d="M199.8 499.0 L200.7 494.8 L201.5 488.1 L202.4 492.7 L203.3 488.8 L204.1 487.2 L205.0 482.4 L205.8 483.2 L206.5 487.0 L207.3 485.5 L208.1 488.2 L208.8 489.3 L209.6 489.0 L210.3 484.9 L211.1 480.8 L211.8 476.7 L212.6 472.6 L213.4 477.8 L214.1 472.8 L214.9 480.8 L215.6 483.0 L216.4 487.7 L217.2 488.2 L217.9 486.9 L218.7 486.0 L219.4 484.8 L220.2 486.1 L220.9 484.2 L221.7 483.0 L222.5 484.4 L223.2 483.4 L224.0 483.1 L224.7 485.9 L225.5 484.6 L226.2 486.1 L227.0 484.7 L227.7 481.6 L228.5 479.3 L229.2 476.6 L230.0 476.0 L230.7 474.0 L231.5 478.3 L232.2 478.6 L233.0 480.9 L233.8 483.0 L234.6 482.0 L235.3 482.8 L236.1 483.1 L236.8 486.9 L237.6 485.4 L238.3 489.0 L239.1 486.7 L240.0 486.0 L240.8 483.1 L241.6 483.8 L242.5 479.7 L243.3 479.3 L244.1 473.2 L245.0 470.7 L245.8 471.0 L246.6 469.6 L247.3 469.0 L248.1 472.3 L248.8 475.6 L249.6 477.0 L250.3 475.6 L251.1 474.5 L251.8 473.1 L252.6 469.6 L253.4 460.1 L254.1 450.5 L254.9 441.0 L255.7 420.8 L256.4 400.7 L257.2 380.5 L257.9 366.1 L258.7 351.8 L259.4 337.4 L260.2 323.0 L260.9 319.7 L261.7 316.4 L262.4 320.5 L263.2 324.7 L263.9 343.3 L264.7 361.9 L265.4 380.5 L266.2 400.7 L266.9 420.8 L267.7 441.0 L268.4 447.8 L269.2 454.5 L269.9 461.2 L270.7 468.0 L271.5 469.6 L272.2 472.2 L273.0 474.0 L273.8 475.4 L274.5 478.3 L275.3 483.0 L276.2 479.5 L277.0 478.7 L277.9 479.8 L278.8 480.9 L279.6 477.2 L280.5 480.0 L281.3 478.4 L282.0 479.9 L282.8 482.0 L283.6 483.6 L284.3 484.2 L285.1 484.4 L285.8 481.7 L286.6 483.0 L287.4 482.8 L288.1 484.8 L288.9 485.7 L289.6 486.7 L290.4 487.0 L291.1 487.5 L291.9 481.7 L292.6 486.0 L293.4 480.8 L294.1 475.6 L294.9 477.8 L295.8 477.7 L296.6 481.1 L297.5 481.9 L298.3 480.8 L299.2 484.4 L300.0 482.7 L300.9 485.4 L301.7 484.7 L302.4 481.7 L303.2 478.6 L303.9 475.6 L304.7 472.6 L305.5 470.4 L306.4 470.4 L307.2 468.8 L308.0 470.9 L308.9 468.1 L309.7 467.5 L310.5 468.8 L311.3 467.4 L312.2 466.2 L313.0 465.0 L313.8 468.3 L314.5 471.6 L315.3 475.0 L316.0 478.3 L316.8 481.6 L317.6 481.1 L318.3 480.4 L319.1 478.6 L319.8 478.4 L320.6 477.7 L321.3 477.3 L322.1 474.1 L322.8 474.0 L323.6 473.0 L324.3 474.8 L325.1 474.6 L325.8 472.5 L326.6 473.0 L327.3 475.6 L328.1 469.9 L328.8 464.2 L329.6 458.5 L330.3 452.7 L331.1 447.0 L331.8 441.3 L332.6 435.6 L333.4 441.4 L334.1 447.1 L334.9 452.9 L335.6 458.6 L336.4 464.4 L337.1 470.1 L337.9 475.9 L338.6 481.6 L339.5 479.4 L340.3 481.0 L341.1 481.6 L342.0 483.0 L342.9 485.0 L343.7 485.5 L344.5 485.3 L345.4 484.0 L346.2 483.3 L346.9 480.4 L347.7 480.6 L348.4 480.4 L349.2 479.2 L350.0 480.3 L350.7 478.2 L351.5 475.4 L352.2 475.9 L353.0 477.0 L353.8 477.3 L354.6 478.6 L355.5 481.4 L356.3 480.0 L357.1 480.5 L357.9 480.2 L358.7 483.5 L359.5 483.3 L360.4 483.3 L361.2 486.8 L362.0 487.7 L362.8 486.7 L363.5 483.7 L364.3 481.7 L365.0 477.7 L365.8 477.9 L366.6 475.6 L367.3 475.3 L368.1 474.2 L368.8 471.1 L369.6 468.8 L370.4 472.0 L371.1 475.2 L371.9 478.4 L372.6 481.6 L373.4 480.7 L374.2 481.9 L375.0 479.6 L375.8 479.1 L376.6 480.0 L377.4 478.3 L378.2 480.1 L379.1 479.7 L379.9 477.9 L380.7 477.7 L381.5 478.7 L382.3 477.3 L383.1 477.0 L383.9 476.3 L384.7 475.6 L385.4 473.7 L386.2 475.8 L386.9 471.8 L387.7 468.6 L388.4 471.3 L389.2 471.3 L389.9 469.6 L390.7 470.3 L391.4 472.4 L392.2 472.3 L392.9 476.2 L393.7 475.0 L394.4 479.8 L395.2 479.7 L395.9 481.4 L396.7 484.7 L397.5 486.0 L398.3 485.1 L399.1 485.0 L400.0 485.1 L400.8 484.8 L401.6 484.0 L402.4 481.4 L403.2 482.1 L404.0 480.0 L404.9 480.7 L405.7 479.3 L406.5 478.1 L407.3 480.0 L408.1 478.4 L408.8 477.6 L409.6 475.2 L410.3 475.3 L411.1 471.9 L411.8 471.1 L412.6 470.5 L413.3 467.3 L414.1 466.4 L414.8 467.3 L415.6 465.6 L416.4 464.9 L417.1 465.9 L417.9 469.4 L418.6 467.6 L419.4 468.0 L420.1 455.5 L420.9 443.0 L421.6 430.5 L422.4 418.0 L423.1 410.3 L423.9 402.6 L424.6 395.0 L425.4 387.3 L426.1 395.0 L426.9 402.6 L427.6 410.3 L428.4 418.0 L429.1 425.6 L429.9 433.2 L430.6 440.8 L431.4 448.4 L432.2 443.7 L432.9 439.0 L433.7 434.3 L434.4 429.5 L435.2 424.8 L436.0 420.1 L436.7 415.4 L437.5 410.7 L438.2 418.3 L439.0 425.9 L439.8 433.4 L440.5 441.0 L441.2 447.5 L442.0 454.0 L442.8 460.5 L443.5 467.0 L444.2 473.5 L445.0 480.0 L445.8 481.3 L446.5 480.1 L447.2 477.5 L448.0 478.6 L448.8 477.2 L449.5 475.6 L450.3 470.9 L451.1 466.1 L451.8 461.4 L452.6 456.7 L453.5 460.5 L454.4 464.3 L455.2 468.0 L456.1 471.8 L457.0 475.6 L457.8 474.7 L458.5 474.7 L459.3 478.4 L460.1 478.3 L460.8 478.8 L461.6 481.6 L462.4 481.7 L463.1 483.8 L463.9 488.0 L464.6 485.9 L465.4 486.3 L466.1 486.5 L466.9 489.6 L467.6 489.0 L468.4 487.8 L469.3 482.4 L470.1 483.4 L471.0 484.7 L471.8 484.4 L472.7 481.3 L473.5 479.6 L474.4 479.8 L475.2 477.0 L475.9 481.0 L476.7 477.1 L477.4 476.8 L478.2 477.5 L478.9 475.1 L479.7 475.3 L480.4 475.7 L481.2 478.6 L482.0 476.7 L482.8 482.8 L483.5 479.2 L484.3 480.8 L485.1 478.6 L485.9 480.4 L486.7 481.4 L487.4 483.9 L488.2 485.7 L489.0 487.0 L489.8 483.2 L490.5 481.8 L491.3 481.7 L492.0 482.6 L492.8 482.5 L493.5 478.1 L494.3 477.9 L495.1 472.0 L495.8 466.1 L496.6 460.1 L497.4 454.2 L498.1 448.3 L498.9 442.4 L499.6 448.3 L500.4 454.3 L501.1 460.2 L501.9 466.1 L502.6 472.0 L503.4 478.0 L504.1 483.9 L504.9 487.5 L505.6 486.3 L506.4 487.2 L507.1 488.4 L507.9 486.8 L508.7 488.1 L509.4 488.8 L510.2 490.0 L510.9 487.5 L511.7 484.3 L512.5 482.8 L513.2 479.4 L514.0 478.9 L514.9 474.4 L515.7 473.4 L516.5 472.8 L517.4 470.3 L518.2 469.2 L519.0 468.1 L519.9 466.3 L520.7 462.8 L521.5 465.9 L522.2 469.0 L523.0 472.7 L523.8 470.5 L524.5 478.3 L525.3 481.8 L526.0 482.8 L526.8 483.9 L527.5 480.9 L528.3 477.9 L529.0 474.8 L529.8 471.8 L530.6 471.8 L531.5 471.4 L532.3 470.5 L533.1 467.4 L534.0 467.5 L534.8 462.4 L535.6 463.0 L536.5 461.1 L537.3 459.8 L538.1 459.8 L538.8 460.3 L539.6 463.4 L540.4 465.9 L541.1 469.0 L541.9 467.3 L542.6 473.0 L543.4 473.2 L544.1 474.9 L544.9 478.5 L545.6 481.0 L546.4 482.4 L547.1 483.7 L547.9 482.5 L548.6 485.4 L549.4 489.2 L550.1 488.3 L550.9 490.0 L551.6 488.9 L552.4 487.5 L553.1 489.5 L553.9 485.4 L554.7 488.7 L555.5 494.1 L556.2 494.3 L557.0 497.5 L557.8 496.4 L558.7 499.8 L559.5 494.1 L560.3 494.6 L561.2 493.7 L562.0 495.7 L562.8 495.3 L563.7 494.0 L564.5 493.0 L565.2 492.7 L566.0 494.3 L566.8 495.8 L567.5 497.2 L568.2 497.6 L569.0 499.8 L569.8 500.5 L570.5 502.0 L571.3 500.9 L572.2 498.2 L573.0 494.5 L573.8 494.0 L574.6 490.6 L575.5 490.6 L576.3 490.3 L577.1 488.3 L578.0 485.0 L578.8 485.4 L579.6 487.0 L580.3 488.4 L581.1 490.8 L581.8 491.3 L582.6 492.0 L583.3 495.9 L584.1 497.5 L584.9 497.1 L585.7 497.2 L586.5 495.1 L587.3 496.0 L588.1 495.8 L588.9 496.8 L589.7 499.2 L590.5 497.8 L591.3 497.9 L592.1 498.7 L592.9 498.3 L593.7 503.6 L594.5 500.4 L595.3 498.1 L596.1 499.2 L596.9 499.1 L597.7 499.8 L598.5 500.7 L599.2 497.7 L600.0 497.7 L600.7 495.2 L601.5 492.5 L602.2 493.3 L603.0 493.0 L603.8 493.5 L604.5 495.2 L605.3 495.1 L606.0 494.9 L606.8 497.5 L607.6 495.7 L608.5 490.9 L609.3 488.4 L610.1 483.5 L611.0 480.4 L611.8 478.4 L612.6 477.2 L613.5 474.0 L614.3 472.6 L615.0 476.3 L615.8 480.0 L616.5 483.6 L617.3 487.3 L618.0 491.0 L618.8 494.6 L619.5 498.3 L620.3 502.0 L621.1 502.3 L621.9 501.8 L622.7 501.3 L623.6 500.4 L624.4 502.0 L625.2 503.0 L626.0 502.4 L626.8 502.0 L627.6 499.0 L628.5 498.0 L629.3 499.5 L630.1 498.9 L630.9 500.5 L631.7 499.1 L632.6 499.0 L633.4 497.2 L634.2 499.5 L635.1 496.7 L635.9 497.1 L636.7 495.0 L637.6 492.9 L638.4 493.0 L639.2 494.8 L640.1 495.8 L640.9 496.6 L641.7 497.0 L642.5 500.8 L643.4 500.0 L644.2 501.6 L645.0 500.2 L645.8 501.7 L646.7 502.8 L647.5 503.5 L648.3 502.4 L649.1 499.8 L649.9 499.5 L650.7 501.2 L651.5 498.1 L652.3 498.6 L653.2 497.9 L654.0 501.4 L654.8 496.0 L655.6 496.0 L656.4 496.9 L657.2 497.5 L658.0 496.0 L658.8 492.2 L659.5 488.5 L660.3 484.7 L661.1 480.9 L661.8 477.2 L662.6 473.4 L663.4 469.4 L664.1 465.3 L664.9 461.3 L665.6 457.3 L666.4 453.2 L667.1 449.2 L667.9 452.8 L668.6 456.3 L669.4 459.8 L670.1 463.4 L670.9 466.9 L671.7 470.5 L672.4 474.1 L673.2 477.6 L673.9 481.1 L674.7 484.7 L675.5 483.5 L676.3 481.8 L677.2 476.1 L678.0 475.7 L678.8 471.6 L679.6 468.7 L680.4 470.4 L681.2 465.0 L682.0 462.6 L682.9 463.9 L683.7 460.2 L684.5 456.0 L685.2 463.2 L686.0 470.4 L686.7 477.6 L687.5 484.9 L688.2 492.1 L689.0 499.3 L689.7 506.5 L690.5 509.9 L691.2 511.4 L692.0 509.6 L692.8 510.7 L693.5 511.7 L694.3 514.3 L695.0 514.7 L695.8 513.3 L696.6 516.7 L697.4 514.2 L698.2 514.7 L699.0 514.5 L699.8 513.7 L700.6 512.1 L701.4 513.1 L702.3 513.2 L703.1 517.0 L703.9 518.6 L704.7 518.2 L705.5 521.5 L706.3 514.3 L707.1 515.0 L707.9 517.0 L708.6 515.1 L709.4 512.6 L710.1 512.6 L710.9 509.8 L711.6 508.2 L712.4 508.7 L713.1 506.7 L713.9 506.5 L714.6 509.6 L715.4 510.2 L716.1 513.8 L716.9 512.4 L717.6 513.8 L718.4 516.0 L719.1 516.9 L719.9 521.6 L720.7 517.9 L721.4 516.4 L722.2 517.7 L723.0 516.4 L723.7 513.2 L724.5 511.4 L725.2 510.1 L726.0 508.0 L726.8 507.7 L727.5 504.0 L728.2 503.6 L729.0 500.4 L729.8 497.5 L730.5 497.2 L731.2 493.7 L732.0 493.0 L732.8 494.4 L733.5 491.5 L734.2 492.4 L735.0 495.3 L735.8 495.6 L736.5 496.0 L737.3 498.7 L738.1 500.1 L738.9 499.1 L739.8 499.7 L740.6 499.5 L741.4 500.6 L742.2 501.9 L743.0 502.6 L743.8 503.1 L744.7 504.0 L745.5 504.8 L746.3 506.9 L747.1 507.3 L747.9 508.4 L748.6 509.1 L749.4 510.5 L750.1 515.1 L750.9 516.4 L751.6 516.4 L752.4 518.2 L753.2 517.7 L754.0 519.7 L754.8 517.6 L755.6 520.1 L756.4 523.1 L757.2 523.4 L758.1 527.3 L758.9 526.0 L759.7 526.3 L760.5 528.1 L761.3 529.5 L762.1 530.1 L762.9 532.3 L763.7 530.0 L764.5 532.6 L765.3 530.1 L766.1 530.5 L766.9 531.7 L767.6 531.3 L768.4 528.7 L769.2 529.4 L770.0 529.0 L770.8 529.7 L771.6 530.0 L772.4 529.9 L773.2 527.9 L773.9 528.6 L774.7 528.2 L775.5 527.9 L776.3 526.9 L777.1 528.2 L777.9 530.6 L778.7 528.8 L779.5 527.4 L780.3 528.3 L781.1 526.9 L781.8 526.4 L782.6 526.2 L783.4 524.0 L784.2 525.5 L785.0 527.3 L785.8 527.4 L786.6 527.4 L787.4 530.8 L788.2 530.0 L789.0 528.8 L789.8 528.9 L790.6 528.9 L791.4 528.9 L792.2 531.5 L793.0 529.9 L793.8 530.5 L794.6 530.0 L795.4 533.5 L796.2 532.3 L797.0 533.3 L797.8 533.9 L798.6 531.1 L799.4 530.3 L800.2 531.6 L801.0 532.4 L801.8 531.7 L802.6 532.3 L803.4 531.8 L804.3 535.2 L805.1 532.8 L805.9 530.6 L806.7 532.1 L807.5 534.6 L808.3 535.5 L809.1 533.0 L809.9 532.2 L810.8 531.2 L811.6 529.7 L812.4 530.1 L813.2 531.0 L814.0 533.3 L814.8 530.8 L815.7 532.4 L816.5 530.0 L817.3 528.1 L818.2 527.2 L819.0 526.5 L819.8 528.5 L820.6 529.4 L821.4 528.8 L822.2 528.4 L823.0 528.5 L823.8 525.9 L824.5 528.4 L825.3 527.1 L826.1 528.0 L826.9 530.3 L827.7 530.1 L828.5 530.4 L829.3 529.9 L830.1 531.6 L830.9 530.1 L831.7 531.1 L832.5 529.1 L833.3 530.5 L834.1 528.4 L834.9 528.0 L835.6 529.6 L836.4 528.3 L837.2 528.9 L838.0 527.3 L838.8 527.5 L839.6 529.4 L840.4 531.6 L841.2 532.7 L842.0 531.8 L842.8 535.3 L843.5 531.4 L844.3 531.7 L845.1 530.6 L845.9 531.2 L846.7 532.7 L847.5 534.1 L848.3 533.1 L849.1 532.7 L849.9 533.3 L850.6 533.1 L851.4 535.6 L852.2 533.9 L853.0 534.0 L853.8 527.6 L854.5 528.9 L855.2 528.2 L856.0 526.7 L856.8 523.9 L857.5 525.3 L858.3 524.6 L859.1 525.0 L859.9 526.5 L860.7 525.5 L861.5 525.3 L862.3 529.4 L863.2 530.2 L864.0 530.1 L864.8 533.1 L865.6 535.0 L866.4 533.6 L867.2 533.8 L868.0 534.0 L868.8 531.0 L869.6 533.0 L870.4 531.6 L871.2 533.4 L872.0 533.5 L872.8 534.3 L873.7 533.4 L874.5 535.0 L875.3 535.6 L876.1 532.7 L876.9 532.9 L877.7 533.9 L878.5 532.3 L879.3 528.8 L880.1 532.5 L880.9 529.4 L881.7 530.0 L882.5 533.5 L883.4 531.2 L884.2 532.1 L885.0 533.8 L885.8 533.8 L886.6 532.1 L887.4 534.2 L888.2 531.6 L889.0 532.9 L889.8 532.3 L890.6 536.5 L891.4 532.1 L892.2 532.9 L893.0 532.5 L893.9 533.4 L894.7 532.9 L895.5 532.8 L896.3 532.8 L897.1 532.6 L897.9 531.5 L898.7 531.1 L899.5 533.8 L900.3 534.0 L901.1 535.2 L901.9 536.9 L902.7 535.9 L903.5 535.2 L904.3 534.3 L905.1 537.4 L906.0 535.2 L906.8 537.3 L907.6 533.5 L908.4 536.6 L909.2 534.6 L910.0 536.5 L910.8 536.6 L911.6 536.2 L912.4 535.2 L913.2 529.1 L913.9 534.3 L914.7 533.6 L915.5 533.8 L916.3 534.1 L917.1 532.4 L917.9 532.3 L918.6 530.6 L919.4 534.0 L920.2 528.5 L921.0 529.0 L921.8 530.7 L922.6 530.0 L923.5 533.5 L924.3 531.2 L925.1 532.9 L925.9 533.4 L926.8 536.0 L927.6 536.4 L928.4 536.6 L929.2 537.8 L930.0 538.1 L930.8 536.6 L931.6 533.3 L932.4 533.3 L933.2 534.4 L934.0 535.2 L934.8 533.8 L935.6 534.5 L936.3 535.4 L937.1 534.9 L937.9 534.1 L938.7 534.6 L939.5 534.0 L940.3 531.2 L941.1 531.5 L941.9 531.0 L942.7 531.4 L943.5 531.6 L944.3 529.2 L945.2 528.8 L946.0 530.2 L946.8 529.4 L947.7 528.9 L948.5 528.0 L949.3 525.7 L950.2 527.3 L951.0 526.5 L951.8 526.1 L952.6 529.5 L953.4 526.2 L954.2 530.2 L955.0 528.2 L955.8 529.8 L956.6 531.6 L957.4 531.0 L958.1 533.5 L958.9 534.8 L959.7 535.2 L960.5 536.1 L961.3 535.8 L962.1 536.2 L962.9 535.1 L963.7 537.8 L964.5 535.5 L965.3 535.5 L966.1 536.1 L966.9 537.8 L967.7 537.3 L968.5 539.0 L969.3 537.8 L970.1 538.3 L970.9 536.7 L971.7 535.0 L972.5 538.9 L973.3 537.9 L974.1 536.0 L974.9 535.9 L975.7 536.9 L976.5 535.3 L977.3 534.8 L978.1 537.5 L978.9 536.6 L979.7 533.3 L980.5 535.7 L981.3 535.3 L982.1 536.2 L983.0 537.8 L983.8 534.2 L984.6 533.3 L985.5 532.2 L986.3 532.9 L987.1 531.4 L988.0 531.0 L988.8 531.9 L989.6 533.1 L990.5 528.4 L991.3 530.3 L992.1 523.1 L992.9 530.5 L993.6 532.7 L994.4 533.7 L995.2 534.3 L996.0 535.0 L996.7 534.3 L997.5 533.2 L998.3 535.6 L999.1 534.1 L999.8 536.5 L1000.6 537.6 L1001.4 539.0 L1002.2 536.6 L1003.1 539.1 L1003.9 539.6 L1004.7 537.8 L1005.6 537.2 L1006.4 537.2 L1007.2 536.6 L1008.1 535.4 L1008.9 532.7 L1009.7 533.7 L1010.6 532.0 L1011.4 532.8 L1012.2 532.6 L1013.0 531.1 L1013.7 530.3 L1014.5 530.1 L1015.3 533.1 L1016.1 530.5 L1016.8 530.3 L1017.6 530.5 L1018.4 531.0 L1019.2 529.8 L1019.9 530.4 L1020.7 529.2 L1021.5 530.3 L1022.3 530.0 L1023.2 528.8 L1024.0 527.1 L1024.8 528.4 L1025.7 528.3 L1026.5 531.1 L1027.3 528.3 L1028.2 530.6 L1029.0 527.8 L1029.8 529.9 L1030.7 530.6 L1031.5 529.8 L1032.3 532.5 L1033.2 533.9 L1034.0 535.1 L1034.8 536.6 L1035.7 536.1 L1036.5 539.0 L1037.3 540.2 L1038.2 540.5 L1039.0 540.4 L1039.8 543.5 L1040.6 542.5 L1041.4 539.5 L1042.2 540.4 L1043.0 537.4 L1043.8 537.7 L1044.6 538.3 L1045.4 535.8 L1046.2 537.3 L1047.0 537.4 L1047.8 537.4 L1048.6 535.4 L1049.4 536.5 L1050.2 536.3 L1051.0 539.2 L1051.8 537.4 L1052.6 537.6 L1053.4 535.7 L1054.2 535.3 L1055.0 533.1 L1055.8 532.9 L1056.5 534.8 L1057.3 534.3 L1058.1 532.3 L1058.9 533.6 L1059.6 534.1 L1060.4 536.4 L1061.2 534.0 L1062.0 533.8 L1062.7 533.9 L1063.5 530.9 L1064.3 532.8 L1065.1 533.3 L1065.9 534.4 L1066.7 534.6 L1067.5 533.1 L1068.3 533.8 L1069.1 532.9 L1069.9 530.9 L1070.7 530.9 L1071.6 531.7 L1072.4 532.4 L1073.2 531.5 L1074.0 530.2 L1074.8 530.7 L1075.6 533.2 L1076.4 531.8 L1077.2 532.4 L1078.0 531.6 L1078.8 529.9 L1079.6 530.6 L1080.4 534.3 L1081.3 533.8 L1082.1 537.0 L1082.9 535.7 L1083.7 537.3 L1084.5 537.4 L1085.3 535.7 L1086.1 536.1 L1087.0 537.9 L1087.8 540.9 L1088.6 538.2 L1089.4 539.0 L1090.2 540.5 L1091.0 538.6 L1091.8 537.3 L1092.6 537.7 L1093.3 537.7 L1094.1 535.4 L1094.9 537.5 L1095.7 537.8 L1096.5 537.9 L1097.3 537.0 L1098.1 539.3 L1098.8 538.2 L1099.6 536.3 L1100.4 536.2 L1101.2 536.5 L1102.0 535.3 L1102.8 533.4 L1103.6 534.0 L1104.4 536.0 L1105.2 534.3 L1106.0 537.0 L1106.8 535.7 L1107.6 535.1 L1108.5 534.6 L1109.3 534.8 L1110.1 535.3 L1110.9 536.9 L1111.7 538.2 L1112.5 535.8 L1113.3 536.2 L1114.1 538.3 L1114.9 537.6 L1115.7 538.5 L1116.5 536.0 L1117.3 536.5 L1118.1 536.6 L1118.9 538.9 L1119.7 538.4 L1120.5 538.6 L1121.4 537.5 L1122.2 538.0 L1123.0 538.0 L1123.8 535.4 L1124.6 537.5 L1125.4 542.4 L1126.2 539.9 L1127.0 539.0 L1127.8 539.7 L1128.6 540.0 L1129.4 538.7 L1130.1 539.4 L1130.9 538.9 L1131.7 539.4 L1132.5 539.8 L1133.3 538.1 L1134.1 536.3 L1134.8 534.1 L1135.6 534.5 L1136.4 535.0 L1137.2 535.3 L1138.0 535.4 L1138.8 535.4 L1139.6 534.1 L1140.4 532.7 L1141.2 534.4 L1142.0 532.4 L1142.8 531.7 L1143.6 534.0 L1144.4 533.9 L1145.1 534.6 L1145.9 534.4 L1146.7 532.0 L1147.5 532.1 L1148.3 531.8 L1149.1 530.1 L1149.9 534.7 L1150.7 533.7 L1151.5 532.8 L1152.3 532.8 L1153.1 530.8 L1153.9 531.3 L1154.7 533.9 L1155.5 532.6 L1156.3 536.4 L1157.1 537.2 L1157.9 536.2 L1158.8 536.0 L1159.6 538.5 L1160.4 534.3 L1161.2 538.3 L1162.0 538.2 L1162.8 537.8 L1163.6 540.4 L1164.4 536.1 L1165.2 533.9 L1166.0 532.3 L1166.8 531.8 L1167.6 530.2 L1168.4 530.3 L1169.2 526.8 L1170.0 525.3 L1170.7 523.9 L1171.5 522.3 L1172.2 521.3 L1172.9 516.5 L1173.7 515.2 L1174.4 510.7 L1175.3 510.2 L1176.1 513.4 L1177.0 517.7 L1177.8 517.6 L1178.7 517.7 L1179.5 521.5 L1180.2 525.3 L1181.0 529.0 L1181.7 532.8 L1182.5 536.6 L1183.3 534.0 L1184.2 535.4 L1185.0 535.0 L1185.8 534.5 L1186.7 534.7 L1187.5 535.9 L1188.3 537.7 L1189.2 536.8 L1190.0 537.4 L1190.8 535.8 L1191.7 534.9 L1192.5 534.0 L1193.3 532.8 L1194.2 536.1 L1195.0 536.2 L1195.8 538.8 L1196.7 538.8 L1197.5 535.8 L1198.3 537.9 L1199.2 537.7 L1200.0 540.4 L1200.8 543.4 L1201.6 539.0 L1202.4 537.6 L1203.2 537.5 L1204.0 536.8 L1204.8 535.9 L1205.6 531.7 L1206.3 534.0 L1207.1 532.9 L1207.9 531.6 L1208.7 531.7 L1209.5 532.5 L1210.3 531.9 L1211.1 532.2 L1211.9 530.5 L1212.7 531.6 L1213.5 529.7 L1214.4 531.9 L1215.2 529.7 L1216.0 531.8 L1216.9 530.2 L1217.7 532.4 L1218.5 535.0 L1219.4 534.6 L1220.2 534.3 L1221.0 537.9 L1221.9 537.0 L1222.7 536.6 L1223.5 537.4 L1224.3 538.6 L1225.1 539.7 L1225.9 539.2 L1226.7 537.6 L1227.5 539.2 L1228.3 540.7 L1229.1 539.8 L1229.9 540.1 L1230.7 539.5 L1231.5 538.5 L1232.3 537.9 L1233.2 532.7 L1234.0 536.8 L1234.8 535.6 L1235.6 538.2 L1236.4 538.9 L1237.2 541.4 L1238.0 541.5 L1238.8 540.2 L1239.6 537.7 L1240.4 537.3 L1241.2 537.6 L1242.0 537.7 L1242.8 539.0 L1243.6 537.4 L1244.4 539.7 L1245.2 541.3 L1246.0 542.3 L1246.8 540.8 L1247.6 543.5 L1248.4 542.3 L1249.2 540.8 L1250.0 541.3 L1250.8 542.3 L1251.6 545.9 L1252.4 546.1 L1253.2 544.9 L1254.0 546.6 L1254.8 546.1 L1255.6 544.3 L1256.4 546.6 L1257.2 546.1 L1258.0 546.8 L1258.8 549.7 L1259.6 548.5 L1260.4 546.6 L1261.2 544.0 L1262.0 543.8 L1262.9 544.7 L1263.7 548.2 L1264.5 548.8 L1265.3 546.6 L1266.1 548.3 L1266.9 547.7 L1267.8 547.5 L1268.6 546.8 L1269.4 547.3 L1270.2 546.7 L1271.0 547.2 L1271.8 546.7 L1272.7 546.8 L1273.5 544.7 L1274.3 545.7 L1275.1 543.2 L1275.9 545.5 L1276.7 543.1 L1277.5 543.3 L1278.4 543.2 L1279.2 543.0 L1280.0 545.3 L1280.8 543.6 L1281.6 543.4 L1282.4 542.5 L1283.1 541.6 L1283.9 544.5 L1284.7 542.4 L1285.5 544.6 L1286.3 543.5 L1287.1 542.3 L1287.8 542.2 L1288.6 538.8 L1289.4 539.1 L1290.2 540.3 L1291.0 541.1 L1291.9 539.6 L1292.7 541.3 L1293.5 541.1 L1294.4 543.0 L1295.2 545.0 L1296.0 543.1 L1296.9 542.9 L1297.7 545.3 L1298.5 542.8 L1299.3 543.0 L1300.1 541.0 L1300.8 544.7 L1301.6 543.3 L1302.4 543.9 L1303.2 546.0 L1304.0 545.2 L1304.8 543.5 L1305.6 541.0 L1306.4 541.2 L1307.2 543.1 L1307.9 541.7 L1308.7 542.6 L1309.5 539.1 L1310.3 542.8 L1311.1 542.4 L1311.9 544.1 L1312.7 545.1 L1313.5 546.0 L1314.3 543.5 L1315.1 543.5 L1315.9 544.1 L1316.7 545.1 L1317.5 542.8 L1318.2 542.9 L1319.0 542.0 L1319.8 543.6 L1320.6 545.1 L1321.4 546.1 L1322.2 546.3 L1323.0 545.4 L1323.8 547.6 L1324.6 546.8 L1325.4 545.3 L1326.2 544.4 L1327.1 542.8 L1327.9 541.1 L1328.8 544.5 L1329.6 544.0 L1330.5 544.8 L1331.3 542.9 L1332.2 541.4 L1333.0 540.3 L1333.8 539.0 L1334.6 539.2 L1335.4 542.7 L1336.2 542.0 L1336.9 543.0 L1337.7 543.1 L1338.5 543.6 L1339.3 542.2 L1340.1 543.4 L1340.9 543.5 L1341.7 541.1 L1342.5 539.7 L1343.3 539.7 L1344.1 540.7 L1344.8 543.3 L1345.6 544.6 L1346.4 544.6 L1347.2 542.9 L1348.0 544.0 L1348.8 544.8 L1349.6 544.8 L1350.4 546.9 L1351.2 543.8 L1352.0 542.1 L1352.8 544.2 L1353.7 543.5 L1354.5 543.9 L1355.3 542.3 L1356.1 542.8 L1356.9 540.0 L1357.7 540.8 L1358.5 539.9 L1359.3 539.8 L1360.1 538.1 L1360.9 540.5 L1361.7 540.6 L1362.5 537.9 L1363.3 540.2 L1364.1 534.2 L1364.9 539.6 L1365.7 541.2 L1366.5 544.1 L1367.3 544.5 L1368.1 542.3 L1368.9 544.6 L1369.7 543.2 L1370.5 545.0 L1371.2 543.4 L1372.0 543.7 L1372.8 546.7 L1373.6 547.7 L1374.4 545.3 L1375.2 546.1 L1376.0 547.4 L1376.8 543.6 L1377.6 548.0 L1378.4 549.2 L1379.2 547.6 L1380.0 548.6 L1380.8 544.5 L1381.6 548.0 L1382.4 549.8 L1383.2 547.8 L1384.0 551.0 L1384.8 549.0 L1385.6 550.2 L1386.3 549.0 L1387.1 546.9 L1387.9 547.4 L1388.7 547.6 L1389.5 545.7 L1390.3 548.9 L1391.1 548.5 L1391.9 546.7 L1392.7 545.6 L1393.4 545.4 L1394.2 543.7 L1395.0 541.8 L1395.8 544.0 L1396.6 545.1 L1397.3 543.9 L1398.1 546.7 L1398.8 549.5 L1399.6 550.4 L1400.4 551.5 L1401.2 547.6 L1402.0 547.2 L1402.9 546.6 L1403.7 545.1 L1404.5 547.7 L1405.3 546.5 L1406.1 546.7 L1406.9 546.3 L1407.7 545.9 L1408.6 541.6 L1409.4 540.3 L1410.2 540.4 L1411.0 541.6 L1411.8 543.4 L1412.6 543.1 L1413.5 541.5 L1414.3 543.4 L1415.1 543.0 L1415.9 544.2 L1416.8 544.1 L1417.6 543.4 L1418.4 545.8 L1419.2 545.1 L1420.0 542.8 L1420.8 540.9 L1421.6 542.7 L1422.4 544.3 L1423.2 541.6 L1424.0 543.0 L1424.8 541.7 L1425.6 539.1 L1426.3 539.3 L1427.1 536.9 L1427.9 535.2 L1428.7 536.1 L1429.5 534.8 L1430.3 535.3 L1431.1 533.3 L1431.9 533.5 L1432.7 533.8 L1433.5 534.0 L1434.3 534.6 L1435.1 535.0 L1435.9 539.1 L1436.7 537.6 L1437.4 536.7 L1438.2 536.9 L1439.0 535.9 L1439.8 538.2 L1440.6 537.4 L1441.4 538.0 L1442.2 541.7 L1442.9 539.8 L1443.7 544.1 L1444.5 544.3 L1445.3 544.1 L1446.1 542.8 L1446.9 548.2 L1447.7 542.4 L1448.5 541.7 L1449.3 541.7 L1450.1 542.7 L1450.9 542.0 L1451.7 542.3 L1452.5 543.6 L1453.3 543.7 L1454.0 542.1 L1454.8 543.5 L1455.6 540.4 L1456.4 543.0 L1457.2 540.3 L1458.0 541.0 L1458.8 542.5 L1459.6 542.3 L1460.4 544.0 L1461.2 542.8 L1462.0 540.9 L1462.8 542.6 L1463.6 540.3 L1464.3 542.9 L1465.1 541.1 L1465.9 543.0 L1466.7 547.1 L1467.5 543.0 L1468.3 540.2 L1469.1 539.7 L1469.9 543.3 L1470.7 541.5 L1471.4 542.9 L1472.2 542.6 L1473.0 542.2 L1473.8 540.3 L1474.6 541.7 L1475.4 540.4 L1476.2 542.7 L1477.0 539.7 L1477.8 540.3 L1478.6 541.9 L1479.4 541.3 L1480.2 542.7 L1481.0 546.3 L1481.8 542.3 L1482.6 543.4 L1483.4 543.8 L1484.3 544.2 L1485.1 543.0 L1485.9 547.8 L1486.7 543.5 L1487.5 544.1 L1488.3 545.4 L1489.1 544.8 L1489.9 545.6 L1490.7 545.6 L1491.5 542.7 L1492.3 543.3 L1493.1 542.3 L1493.9 544.0 L1494.7 545.1 L1495.5 542.9 L1496.2 543.1 L1497.0 546.4 L1497.8 546.3 L1498.6 547.7 L1499.3 547.1 L1500.1 545.8 L1500.9 545.8 L1501.7 546.6 L1502.4 545.7 L1503.2 548.3 L1504.0 547.8 L1504.8 549.2 L1505.6 548.8 L1506.4 549.8 L1507.2 547.3 L1507.9 546.4 L1508.7 547.6 L1509.5 546.7 L1510.3 548.3 L1511.1 549.7 L1511.9 546.7 L1512.7 548.0 L1513.5 546.2 L1514.3 547.9 L1515.1 548.8 L1515.8 549.2 L1516.6 552.6 L1517.4 551.1 L1518.2 548.8 L1519.0 550.4 L1519.8 548.4 L1520.6 548.4 L1521.4 550.3 L1522.2 548.7 L1522.9 550.1 L1523.7 550.6 L1524.5 548.4 L1525.3 544.2 L1526.1 550.1 L1526.9 548.2 L1527.7 548.8 L1528.4 549.0 L1529.2 547.4 L1530.0 549.1 L1530.8 548.6 L1531.6 546.6 L1532.4 548.7 L1533.3 545.4 L1534.2 542.5 L1535.0 543.1 L1535.8 537.2 L1536.7 539.0 L1537.5 536.2 L1538.4 539.0 L1539.2 539.7 L1540.0 538.3 L1540.9 537.9 L1541.7 533.8 L1542.5 535.4 L1543.4 535.4 L1544.2 535.3 L1545.0 534.5 L1545.8 535.5 L1546.6 536.3 L1547.4 536.9 L1548.2 537.9 L1549.0 539.1 L1549.8 540.8 L1550.6 539.8 L1551.4 543.2 L1552.1 540.9 L1552.9 542.2 L1553.7 542.9 L1554.5 542.3 L1555.3 541.6 L1556.1 545.3 L1556.9 545.7 L1557.7 544.5 L1558.5 546.8 L1559.3 545.3 L1560.1 544.8 L1560.9 543.4 L1561.7 543.4 L1562.5 541.5 L1563.3 544.1 L1564.1 542.3 L1564.9 540.8 L1565.7 541.4 L1566.5 543.1 L1567.3 541.3 L1568.1 542.8 L1568.9 542.4 L1569.7 542.6 L1570.5 545.2 L1571.3 545.5 L1572.1 542.2 L1572.9 540.6 L1573.7 538.4 L1574.5 541.8 L1575.3 540.2 L1576.1 541.9 L1576.9 541.6 L1577.7 540.5 L1578.6 541.2 L1579.4 540.2 L1580.2 538.9 L1581.1 539.0 L1581.9 538.1 L1582.7 539.7 L1583.6 538.8 L1584.4 539.0 L1585.2 542.2 L1586.0 541.5 L1586.8 539.9 L1587.6 539.2 L1588.3 541.5 L1589.1 540.3 L1589.9 539.7 L1590.7 541.2 L1591.5 541.8 L1592.3 543.9 L1593.1 544.2 L1593.8 546.9 L1594.6 547.9 L1595.4 547.5 L1596.2 546.3 L1597.0 546.6 L1597.8 543.0 L1598.6 546.4 L1599.4 544.8 L1600.2 545.7 L1601.0 545.5 L1601.8 547.9 L1602.6 547.2 L1603.4 550.9 L1604.2 547.9 L1604.9 548.8 L1605.7 550.7 L1606.5 550.0 L1607.3 550.9 L1608.1 547.9 L1608.9 549.6 L1609.7 548.9 L1610.5 548.9 L1611.3 549.4 L1612.1 549.1 L1612.9 550.4 L1613.7 549.2 L1614.5 549.5 L1615.3 550.7 L1616.1 550.6 L1616.9 547.7 L1617.7 550.3 L1618.5 546.6 L1619.3 549.1 L1620.0 551.4 L1620.8 549.6 L1621.6 549.9 L1622.4 548.7 L1623.2 545.6 L1624.0 544.8 L1624.8 543.6 L1625.6 544.1 L1626.4 543.1 L1627.2 545.3 L1628.0 546.1 L1628.8 544.8 L1629.6 542.4 L1630.4 543.3 L1631.2 541.7 L1632.0 545.2 L1632.8 544.8 L1633.6 544.7 L1634.4 544.5 L1635.1 544.7 L1635.9 541.2 L1636.7 542.5 L1637.5 541.4 L1638.3 542.7 L1639.1 541.8 L1639.9 539.7 L1640.7 540.0 L1641.5 541.8 L1642.3 542.8 L1643.1 541.5 L1643.9 544.2 L1644.6 542.3 L1645.4 544.5 L1646.2 545.7 L1647.0 545.4 L1647.7 543.9 L1648.5 541.6 L1649.3 542.5 L1650.1 545.7 L1650.8 549.4 L1651.6 545.2 L1652.4 546.6 L1653.2 544.7 L1654.0 545.3 L1654.8 544.4 L1655.6 547.1 L1656.4 546.7 L1657.2 545.2 L1658.0 548.0 L1658.8 548.1 L1659.6 547.8 L1660.4 546.9 L1661.2 548.1 L1662.0 547.9 L1662.8 548.4 L1663.6 549.4 L1664.4 550.8 L1665.2 551.7 L1666.0 551.7 L1666.8 552.8 L1667.6 551.0 L1668.4 552.9 L1669.2 552.0 L1670.0 550.9 L1670.8 550.9 L1671.6 550.9 L1672.4 548.5 L1673.2 548.9 L1674.0 549.5 L1674.8 547.8 L1675.6 547.5 L1676.4 547.1 L1677.2 549.1 L1678.0 548.5 L1678.8 548.6 L1679.6 550.5 L1680.4 548.7 L1681.2 548.5 L1682.0 548.0 L1682.8 546.6 L1683.6 548.6 L1684.4 545.6 L1685.2 547.3 L1686.0 548.2 L1686.8 544.9 L1687.6 544.8 L1688.4 543.3 L1689.2 545.8 L1690.0 547.7 L1690.8 546.9 L1691.6 548.2 L1692.4 546.1 L1693.2 547.6 L1694.0 542.1 L1694.8 546.5 L1695.5 546.3 L1696.3 547.3 L1697.1 546.3 L1697.9 547.6 L1698.7 545.4 L1699.5 547.9 L1700.3 542.9 L1701.1 547.9 L1701.9 545.9 L1702.7 546.6 L1703.5 546.0 L1704.3 548.9 L1705.1 547.0 L1705.9 545.5 L1706.7 548.2 L1707.5 547.3 L1708.3 547.1 L1709.2 545.3 L1710.0 547.2 L1710.8 546.2 L1711.6 547.6 L1712.4 547.7 L1713.2 547.4 L1714.0 544.9 L1714.8 546.3 L1715.6 546.2 L1716.4 549.8 L1717.2 547.6 L1718.0 548.2 L1718.8 550.2 L1719.7 547.7 L1720.5 547.0 L1721.3 546.2 L1722.1 547.6 L1722.9 549.4 L1723.7 546.7 L1724.5 546.7 L1725.3 549.1 L1726.1 553.6 L1726.9 550.8 L1727.7 548.8 L1728.5 551.7 L1729.2 550.8 L1730.0 551.2 L1730.8 548.7 L1731.6 550.9 L1732.4 549.9 L1733.2 549.2 L1734.0 549.9 L1734.8 551.6 L1735.5 553.2 L1736.3 550.9 L1737.1 553.2 L1737.9 550.4 L1738.7 551.2 L1739.5 551.6 L1740.3 550.9 L1741.1 548.8 L1741.9 548.7 L1742.7 549.9 L1743.5 547.6 L1744.3 549.5 L1745.1 548.9 L1745.9 546.2 L1746.7 545.7 L1747.5 546.5 L1748.3 544.7 L1749.1 544.0 L1749.9 546.9 L1750.7 546.8 L1751.5 546.2 L1752.3 548.7 L1753.1 548.4 L1753.9 549.9 L1754.7 550.2 L1755.5 548.3 L1756.3 543.6 L1757.2 549.1 L1758.0 550.3 L1758.8 551.5 L1759.6 550.6 L1760.4 548.9 L1761.2 548.1 L1762.0 548.3 L1762.8 548.3 L1763.6 547.4 L1764.4 548.2 L1765.2 549.8 L1766.0 547.9 L1766.8 548.5 L1767.6 549.0 L1768.4 548.3 L1769.1 547.8 L1769.9 548.7 L1770.7 548.2 L1771.5 551.0 L1772.3 548.8 L1773.1 551.1 L1773.9 551.0 L1774.7 551.9 L1775.5 554.5 L1776.3 554.6 L1777.0 554.1 L1777.8 555.3 L1778.6 556.8 L1779.4 555.5 L1780.2 554.0 L1781.0 553.1 L1781.8 550.2 L1782.6 552.4 L1783.4 552.4 L1784.2 551.4 L1785.0 550.3 L1785.8 549.4 L1786.6 545.9 L1787.4 546.0 L1788.2 546.5 L1789.0 545.3 L1789.8 546.3 L1790.6 546.2 L1791.3 545.2 L1792.1 544.5 L1792.9 542.7 L1793.7 544.4 L1794.5 544.2 L1795.2 543.6 L1796.0 545.7 L1796.8 546.4 L1797.6 543.2 L1798.4 543.2 L1799.2 543.2 L1799.9 545.9 L1800.7 547.2 L1801.5 547.4 L1802.3 544.5 L1803.1 547.8 L1803.8 545.4 L1804.6 545.5 L1805.4 546.5 L1806.2 545.2 L1807.0 547.4 L1807.7 545.5 L1808.5 545.5 L1809.3 547.7 L1810.1 542.0 L1810.8 548.0 L1811.6 545.5 L1812.4 544.3 L1813.2 543.9 L1813.9 540.9 L1814.7 543.5 L1815.5 545.3 L1816.3 546.6 L1817.2 546.6 L1818.0 544.9 L1818.8 543.5 L1819.7 542.8 L1820.5 542.3 L1821.3 542.2 L1822.2 545.1 L1823.0 544.4 L1823.8 545.4 L1824.7 543.9 L1825.5 545.6 L1826.3 545.1 L1827.2 546.6 L1828.0 548.2 L1828.8 546.6 L1829.7 548.1 L1830.5 547.8 L1831.3 550.8 L1832.1 551.7 L1832.8 551.7 L1833.6 552.9 L1834.4 552.4 L1835.2 554.5 L1835.9 553.0 L1836.7 552.1 L1837.5 554.8 L1838.3 552.5 L1839.0 553.8 L1839.8 557.6 L1840.6 555.3 L1841.4 556.0 L1842.2 556.1 L1842.9 554.8 L1843.7 552.8 L1844.5 551.3 L1845.3 551.6 L1846.0 553.9 L1846.8 551.5 L1847.6 553.2 L1848.4 550.1 L1849.1 550.4 L1849.9 549.1 L1850.7 547.8 L1851.5 550.7 L1852.3 549.9 L1853.1 547.3 L1853.9 547.7 L1854.7 546.8 L1855.5 546.9 L1856.3 549.6 L1857.1 550.7 L1857.9 549.5 L1858.6 550.7 L1859.4 553.1 L1860.2 552.5 L1861.0 552.8 L1861.8 551.0 L1862.6 550.8 L1863.4 551.6 L1864.2 554.6 L1865.0 552.8 L1865.8 552.8 L1866.6 553.7 L1867.5 554.4 L1868.3 552.4 L1869.1 552.1 L1870.0 550.5 L1870.8 547.8 L1871.6 547.9 L1872.5 549.3 L1873.3 549.0 L1874.1 551.2 L1875.0 549.8 L1875.8 548.5 L1876.6 549.8 L1877.5 552.7 L1878.3 553.6 L1879.1 553.3 L1880.0 556.4 L1880.8 554.0 L1881.6 553.5 L1882.4 552.7 L1883.2 553.8 L1884.0 553.0 L1884.8 552.1 L1885.6 553.5 L1886.4 553.8 L1887.2 552.0 L1888.0 552.1 L1888.8 553.7 L1889.6 552.3 L1890.4 553.3 L1891.2 548.0 L1892.0 554.6 L1892.8 552.8 L1893.6 552.9 L1894.4 553.2 L1895.2 555.0 L1896.0 553.6 L1896.8 552.5 L1897.7 554.1 L1898.5 552.1 L1899.3 553.9 L1900.2 555.1 L1901.0 556.6 L1901.8 550.8 L1902.7 553.4 L1903.5 555.0 L1904.3 554.4 L1905.2 553.8 L1906.0 555.8 L1906.8 556.8 L1907.6 555.4 L1908.4 553.5 L1909.2 552.9 L1910.0 551.3 L1910.8 553.8 L1911.6 553.8 L1912.4 552.4 L1913.2 554.7 L1914.0 552.4 L1914.8 553.0 L1915.6 552.9 L1916.4 553.8 L1917.2 552.4 L1918.0 553.1 L1918.8 551.4 L1919.6 553.1 L1920.4 550.9 L1921.2 550.4 L1922.0 548.6 L1922.8 549.4 L1923.6 550.3 L1924.4 549.8 L1925.2 550.3 L1926.0 550.1 L1926.8 550.5 L1927.6 550.7 L1928.4 549.4 L1929.2 551.8 L1930.0 553.1 L1930.8 552.1 L1931.6 554.1 L1932.4 552.7 L1933.2 553.6 L1934.0 553.6 L1934.8 555.3 L1935.6 555.0 L1936.4 554.3 L1937.2 553.7 L1938.0 553.9 L1938.8 554.1 L1939.6 556.0 L1940.4 557.4 L1941.2 556.6 L1942.0 556.4 L1942.8 559.6 L1943.6 558.3 L1944.4 557.4 L1945.2 555.5 L1946.0 554.5 L1946.8 554.8 L1947.6 553.9 L1948.4 554.2 L1949.1 553.5 L1949.9 552.7 L1950.7 553.8 L1951.5 555.4 L1952.3 553.1 L1953.1 551.8 L1953.9 551.9 L1954.7 549.8 L1955.5 551.1 L1956.3 551.6 L1957.1 551.7 L1957.9 549.6 L1958.7 550.5 L1959.5 553.1 L1960.3 555.7 L1961.1 553.8 L1961.9 553.6 L1962.7 552.5 L1963.5 552.9 L1964.3 553.1 L1965.1 551.9 L1965.9 552.5 L1966.8 550.4 L1967.6 549.6 L1968.4 552.1 L1969.2 551.5 L1970.0 550.0 L1970.8 551.0 L1971.6 551.8 L1972.4 553.2 L1973.2 552.4 L1974.0 552.5 L1974.8 555.1 L1975.6 554.9 L1976.4 552.8 L1977.2 552.8 L1978.0 557.5 L1978.8 552.2 L1979.6 552.5 L1980.4 552.7 L1981.2 552.7 L1982.0 555.6 L1982.8 552.9 L1983.6 554.0 L1984.3 555.4 L1985.1 553.8 L1985.9 553.3 L1986.7 552.8 L1987.5 553.9 L1988.3 553.4 L1989.1 554.7 L1989.9 552.0 L1990.7 552.3 L1991.5 554.0 L1992.3 553.8 L1993.1 555.1 L1993.9 556.2 L1994.7 556.2 L1995.5 554.0 L1996.3 554.5 L1997.1 552.7 L1997.9 553.3 L1998.7 554.1 L1999.5 555.1 L2000.3 555.2 L2001.1 556.3 L2002.0 554.2 L2002.8 554.7 L2003.6 554.9 L2004.4 554.1 L2005.2 553.7 L2006.0 555.8 L2006.8 555.7 L2007.6 556.4 L2008.4 559.1 L2009.2 554.7 L2010.0 557.0 L2010.8 554.8 L2011.6 557.3 L2012.4 555.9 L2013.2 557.6 L2014.0 557.2 L2014.8 557.6 L2015.5 557.7 L2016.3 555.9 L2017.1 556.8 L2017.9 554.3 L2018.7 556.4 L2019.5 558.0 L2020.3 559.9 L2021.0 558.2 L2021.8 558.5 L2022.6 558.9 L2023.4 560.2 L2024.2 560.1 L2025.0 562.1 L2025.8 560.4 L2026.6 560.8 L2027.3 559.7 L2028.1 561.2 L2028.9 561.1 L2029.7 562.3 L2030.5 561.0 L2031.3 560.2 L2032.1 559.2 L2032.9 557.1 L2033.6 560.7 L2034.4 561.3 L2035.2 561.4 L2036.0 560.1 L2036.8 560.4 L2037.6 559.6 L2038.5 555.7 L2039.3 558.1 L2040.1 557.2 L2041.0 559.9 L2041.8 557.0 L2042.6 557.1 L2043.5 555.9 L2044.3 557.1 L2045.1 555.4 L2046.0 555.6 L2046.8 554.0 L2047.6 554.8 L2048.4 555.5 L2049.2 553.4 L2050.0 554.9 L2050.8 554.8 L2051.6 555.8 L2052.4 555.8 L2053.2 555.0 L2054.0 557.6 L2054.8 557.4 L2055.6 554.3 L2056.4 556.0 L2057.2 553.8 L2058.0 553.7 L2058.8 560.7 L2059.6 557.0 L2060.4 555.9 L2061.2 556.2 L2062.0 555.3 L2062.8 557.9 L2063.6 554.3 L2064.4 556.8 L2065.2 556.3 L2066.0 558.2 L2066.9 555.5 L2067.7 555.7 L2068.5 554.9 L2069.3 555.5 L2070.1 555.4 L2070.9 556.9 L2071.7 555.8 L2072.5 557.4 L2073.3 555.9 L2074.1 554.9 L2075.0 556.0 L2075.8 555.5 L2076.6 555.8 L2077.4 558.4 L2078.2 556.8 L2079.0 558.4 L2079.8 556.4 L2080.6 558.2 L2081.4 558.7 L2082.2 556.8 L2083.1 557.6 L2083.9 554.8 L2084.7 555.7 L2085.5 559.7 L2086.3 559.0 L2087.1 557.8 L2087.9 559.0 L2088.7 556.0 L2089.5 556.7 L2090.3 557.6 L2091.1 557.1 L2091.9 557.1 L2092.7 556.8 L2093.5 557.3 L2094.3 555.4 L2095.0 556.4 L2095.8 555.1 L2096.6 556.2 L2097.4 557.1 L2098.2 556.7 L2099.0 557.1 L2099.8 555.3 L2100.6 557.6 L2101.4 558.0 L2102.2 557.8 L2103.0 558.2 L2103.8 557.6 L2104.6 559.8 L2105.4 558.9 L2106.1 558.4 L2106.9 556.6 L2107.7 554.8 L2108.5 558.3 L2109.3 555.9 L2110.1 557.9 L2110.9 559.2 L2111.7 560.3 L2112.5 559.7 L2113.2 558.5 L2114.0 563.2 L2114.8 558.4 L2115.6 557.9 L2116.4 561.2 L2117.2 558.8 L2118.0 560.4 L2118.8 559.2 L2119.5 559.3 L2120.3 561.1 L2121.1 558.7 L2121.9 556.4 L2122.7 558.3 L2123.5 558.4 L2124.3 558.2 L2125.1 559.1 L2125.9 560.0 L2126.6 559.1 L2127.4 559.4 L2128.2 557.6 L2129.0 556.2 L2129.8 559.1 L2130.6 557.9 L2131.4 555.9 L2132.2 557.7 L2133.1 557.0 L2133.9 557.6 L2134.7 559.8 L2135.5 558.9 L2136.3 559.2 L2137.1 559.6 L2137.9 560.0 L2138.7 560.4 L2139.6 559.8 L2140.4 559.9 L2141.2 560.9 L2142.0 561.6 L2142.8 562.8 L2143.6 562.7 L2144.4 561.5 L2145.2 562.4 L2146.1 559.2 L2146.9 561.1 L2147.7 561.5 L2148.5 561.6 L2149.3 562.1 L2150.1 562.5 L2150.9 561.1 L2151.7 562.6 L2152.6 561.3 L2153.4 561.9 L2154.2 562.2 L2155.0 562.4 L2155.8 565.1 L2156.6 562.3 L2157.4 562.3 L2158.2 561.2 L2158.9 562.7 L2159.7 560.0 L2160.5 561.4 L2161.3 561.6 L2162.1 562.3 L2162.9 561.1 L2163.7 559.3 L2164.5 560.7 L2165.3 558.9 L2166.1 559.2 L2166.8 558.9 L2167.6 557.1 L2168.4 556.4 L2169.2 555.8 L2170.0 557.8 L2170.8 554.4 L2171.6 557.5 L2172.4 557.2 L2173.2 557.4 L2174.0 556.0 L2174.8 557.7 L2175.6 558.2 L2176.4 557.4 L2177.2 557.7 L2178.0 558.1 L2178.8 558.2 L2179.6 555.3 L2180.4 554.3 L2181.2 556.5 L2182.0 557.3 L2182.8 557.6 L2183.6 556.6 L2184.4 555.9 L2185.2 556.6 L2186.0 554.5 L2186.9 554.8 L2187.7 556.3 L2188.5 554.2 L2189.4 555.1 L2190.2 558.4 L2191.0 556.5 L2191.9 558.2 L2192.7 559.6 L2193.5 560.2 L2194.3 559.9 L2195.1 562.2 L2195.9 560.6 L2196.7 561.4 L2197.5 561.1 L2198.3 560.7 L2199.1 561.8 L2199.9 560.8 L2200.6 558.4 L2201.4 559.0 L2202.2 558.3 L2203.0 559.5 L2203.8 558.9 L2204.6 555.6 L2205.4 558.3 L2206.2 555.3 L2207.0 556.9 L2207.8 557.3 L2208.6 556.1 L2209.4 555.8 L2210.2 557.6 L2211.0 558.0 L2211.7 558.8 L2212.5 556.8 L2213.3 558.5 L2214.1 557.7 L2214.9 559.6 L2215.7 560.6 L2216.5 560.7 L2217.2 559.8 L2218.0 561.4 L2218.8 561.4 L2219.6 560.7 L2220.4 560.4" fill="none" stroke="#00AC63" stroke-width="4.2" stroke-linejoin="round" stroke-linecap="round"/>
<rect x="22" y="2009" width="2368" height="8" fill="#000"/>
<rect x="191" y="162" width="8" height="1860" fill="#000"/>
<rect x="26.0" y="2013" width="7.7" height="18.0" fill="#000"/>
<rect x="194.7" y="2013" width="7.7" height="36.0" fill="#000"/>
<rect x="363.3" y="2013" width="7.7" height="18.0" fill="#000"/>
<rect x="531.9" y="2013" width="7.7" height="36.0" fill="#000"/>
<rect x="700.5" y="2013" width="7.7" height="18.0" fill="#000"/>
<rect x="869.1" y="2013" width="7.7" height="36.0" fill="#000"/>
<rect x="1037.8" y="2013" width="7.7" height="18.0" fill="#000"/>
<rect x="1206.4" y="2013" width="7.7" height="36.0" fill="#000"/>
<rect x="1375.0" y="2013" width="7.7" height="18.0" fill="#000"/>
<rect x="1543.7" y="2013" width="7.7" height="36.0" fill="#000"/>
<rect x="1712.3" y="2013" width="7.7" height="18.0" fill="#000"/>
<rect x="1880.9" y="2013" width="7.7" height="36.0" fill="#000"/>
<rect x="2049.5" y="2013" width="7.7" height="18.0" fill="#000"/>
<rect x="2218.2" y="2013" width="7.7" height="36.0" fill="#000"/>
<text x="198.3" y="2133.5" font-family="'Liberation Serif', 'Times New Roman', serif" font-size="80" text-anchor="middle">20</text>
<text x="535.5" y="2133.5" font-family="'Liberation Serif', 'Times New Roman', serif" font-size="80" text-anchor="middle">30</text>
<text x="872.8" y="2133.5" font-family="'Liberation Serif', 'Times New Roman', serif" font-size="80" text-anchor="middle">40</text>
<text x="1210.0" y="2133.5" font-family="'Liberation Serif', 'Times New Roman', serif" font-size="80" text-anchor="middle">50</text>
<text x="1547.3" y="2133.5" font-family="'Liberation Serif', 'Times New Roman', serif" font-size="80" text-anchor="middle">60</text>
<text x="1884.5" y="2133.5" font-family="'Liberation Serif', 'Times New Roman', serif" font-size="80" text-anchor="middle">70</text>
<text x="2221.8" y="2133.5" font-family="'Liberation Serif', 'Times New Roman', serif" font-size="80" text-anchor="middle">80</text>
<text x="246.1" y="271.5" font-family="'Liberation Serif', 'Times New Roman', serif" font-size="96">c</text>
<text x="295.0" y="412.8" font-family="'Liberation Serif', 'Times New Roman', serif" font-size="96">w</text>
<text x="385.0" y="354.0" font-family="'Liberation Serif', 'Times New Roman', serif" font-size="96">w</text>
<text x="439.6" y="399.8" font-family="'Liberation Serif', 'Times New Roman', serif" font-size="96">w</text>
<text x="510.0" y="420.4" font-family="'Liberation Serif', 'Times New Roman', serif" font-size="96">w</text>
<text x="577.9" y="429.9" font-family="'Liberation Serif', 'Times New Roman', serif" font-size="96">w</text>
<text x="659.7" y="404.3" font-family="'Liberation Serif', 'Times New Roman', serif" font-size="96">w</text>
<text x="727.8" y="451.2" font-family="'Liberation Serif', 'Times New Roman', serif" font-size="96">c</text>
<text x="1148.9" y="454.6" font-family="'Liberation Serif', 'Times New Roman', serif" font-size="96">w</text>
<text x="1525.9" y="489.0" font-family="'Liberation Serif', 'Times New Roman', serif" font-size="96">c</text>
<text x="241.5" y="583.8" font-family="'Liberation Serif', 'Times New Roman', serif" font-size="96">c</text>
<text x="295.0" y="794.9" font-family="'Liberation Serif', 'Times New Roman', serif" font-size="96">w</text>
<text x="390.6" y="722.0" font-family="'Liberation Serif', 'Times New Roman', serif" font-size="96">w</text>
<text x="450.9" y="739.1" font-family="'Liberation Serif', 'Times New Roman', serif" font-size="96">w</text>
<text x="510.0" y="767.8" font-family="'Liberation Serif', 'Times New Roman', serif" font-size="96">w</text>
<text x="581.7" y="803.0" font-family="'Liberation Serif', 'Times New Roman', serif" font-size="96">w</text>
<text x="647.1" y="807.0" font-family="'Liberation Serif', 'Times New Roman', serif" font-size="96">w</text>
<text x="727.6" y="841.8" font-family="'Liberation Serif', 'Times New Roman', serif" font-size="96">c</text>
<text x="1132.1" y="872.1" font-family="'Liberation Serif', 'Times New Roman', serif" font-size="96">w</text>
<text x="1221.9" y="867.1" font-family="'Liberation Serif', 'Times New Roman', serif" font-size="96">w</text>
<text x="1525.9" y="888.8" font-family="'Liberation Serif', 'Times New Roman', serif" font-size="96">c</text>
<text x="1783.0" y="886.5" font-family="'Liberation Serif', 'Times New Roman', serif" font-size="96">c</text>
<text x="239.2" y="962.0" font-family="'Liberation Serif', 'Times New Roman', serif" font-size="96">c</text>
<text x="398.6" y="1147.3" font-family="'Liberation Serif', 'Times New Roman', serif" font-size="96">w</text>
<text x="458.9" y="1180.5" font-family="'Liberation Serif', 'Times New Roman', serif" font-size="96">w</text>
<text x="527.3" y="1193.5" font-family="'Liberation Serif', 'Times New Roman', serif" font-size="96">w</text>
<text x="604.7" y="1215.6" font-family="'Liberation Serif', 'Times New Roman', serif" font-size="96">w</text>
<text x="718.9" y="1219.2" font-family="'Liberation Serif', 'Times New Roman', serif" font-size="96">c</text>
<text x="1179.1" y="1262.0" font-family="'Liberation Serif', 'Times New Roman', serif" font-size="96">w</text>
<text x="242.2" y="1352.0" font-family="'Liberation Serif', 'Times New Roman', serif" font-size="96">c</text>
<text x="390.0" y="1623.1" font-family="'Liberation Serif', 'Times New Roman', serif" font-size="96">w</text>
<text x="454.3" y="1674.8" font-family="'Liberation Serif', 'Times New Roman', serif" font-size="96">w</text>
<text x="513.7" y="1661.3" font-family="'Liberation Serif', 'Times New Roman', serif" font-size="96">w</text>
<text x="578.1" y="1699.9" font-family="'Liberation Serif', 'Times New Roman', serif" font-size="96">w</text>
<text x="719.3" y="1679.4" font-family="'Liberation Serif', 'Times New Roman', serif" font-size="96">c</text>
<text x="1182.9" y="1751.3" font-family="'Liberation Serif', 'Times New Roman', serif" font-size="96">w</text>
<text x="1951.5" y="481.3" font-family="'Liberation Serif', 'Times New Roman', serif" font-size="96" xml:space="preserve">9 wt.%</text>
<text x="1952.3" y="880.0" font-family="'Liberation Serif', 'Times New Roman', serif" font-size="96" xml:space="preserve">6 wt.%</text>
<text x="1947.3" y="1279.5" font-family="'Liberation Serif', 'Times New Roman', serif" font-size="96" xml:space="preserve">3 wt.%</text>
<text x="1932.3" y="1769.0" font-family="'Liberation Serif', 'Times New Roman', serif" font-size="96" xml:space="preserve">1 wt.%</text>
<text x="1455.9" y="100" font-family="'Liberation Serif', 'Times New Roman', serif" font-size="96" xml:space="preserve">c = cristobalite</text>
<text x="2144.8" y="100" font-family="'Liberation Serif', 'Times New Roman', serif" font-size="96">[SiO</text>
<text x="2322.0" y="126" font-family="'Liberation Serif', 'Times New Roman', serif" font-size="66">2</text>
<text x="2356.5" y="100" font-family="'Liberation Serif', 'Times New Roman', serif" font-size="96">]</text>
<text x="1457.0" y="240" font-family="'Liberation Serif', 'Times New Roman', serif" font-size="96" xml:space="preserve">w = wollastonite</text>
<text x="2119.8" y="240" font-family="'Liberation Serif', 'Times New Roman', serif" font-size="96">[CaSiO</text>
<text x="2403.8" y="266" font-family="'Liberation Serif', 'Times New Roman', serif" font-size="66">3</text>
<text x="2436.3" y="240" font-family="'Liberation Serif', 'Times New Roman', serif" font-size="96">]</text>
<text transform="translate(1094.80,2296.20) scale(1.0416,1.0100)" font-family="'Liberation Serif', 'Times New Roman', serif" font-size="96" font-weight="bold">2</text>
<text transform="translate(1144.62,2295.61) scale(1.0500,0.9477)" font-family="'Liberation Serif', 'Times New Roman', serif" font-size="96" font-weight="bold">θ</text>
<text transform="translate(1218.15,2296.12) scale(1.1032,0.9627)" font-family="'Liberation Serif', 'Times New Roman', serif" font-size="96" font-weight="bold">(</text>
<text transform="translate(1251.15,2257.56) scale(1.0153,0.9892)" font-family="'Liberation Serif', 'Times New Roman', serif" font-size="66" font-weight="bold">o</text>
<text transform="translate(1281.19,2296.12) scale(1.1032,0.9627)" font-family="'Liberation Serif', 'Times New Roman', serif" font-size="96" font-weight="bold">)</text>
<text transform="translate(115,1384.2) rotate(-90)" font-family="'Liberation Serif', 'Times New Roman', serif" font-size="96" font-weight="bold">Intensity (a.u.)</text>
</svg>
</body></html>
